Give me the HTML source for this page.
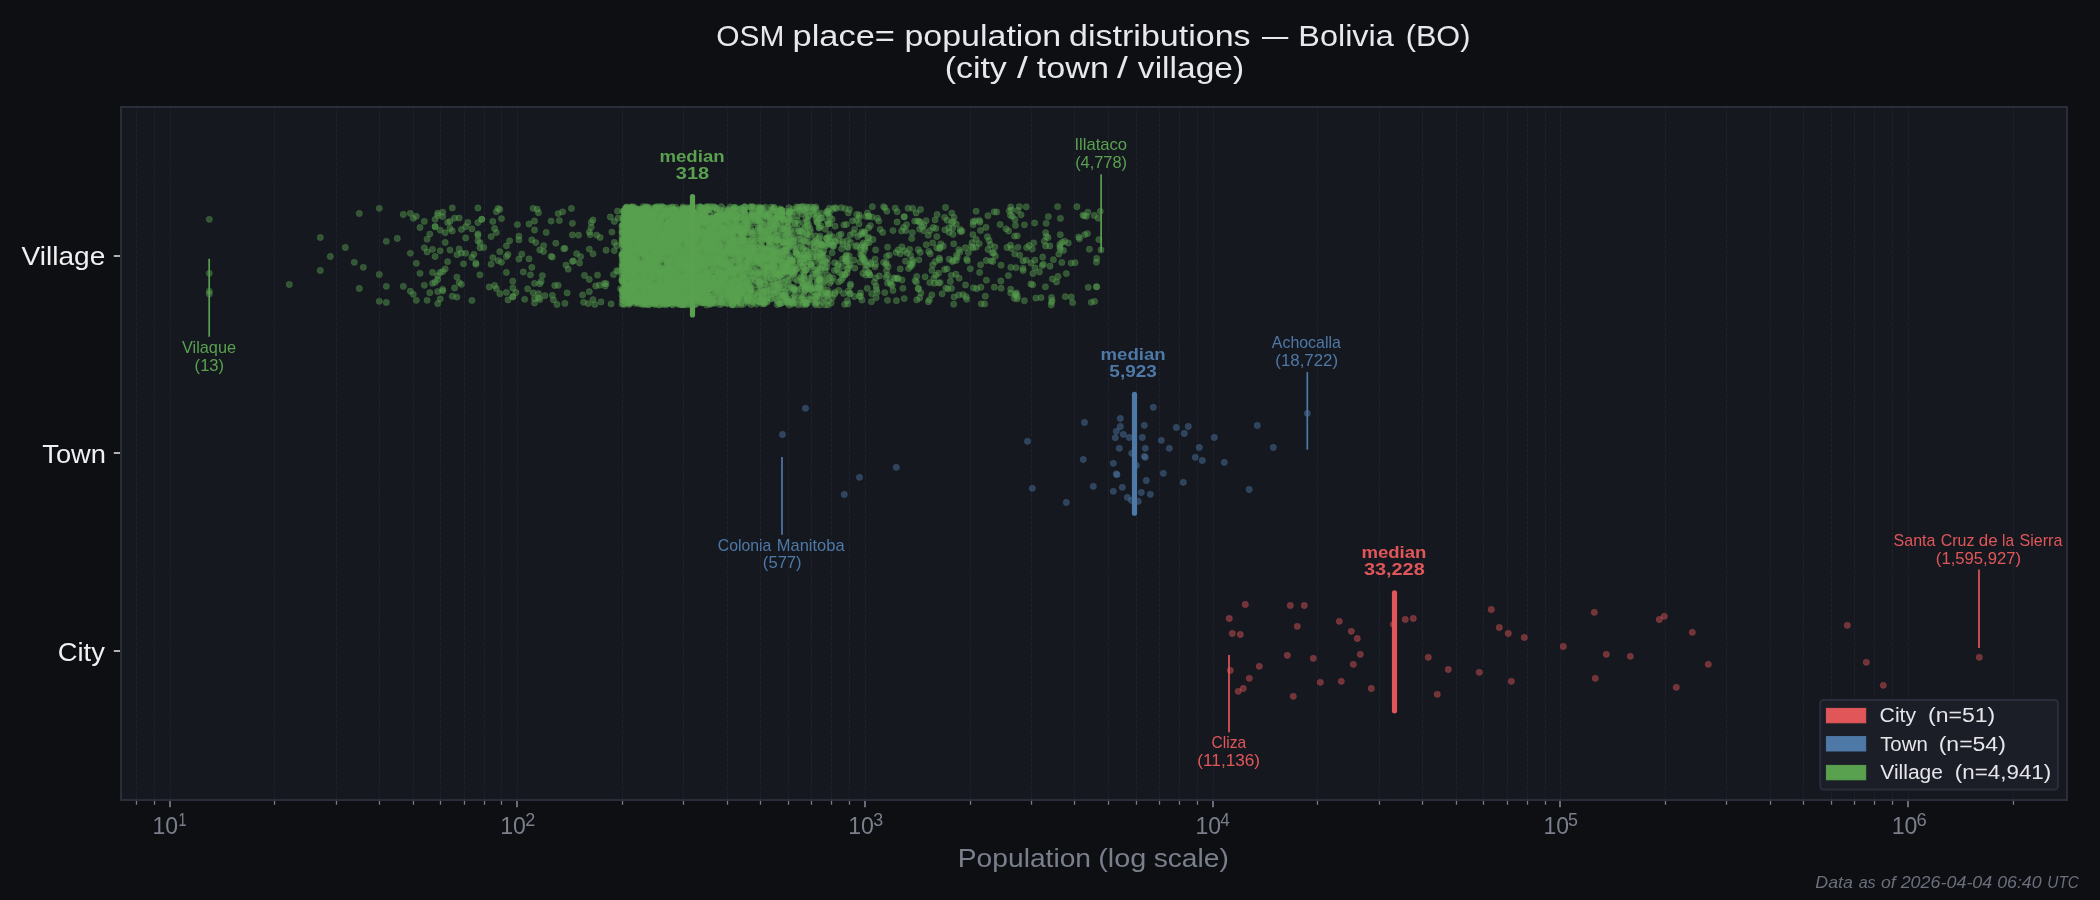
<!DOCTYPE html>
<html><head><meta charset="utf-8"><title>OSM place= population distributions</title>
<style>html,body{margin:0;padding:0;background:#0e0f13;overflow:hidden}svg{display:block;will-change:transform}text{font-family:"Liberation Sans", sans-serif;white-space:pre}</style></head><body>
<svg width="2100" height="900" viewBox="0 0 2100 900">
<rect width="2100" height="900" fill="#0e0f13"/>
<rect x="121.0" y="107.0" width="1946.0" height="693.0" fill="#161820"/>
<path d="M170.5 800.0V107.0M517.5 800.0V107.0M865.5 800.0V107.0M1213.5 800.0V107.0M1560.5 800.0V107.0M1908.5 800.0V107.0M136.5 800.0V107.0M154.5 800.0V107.0M274.5 800.0V107.0M336.5 800.0V107.0M379.5 800.0V107.0M413.5 800.0V107.0M440.5 800.0V107.0M464.5 800.0V107.0M484.5 800.0V107.0M501.5 800.0V107.0M622.5 800.0V107.0M683.5 800.0V107.0M727.5 800.0V107.0M760.5 800.0V107.0M788.5 800.0V107.0M811.5 800.0V107.0M831.5 800.0V107.0M849.5 800.0V107.0M970.5 800.0V107.0M1031.5 800.0V107.0M1074.5 800.0V107.0M1108.5 800.0V107.0M1136.5 800.0V107.0M1159.5 800.0V107.0M1179.5 800.0V107.0M1197.5 800.0V107.0M1317.5 800.0V107.0M1379.5 800.0V107.0M1422.5 800.0V107.0M1456.5 800.0V107.0M1483.5 800.0V107.0M1507.5 800.0V107.0M1527.5 800.0V107.0M1545.5 800.0V107.0M1665.5 800.0V107.0M1726.5 800.0V107.0M1770.5 800.0V107.0M1803.5 800.0V107.0M1831.5 800.0V107.0M1854.5 800.0V107.0M1874.5 800.0V107.0M1892.5 800.0V107.0M2013.5 800.0V107.0" stroke="#1f222c" stroke-width="1.05" stroke-dasharray="3.85 1.67" stroke-dashoffset="0.55" fill="none"/>
<g fill="#59a14f" fill-opacity="0.45" stroke="#59a14f" stroke-opacity="0.45" stroke-width="0.5">
<circle cx="209.3" cy="219.3" r="3.15"/><circle cx="209.3" cy="273.3" r="3.15"/><circle cx="209.3" cy="291.3" r="3.15"/><circle cx="209.3" cy="294.0" r="3.15"/><circle cx="289.3" cy="284.5" r="3.15"/><circle cx="320.3" cy="237.5" r="3.15"/><circle cx="320.3" cy="270.5" r="3.15"/><circle cx="330.3" cy="256.5" r="3.15"/><circle cx="345.3" cy="247.5" r="3.15"/><circle cx="354.3" cy="262.3" r="3.15"/><circle cx="363.3" cy="267.3" r="3.15"/><circle cx="359.3" cy="213.5" r="3.15"/><circle cx="359.3" cy="288.5" r="3.15"/><circle cx="379.3" cy="208.3" r="3.15"/><circle cx="379.3" cy="274.5" r="3.15"/><circle cx="379.3" cy="301.3" r="3.15"/><circle cx="386.3" cy="241.3" r="3.15"/><circle cx="386.3" cy="286.3" r="3.15"/><circle cx="386.3" cy="302.5" r="3.15"/><circle cx="397.3" cy="238.5" r="3.15"/><circle cx="403.3" cy="214.5" r="3.15"/><circle cx="403.3" cy="286.3" r="3.15"/><circle cx="410.3" cy="213.3" r="3.15"/><circle cx="413.3" cy="218.3" r="3.15"/><circle cx="416.3" cy="216.3" r="3.15"/><circle cx="410.3" cy="253.3" r="3.15"/><circle cx="416.3" cy="263.3" r="3.15"/><circle cx="410.3" cy="291.2" r="3.15"/><circle cx="413.3" cy="294.3" r="3.15"/><circle cx="416.3" cy="300.3" r="3.15"/><circle cx="420.0" cy="227.5" r="3.15"/><circle cx="420.0" cy="273.3" r="3.15"/><circle cx="756.1" cy="237.8" r="3.15"/><circle cx="721.3" cy="278.3" r="3.15"/><circle cx="842.8" cy="277.8" r="3.15"/><circle cx="685.3" cy="222.1" r="3.15"/><circle cx="848.1" cy="268.2" r="3.15"/><circle cx="768.1" cy="291.9" r="3.15"/><circle cx="771.5" cy="235.2" r="3.15"/><circle cx="626.5" cy="244.7" r="3.15"/><circle cx="708.3" cy="298.3" r="3.15"/><circle cx="685.8" cy="253.5" r="3.15"/><circle cx="630.1" cy="208.6" r="3.15"/><circle cx="829.7" cy="241.2" r="3.15"/><circle cx="664.0" cy="238.8" r="3.15"/><circle cx="637.8" cy="245.2" r="3.15"/><circle cx="759.2" cy="207.1" r="3.15"/><circle cx="641.2" cy="271.7" r="3.15"/><circle cx="668.5" cy="228.4" r="3.15"/><circle cx="665.7" cy="245.4" r="3.15"/><circle cx="707.0" cy="206.5" r="3.15"/><circle cx="651.4" cy="269.3" r="3.15"/><circle cx="803.2" cy="263.2" r="3.15"/><circle cx="709.5" cy="252.0" r="3.15"/><circle cx="769.5" cy="225.4" r="3.15"/><circle cx="636.4" cy="242.9" r="3.15"/><circle cx="806.2" cy="303.5" r="3.15"/><circle cx="739.0" cy="282.9" r="3.15"/><circle cx="675.0" cy="210.8" r="3.15"/><circle cx="719.0" cy="215.5" r="3.15"/><circle cx="699.0" cy="288.6" r="3.15"/><circle cx="728.2" cy="284.0" r="3.15"/><circle cx="652.7" cy="293.1" r="3.15"/><circle cx="758.0" cy="257.5" r="3.15"/><circle cx="618.2" cy="218.1" r="3.15"/><circle cx="771.5" cy="255.1" r="3.15"/><circle cx="709.5" cy="284.5" r="3.15"/><circle cx="839.1" cy="272.3" r="3.15"/><circle cx="705.7" cy="283.7" r="3.15"/><circle cx="675.0" cy="235.2" r="3.15"/><circle cx="944.6" cy="269.5" r="3.15"/><circle cx="508.0" cy="299.9" r="3.15"/><circle cx="630.1" cy="296.7" r="3.15"/><circle cx="686.3" cy="222.8" r="3.15"/><circle cx="772.0" cy="270.8" r="3.15"/><circle cx="771.2" cy="242.2" r="3.15"/><circle cx="769.2" cy="255.4" r="3.15"/><circle cx="742.5" cy="242.5" r="3.15"/><circle cx="752.0" cy="301.5" r="3.15"/><circle cx="641.2" cy="210.7" r="3.15"/><circle cx="717.0" cy="216.3" r="3.15"/><circle cx="823.0" cy="255.2" r="3.15"/><circle cx="674.5" cy="216.7" r="3.15"/><circle cx="859.2" cy="214.9" r="3.15"/><circle cx="670.7" cy="250.1" r="3.15"/><circle cx="841.1" cy="234.2" r="3.15"/><circle cx="867.3" cy="288.3" r="3.15"/><circle cx="774.2" cy="211.1" r="3.15"/><circle cx="635.1" cy="303.3" r="3.15"/><circle cx="663.4" cy="291.7" r="3.15"/><circle cx="766.6" cy="291.1" r="3.15"/><circle cx="695.8" cy="252.0" r="3.15"/><circle cx="679.2" cy="249.1" r="3.15"/><circle cx="677.6" cy="242.0" r="3.15"/><circle cx="709.1" cy="221.9" r="3.15"/><circle cx="628.0" cy="245.3" r="3.15"/><circle cx="440.2" cy="250.8" r="3.15"/><circle cx="730.8" cy="295.8" r="3.15"/><circle cx="744.5" cy="287.3" r="3.15"/><circle cx="919.8" cy="222.3" r="3.15"/><circle cx="683.3" cy="253.9" r="3.15"/><circle cx="796.7" cy="206.9" r="3.15"/><circle cx="832.9" cy="277.8" r="3.15"/><circle cx="680.7" cy="235.5" r="3.15"/><circle cx="741.4" cy="293.7" r="3.15"/><circle cx="717.4" cy="225.1" r="3.15"/><circle cx="437.7" cy="215.4" r="3.15"/><circle cx="627.2" cy="268.0" r="3.15"/><circle cx="804.6" cy="287.6" r="3.15"/><circle cx="658.1" cy="273.3" r="3.15"/><circle cx="815.9" cy="218.0" r="3.15"/><circle cx="683.3" cy="218.0" r="3.15"/><circle cx="691.1" cy="255.7" r="3.15"/><circle cx="633.7" cy="280.0" r="3.15"/><circle cx="765.2" cy="261.0" r="3.15"/><circle cx="653.3" cy="298.7" r="3.15"/><circle cx="653.3" cy="276.7" r="3.15"/><circle cx="849.2" cy="255.9" r="3.15"/><circle cx="880.1" cy="229.3" r="3.15"/><circle cx="625.0" cy="277.8" r="3.15"/><circle cx="740.1" cy="221.0" r="3.15"/><circle cx="650.8" cy="265.9" r="3.15"/><circle cx="652.7" cy="280.6" r="3.15"/><circle cx="703.9" cy="265.9" r="3.15"/><circle cx="781.8" cy="216.9" r="3.15"/><circle cx="821.0" cy="292.7" r="3.15"/><circle cx="775.1" cy="259.6" r="3.15"/><circle cx="673.9" cy="280.8" r="3.15"/><circle cx="764.0" cy="251.9" r="3.15"/><circle cx="450.0" cy="221.4" r="3.15"/><circle cx="529.0" cy="258.9" r="3.15"/><circle cx="675.5" cy="282.4" r="3.15"/><circle cx="722.9" cy="275.1" r="3.15"/><circle cx="688.2" cy="217.9" r="3.15"/><circle cx="720.5" cy="283.4" r="3.15"/><circle cx="686.7" cy="276.8" r="3.15"/><circle cx="769.5" cy="242.4" r="3.15"/><circle cx="876.1" cy="297.7" r="3.15"/><circle cx="753.3" cy="262.1" r="3.15"/><circle cx="783.6" cy="260.2" r="3.15"/><circle cx="661.1" cy="243.3" r="3.15"/><circle cx="689.7" cy="272.8" r="3.15"/><circle cx="745.8" cy="269.0" r="3.15"/><circle cx="646.4" cy="289.8" r="3.15"/><circle cx="1011.5" cy="209.8" r="3.15"/><circle cx="754.2" cy="257.8" r="3.15"/><circle cx="706.5" cy="256.8" r="3.15"/><circle cx="789.2" cy="212.4" r="3.15"/><circle cx="670.7" cy="231.0" r="3.15"/><circle cx="629.4" cy="298.1" r="3.15"/><circle cx="625.8" cy="288.1" r="3.15"/><circle cx="671.8" cy="258.7" r="3.15"/><circle cx="679.7" cy="298.9" r="3.15"/><circle cx="789.4" cy="271.6" r="3.15"/><circle cx="671.8" cy="241.4" r="3.15"/><circle cx="538.5" cy="293.6" r="3.15"/><circle cx="630.8" cy="233.8" r="3.15"/><circle cx="791.9" cy="212.0" r="3.15"/><circle cx="740.8" cy="239.1" r="3.15"/><circle cx="703.5" cy="246.1" r="3.15"/><circle cx="741.1" cy="302.7" r="3.15"/><circle cx="667.4" cy="211.4" r="3.15"/><circle cx="752.0" cy="213.8" r="3.15"/><circle cx="721.3" cy="294.8" r="3.15"/><circle cx="680.2" cy="226.4" r="3.15"/><circle cx="821.4" cy="217.9" r="3.15"/><circle cx="747.5" cy="292.0" r="3.15"/><circle cx="758.9" cy="209.7" r="3.15"/><circle cx="427.1" cy="300.3" r="3.15"/><circle cx="714.9" cy="278.3" r="3.15"/><circle cx="640.5" cy="245.9" r="3.15"/><circle cx="735.9" cy="256.5" r="3.15"/><circle cx="729.7" cy="209.9" r="3.15"/><circle cx="658.1" cy="264.0" r="3.15"/><circle cx="661.7" cy="247.7" r="3.15"/><circle cx="634.4" cy="266.6" r="3.15"/><circle cx="654.5" cy="239.3" r="3.15"/><circle cx="695.8" cy="272.3" r="3.15"/><circle cx="758.9" cy="292.2" r="3.15"/><circle cx="727.8" cy="221.2" r="3.15"/><circle cx="667.9" cy="297.7" r="3.15"/><circle cx="801.9" cy="297.3" r="3.15"/><circle cx="632.3" cy="208.0" r="3.15"/><circle cx="629.4" cy="224.3" r="3.15"/><circle cx="718.6" cy="246.2" r="3.15"/><circle cx="680.7" cy="291.7" r="3.15"/><circle cx="673.9" cy="222.7" r="3.15"/><circle cx="733.4" cy="287.6" r="3.15"/><circle cx="657.5" cy="254.2" r="3.15"/><circle cx="1030.9" cy="284.0" r="3.15"/><circle cx="657.5" cy="235.3" r="3.15"/><circle cx="724.4" cy="219.2" r="3.15"/><circle cx="456.9" cy="277.1" r="3.15"/><circle cx="622.8" cy="289.4" r="3.15"/><circle cx="1043.4" cy="264.2" r="3.15"/><circle cx="741.8" cy="273.8" r="3.15"/><circle cx="721.3" cy="217.9" r="3.15"/><circle cx="700.4" cy="251.1" r="3.15"/><circle cx="572.4" cy="223.3" r="3.15"/><circle cx="811.6" cy="299.6" r="3.15"/><circle cx="633.0" cy="209.4" r="3.15"/><circle cx="722.1" cy="270.5" r="3.15"/><circle cx="649.6" cy="226.3" r="3.15"/><circle cx="731.2" cy="233.2" r="3.15"/><circle cx="692.5" cy="291.4" r="3.15"/><circle cx="658.1" cy="253.5" r="3.15"/><circle cx="1061.8" cy="262.5" r="3.15"/><circle cx="919.5" cy="229.1" r="3.15"/><circle cx="675.5" cy="302.9" r="3.15"/><circle cx="683.8" cy="209.9" r="3.15"/><circle cx="724.8" cy="257.3" r="3.15"/><circle cx="653.3" cy="260.9" r="3.15"/><circle cx="785.9" cy="250.6" r="3.15"/><circle cx="643.8" cy="247.7" r="3.15"/><circle cx="632.3" cy="291.6" r="3.15"/><circle cx="647.7" cy="220.7" r="3.15"/><circle cx="774.8" cy="265.7" r="3.15"/><circle cx="719.4" cy="228.4" r="3.15"/><circle cx="682.8" cy="285.6" r="3.15"/><circle cx="708.3" cy="300.6" r="3.15"/><circle cx="759.8" cy="300.9" r="3.15"/><circle cx="639.2" cy="265.6" r="3.15"/><circle cx="743.8" cy="253.6" r="3.15"/><circle cx="720.1" cy="304.5" r="3.15"/><circle cx="652.1" cy="289.0" r="3.15"/><circle cx="699.9" cy="290.8" r="3.15"/><circle cx="645.7" cy="238.7" r="3.15"/><circle cx="703.1" cy="297.2" r="3.15"/><circle cx="724.4" cy="221.6" r="3.15"/><circle cx="779.1" cy="265.8" r="3.15"/><circle cx="756.1" cy="247.7" r="3.15"/><circle cx="626.5" cy="244.7" r="3.15"/><circle cx="773.7" cy="293.8" r="3.15"/><circle cx="639.8" cy="242.6" r="3.15"/><circle cx="636.4" cy="293.6" r="3.15"/><circle cx="655.1" cy="294.3" r="3.15"/><circle cx="673.9" cy="290.0" r="3.15"/><circle cx="749.4" cy="253.5" r="3.15"/><circle cx="696.7" cy="271.2" r="3.15"/><circle cx="694.9" cy="232.1" r="3.15"/><circle cx="703.1" cy="214.8" r="3.15"/><circle cx="659.3" cy="207.3" r="3.15"/><circle cx="782.5" cy="302.6" r="3.15"/><circle cx="647.0" cy="304.2" r="3.15"/><circle cx="928.2" cy="235.2" r="3.15"/><circle cx="966.7" cy="259.1" r="3.15"/><circle cx="823.0" cy="286.6" r="3.15"/><circle cx="733.0" cy="278.2" r="3.15"/><circle cx="719.8" cy="286.9" r="3.15"/><circle cx="804.1" cy="295.2" r="3.15"/><circle cx="689.7" cy="225.5" r="3.15"/><circle cx="729.7" cy="235.8" r="3.15"/><circle cx="695.4" cy="303.6" r="3.15"/><circle cx="705.2" cy="260.0" r="3.15"/><circle cx="475.9" cy="264.3" r="3.15"/><circle cx="721.3" cy="253.0" r="3.15"/><circle cx="770.3" cy="298.1" r="3.15"/><circle cx="758.9" cy="260.3" r="3.15"/><circle cx="710.8" cy="247.0" r="3.15"/><circle cx="643.1" cy="236.1" r="3.15"/><circle cx="773.1" cy="263.0" r="3.15"/><circle cx="671.8" cy="228.3" r="3.15"/><circle cx="669.6" cy="261.5" r="3.15"/><circle cx="738.3" cy="247.4" r="3.15"/><circle cx="683.3" cy="208.0" r="3.15"/><circle cx="712.0" cy="282.3" r="3.15"/><circle cx="668.5" cy="294.6" r="3.15"/><circle cx="633.0" cy="222.4" r="3.15"/><circle cx="889.9" cy="281.7" r="3.15"/><circle cx="785.9" cy="245.1" r="3.15"/><circle cx="770.3" cy="267.8" r="3.15"/><circle cx="795.1" cy="296.4" r="3.15"/><circle cx="639.8" cy="279.5" r="3.15"/><circle cx="694.9" cy="286.3" r="3.15"/><circle cx="647.7" cy="301.0" r="3.15"/><circle cx="725.9" cy="258.7" r="3.15"/><circle cx="758.0" cy="259.0" r="3.15"/><circle cx="782.0" cy="257.3" r="3.15"/><circle cx="666.2" cy="269.2" r="3.15"/><circle cx="760.1" cy="227.8" r="3.15"/><circle cx="886.6" cy="256.3" r="3.15"/><circle cx="655.1" cy="211.8" r="3.15"/><circle cx="667.4" cy="264.4" r="3.15"/><circle cx="672.8" cy="285.0" r="3.15"/><circle cx="661.7" cy="258.1" r="3.15"/><circle cx="701.3" cy="291.0" r="3.15"/><circle cx="672.3" cy="277.4" r="3.15"/><circle cx="640.5" cy="255.8" r="3.15"/><circle cx="632.3" cy="215.8" r="3.15"/><circle cx="757.0" cy="297.0" r="3.15"/><circle cx="622.8" cy="260.8" r="3.15"/><circle cx="668.5" cy="302.1" r="3.15"/><circle cx="675.5" cy="288.0" r="3.15"/><circle cx="656.9" cy="229.3" r="3.15"/><circle cx="673.9" cy="252.4" r="3.15"/><circle cx="499.8" cy="251.7" r="3.15"/><circle cx="665.7" cy="241.1" r="3.15"/><circle cx="850.2" cy="264.4" r="3.15"/><circle cx="625.0" cy="208.7" r="3.15"/><circle cx="732.3" cy="291.2" r="3.15"/><circle cx="628.7" cy="295.6" r="3.15"/><circle cx="625.8" cy="283.3" r="3.15"/><circle cx="678.7" cy="289.5" r="3.15"/><circle cx="680.7" cy="247.4" r="3.15"/><circle cx="790.7" cy="261.2" r="3.15"/><circle cx="746.8" cy="256.8" r="3.15"/><circle cx="737.3" cy="232.5" r="3.15"/><circle cx="718.2" cy="256.3" r="3.15"/><circle cx="628.0" cy="277.2" r="3.15"/><circle cx="625.8" cy="262.1" r="3.15"/><circle cx="632.3" cy="263.0" r="3.15"/><circle cx="665.1" cy="251.1" r="3.15"/><circle cx="706.1" cy="209.7" r="3.15"/><circle cx="768.1" cy="236.1" r="3.15"/><circle cx="682.8" cy="232.9" r="3.15"/><circle cx="678.7" cy="264.0" r="3.15"/><circle cx="675.5" cy="210.6" r="3.15"/><circle cx="794.6" cy="295.2" r="3.15"/><circle cx="820.4" cy="260.3" r="3.15"/><circle cx="717.0" cy="237.7" r="3.15"/><circle cx="534.5" cy="230.0" r="3.15"/><circle cx="711.6" cy="298.8" r="3.15"/><circle cx="788.9" cy="207.7" r="3.15"/><circle cx="810.3" cy="231.5" r="3.15"/><circle cx="710.8" cy="244.7" r="3.15"/><circle cx="782.5" cy="250.9" r="3.15"/><circle cx="665.7" cy="266.0" r="3.15"/><circle cx="694.0" cy="218.6" r="3.15"/><circle cx="634.4" cy="260.4" r="3.15"/><circle cx="686.3" cy="261.3" r="3.15"/><circle cx="666.8" cy="250.3" r="3.15"/><circle cx="736.6" cy="300.7" r="3.15"/><circle cx="739.7" cy="251.5" r="3.15"/><circle cx="771.7" cy="260.5" r="3.15"/><circle cx="754.9" cy="279.9" r="3.15"/><circle cx="704.8" cy="290.2" r="3.15"/><circle cx="703.9" cy="278.7" r="3.15"/><circle cx="672.3" cy="226.6" r="3.15"/><circle cx="542.4" cy="275.6" r="3.15"/><circle cx="594.8" cy="304.4" r="3.15"/><circle cx="630.1" cy="265.1" r="3.15"/><circle cx="801.9" cy="214.1" r="3.15"/><circle cx="715.3" cy="256.2" r="3.15"/><circle cx="666.8" cy="301.9" r="3.15"/><circle cx="656.3" cy="272.4" r="3.15"/><circle cx="702.6" cy="293.7" r="3.15"/><circle cx="692.1" cy="284.6" r="3.15"/><circle cx="804.4" cy="241.1" r="3.15"/><circle cx="1012.3" cy="216.3" r="3.15"/><circle cx="784.9" cy="291.8" r="3.15"/><circle cx="862.6" cy="258.5" r="3.15"/><circle cx="900.2" cy="253.7" r="3.15"/><circle cx="499.8" cy="293.7" r="3.15"/><circle cx="954.1" cy="296.9" r="3.15"/><circle cx="639.2" cy="262.2" r="3.15"/><circle cx="994.8" cy="247.0" r="3.15"/><circle cx="531.8" cy="239.9" r="3.15"/><circle cx="758.3" cy="227.4" r="3.15"/><circle cx="644.5" cy="289.6" r="3.15"/><circle cx="737.3" cy="289.8" r="3.15"/><circle cx="696.3" cy="267.6" r="3.15"/><circle cx="1065.3" cy="296.6" r="3.15"/><circle cx="750.4" cy="291.2" r="3.15"/><circle cx="745.2" cy="225.8" r="3.15"/><circle cx="696.3" cy="298.4" r="3.15"/><circle cx="709.1" cy="262.9" r="3.15"/><circle cx="689.7" cy="254.5" r="3.15"/><circle cx="841.2" cy="207.7" r="3.15"/><circle cx="692.5" cy="250.3" r="3.15"/><circle cx="643.8" cy="251.9" r="3.15"/><circle cx="685.3" cy="283.8" r="3.15"/><circle cx="708.7" cy="303.4" r="3.15"/><circle cx="681.2" cy="241.2" r="3.15"/><circle cx="635.7" cy="266.5" r="3.15"/><circle cx="650.2" cy="300.0" r="3.15"/><circle cx="699.0" cy="261.6" r="3.15"/><circle cx="686.3" cy="231.8" r="3.15"/><circle cx="719.8" cy="248.4" r="3.15"/><circle cx="827.7" cy="213.9" r="3.15"/><circle cx="645.7" cy="219.9" r="3.15"/><circle cx="713.3" cy="300.9" r="3.15"/><circle cx="681.7" cy="304.7" r="3.15"/><circle cx="662.8" cy="226.6" r="3.15"/><circle cx="646.4" cy="247.6" r="3.15"/><circle cx="773.4" cy="251.0" r="3.15"/><circle cx="695.8" cy="271.6" r="3.15"/><circle cx="647.0" cy="270.1" r="3.15"/><circle cx="633.0" cy="257.0" r="3.15"/><circle cx="719.0" cy="292.6" r="3.15"/><circle cx="1035.8" cy="298.1" r="3.15"/><circle cx="636.4" cy="302.5" r="3.15"/><circle cx="647.0" cy="260.8" r="3.15"/><circle cx="661.1" cy="224.4" r="3.15"/><circle cx="916.4" cy="282.1" r="3.15"/><circle cx="674.5" cy="243.9" r="3.15"/><circle cx="680.2" cy="263.8" r="3.15"/><circle cx="637.1" cy="281.5" r="3.15"/><circle cx="1079.5" cy="238.8" r="3.15"/><circle cx="760.1" cy="284.9" r="3.15"/><circle cx="678.7" cy="263.2" r="3.15"/><circle cx="818.4" cy="287.2" r="3.15"/><circle cx="741.1" cy="304.7" r="3.15"/><circle cx="768.1" cy="255.8" r="3.15"/><circle cx="711.6" cy="254.9" r="3.15"/><circle cx="703.9" cy="277.8" r="3.15"/><circle cx="645.1" cy="255.2" r="3.15"/><circle cx="679.7" cy="257.9" r="3.15"/><circle cx="722.1" cy="272.5" r="3.15"/><circle cx="698.1" cy="235.3" r="3.15"/><circle cx="635.1" cy="279.1" r="3.15"/><circle cx="691.1" cy="271.0" r="3.15"/><circle cx="738.3" cy="244.8" r="3.15"/><circle cx="678.1" cy="251.4" r="3.15"/><circle cx="752.7" cy="207.2" r="3.15"/><circle cx="639.8" cy="260.4" r="3.15"/><circle cx="675.5" cy="267.3" r="3.15"/><circle cx="724.8" cy="251.5" r="3.15"/><circle cx="847.3" cy="300.7" r="3.15"/><circle cx="747.5" cy="232.4" r="3.15"/><circle cx="727.5" cy="272.5" r="3.15"/><circle cx="817.7" cy="268.3" r="3.15"/><circle cx="783.1" cy="242.1" r="3.15"/><circle cx="771.2" cy="294.0" r="3.15"/><circle cx="779.1" cy="260.0" r="3.15"/><circle cx="743.1" cy="262.5" r="3.15"/><circle cx="622.0" cy="280.5" r="3.15"/><circle cx="865.5" cy="269.6" r="3.15"/><circle cx="538.5" cy="297.9" r="3.15"/><circle cx="640.5" cy="252.5" r="3.15"/><circle cx="634.4" cy="249.4" r="3.15"/><circle cx="705.7" cy="285.7" r="3.15"/><circle cx="647.0" cy="238.1" r="3.15"/><circle cx="772.3" cy="256.7" r="3.15"/><circle cx="717.8" cy="223.6" r="3.15"/><circle cx="769.2" cy="243.0" r="3.15"/><circle cx="650.2" cy="301.3" r="3.15"/><circle cx="709.1" cy="230.4" r="3.15"/><circle cx="792.9" cy="288.2" r="3.15"/><circle cx="684.8" cy="285.4" r="3.15"/><circle cx="869.7" cy="274.8" r="3.15"/><circle cx="664.5" cy="277.9" r="3.15"/><circle cx="675.0" cy="264.3" r="3.15"/><circle cx="562.7" cy="211.8" r="3.15"/><circle cx="670.1" cy="244.5" r="3.15"/><circle cx="427.1" cy="239.2" r="3.15"/><circle cx="637.1" cy="301.3" r="3.15"/><circle cx="747.1" cy="289.8" r="3.15"/><circle cx="644.5" cy="220.0" r="3.15"/><circle cx="628.7" cy="223.3" r="3.15"/><circle cx="626.5" cy="241.1" r="3.15"/><circle cx="625.0" cy="294.2" r="3.15"/><circle cx="696.7" cy="280.6" r="3.15"/><circle cx="680.2" cy="219.1" r="3.15"/><circle cx="764.6" cy="214.2" r="3.15"/><circle cx="724.0" cy="252.5" r="3.15"/><circle cx="628.7" cy="216.1" r="3.15"/><circle cx="797.0" cy="289.8" r="3.15"/><circle cx="633.0" cy="258.9" r="3.15"/><circle cx="643.1" cy="241.7" r="3.15"/><circle cx="810.1" cy="283.7" r="3.15"/><circle cx="652.1" cy="293.5" r="3.15"/><circle cx="643.8" cy="276.6" r="3.15"/><circle cx="652.7" cy="233.0" r="3.15"/><circle cx="692.5" cy="215.6" r="3.15"/><circle cx="958.8" cy="249.6" r="3.15"/><circle cx="664.5" cy="236.4" r="3.15"/><circle cx="710.0" cy="291.6" r="3.15"/><circle cx="623.5" cy="256.3" r="3.15"/><circle cx="706.5" cy="224.2" r="3.15"/><circle cx="908.6" cy="268.5" r="3.15"/><circle cx="650.2" cy="271.5" r="3.15"/><circle cx="643.8" cy="293.1" r="3.15"/><circle cx="714.1" cy="265.8" r="3.15"/><circle cx="739.7" cy="231.2" r="3.15"/><circle cx="635.1" cy="242.4" r="3.15"/><circle cx="738.0" cy="261.4" r="3.15"/><circle cx="707.8" cy="255.9" r="3.15"/><circle cx="720.5" cy="245.6" r="3.15"/><circle cx="815.2" cy="241.4" r="3.15"/><circle cx="717.8" cy="274.9" r="3.15"/><circle cx="715.3" cy="302.8" r="3.15"/><circle cx="714.1" cy="286.6" r="3.15"/><circle cx="655.7" cy="300.1" r="3.15"/><circle cx="751.1" cy="240.9" r="3.15"/><circle cx="665.7" cy="242.4" r="3.15"/><circle cx="643.1" cy="226.6" r="3.15"/><circle cx="847.0" cy="272.8" r="3.15"/><circle cx="712.0" cy="224.9" r="3.15"/><circle cx="635.7" cy="218.0" r="3.15"/><circle cx="650.2" cy="226.4" r="3.15"/><circle cx="703.1" cy="217.3" r="3.15"/><circle cx="750.7" cy="221.2" r="3.15"/><circle cx="650.2" cy="220.6" r="3.15"/><circle cx="779.1" cy="253.4" r="3.15"/><circle cx="690.6" cy="208.1" r="3.15"/><circle cx="697.2" cy="219.9" r="3.15"/><circle cx="656.3" cy="294.3" r="3.15"/><circle cx="718.6" cy="241.6" r="3.15"/><circle cx="756.7" cy="219.7" r="3.15"/><circle cx="724.8" cy="287.5" r="3.15"/><circle cx="714.5" cy="223.4" r="3.15"/><circle cx="766.9" cy="298.5" r="3.15"/><circle cx="700.8" cy="240.3" r="3.15"/><circle cx="712.0" cy="272.1" r="3.15"/><circle cx="641.8" cy="276.6" r="3.15"/><circle cx="694.4" cy="256.5" r="3.15"/><circle cx="622.8" cy="289.8" r="3.15"/><circle cx="707.8" cy="250.8" r="3.15"/><circle cx="623.5" cy="267.5" r="3.15"/><circle cx="655.1" cy="255.4" r="3.15"/><circle cx="529.0" cy="224.0" r="3.15"/><circle cx="668.5" cy="295.4" r="3.15"/><circle cx="912.5" cy="259.8" r="3.15"/><circle cx="740.8" cy="241.8" r="3.15"/><circle cx="803.5" cy="283.8" r="3.15"/><circle cx="805.9" cy="218.1" r="3.15"/><circle cx="847.5" cy="269.5" r="3.15"/><circle cx="643.8" cy="256.2" r="3.15"/><circle cx="719.8" cy="209.8" r="3.15"/><circle cx="688.7" cy="207.9" r="3.15"/><circle cx="680.7" cy="296.7" r="3.15"/><circle cx="699.5" cy="276.6" r="3.15"/><circle cx="752.7" cy="233.7" r="3.15"/><circle cx="682.8" cy="283.6" r="3.15"/><circle cx="633.7" cy="242.1" r="3.15"/><circle cx="807.7" cy="207.7" r="3.15"/><circle cx="830.2" cy="293.6" r="3.15"/><circle cx="789.9" cy="255.4" r="3.15"/><circle cx="701.7" cy="215.0" r="3.15"/><circle cx="698.1" cy="291.1" r="3.15"/><circle cx="496.4" cy="232.6" r="3.15"/><circle cx="664.0" cy="227.5" r="3.15"/><circle cx="897.5" cy="278.0" r="3.15"/><circle cx="764.3" cy="283.9" r="3.15"/><circle cx="699.0" cy="230.3" r="3.15"/><circle cx="701.7" cy="264.4" r="3.15"/><circle cx="647.7" cy="245.2" r="3.15"/><circle cx="642.5" cy="248.1" r="3.15"/><circle cx="703.1" cy="256.1" r="3.15"/><circle cx="732.6" cy="242.8" r="3.15"/><circle cx="767.5" cy="296.2" r="3.15"/><circle cx="762.2" cy="241.1" r="3.15"/><circle cx="677.6" cy="264.9" r="3.15"/><circle cx="718.2" cy="273.7" r="3.15"/><circle cx="672.8" cy="226.7" r="3.15"/><circle cx="719.0" cy="271.4" r="3.15"/><circle cx="652.7" cy="236.3" r="3.15"/><circle cx="727.8" cy="294.3" r="3.15"/><circle cx="645.1" cy="293.8" r="3.15"/><circle cx="727.1" cy="211.1" r="3.15"/><circle cx="589.3" cy="291.7" r="3.15"/><circle cx="1066.3" cy="273.6" r="3.15"/><circle cx="734.8" cy="270.4" r="3.15"/><circle cx="779.9" cy="256.6" r="3.15"/><circle cx="679.7" cy="262.4" r="3.15"/><circle cx="650.8" cy="231.9" r="3.15"/><circle cx="725.2" cy="293.4" r="3.15"/><circle cx="932.7" cy="265.0" r="3.15"/><circle cx="685.8" cy="266.8" r="3.15"/><circle cx="678.1" cy="288.0" r="3.15"/><circle cx="659.3" cy="297.6" r="3.15"/><circle cx="669.6" cy="296.6" r="3.15"/><circle cx="761.3" cy="263.9" r="3.15"/><circle cx="680.7" cy="268.5" r="3.15"/><circle cx="793.1" cy="245.4" r="3.15"/><circle cx="657.5" cy="249.7" r="3.15"/><circle cx="693.0" cy="238.1" r="3.15"/><circle cx="717.4" cy="253.6" r="3.15"/><circle cx="698.6" cy="299.1" r="3.15"/><circle cx="622.8" cy="290.6" r="3.15"/><circle cx="655.1" cy="284.7" r="3.15"/><circle cx="868.6" cy="216.5" r="3.15"/><circle cx="658.7" cy="299.0" r="3.15"/><circle cx="712.9" cy="236.1" r="3.15"/><circle cx="624.3" cy="264.8" r="3.15"/><circle cx="635.1" cy="215.4" r="3.15"/><circle cx="639.2" cy="266.7" r="3.15"/><circle cx="676.6" cy="232.2" r="3.15"/><circle cx="691.6" cy="209.9" r="3.15"/><circle cx="633.0" cy="250.5" r="3.15"/><circle cx="614.3" cy="242.5" r="3.15"/><circle cx="777.5" cy="253.8" r="3.15"/><circle cx="738.3" cy="216.1" r="3.15"/><circle cx="669.6" cy="303.4" r="3.15"/><circle cx="774.0" cy="228.8" r="3.15"/><circle cx="697.2" cy="222.7" r="3.15"/><circle cx="637.8" cy="230.9" r="3.15"/><circle cx="709.1" cy="222.9" r="3.15"/><circle cx="633.0" cy="236.0" r="3.15"/><circle cx="633.0" cy="226.0" r="3.15"/><circle cx="631.6" cy="240.4" r="3.15"/><circle cx="796.0" cy="252.2" r="3.15"/><circle cx="650.2" cy="294.1" r="3.15"/><circle cx="663.4" cy="231.8" r="3.15"/><circle cx="633.0" cy="298.8" r="3.15"/><circle cx="684.8" cy="233.6" r="3.15"/><circle cx="728.2" cy="231.8" r="3.15"/><circle cx="723.7" cy="228.4" r="3.15"/><circle cx="760.7" cy="224.5" r="3.15"/><circle cx="662.2" cy="217.1" r="3.15"/><circle cx="826.4" cy="238.2" r="3.15"/><circle cx="697.7" cy="214.2" r="3.15"/><circle cx="724.0" cy="280.4" r="3.15"/><circle cx="687.2" cy="215.7" r="3.15"/><circle cx="672.3" cy="212.0" r="3.15"/><circle cx="639.2" cy="218.7" r="3.15"/><circle cx="867.6" cy="265.5" r="3.15"/><circle cx="622.0" cy="266.4" r="3.15"/><circle cx="693.0" cy="233.2" r="3.15"/><circle cx="643.8" cy="271.8" r="3.15"/><circle cx="742.8" cy="238.1" r="3.15"/><circle cx="738.0" cy="231.1" r="3.15"/><circle cx="640.5" cy="232.4" r="3.15"/><circle cx="744.8" cy="270.4" r="3.15"/><circle cx="704.4" cy="220.8" r="3.15"/><circle cx="735.9" cy="219.5" r="3.15"/><circle cx="673.4" cy="297.4" r="3.15"/><circle cx="680.2" cy="283.1" r="3.15"/><circle cx="648.3" cy="215.0" r="3.15"/><circle cx="811.0" cy="264.0" r="3.15"/><circle cx="776.7" cy="224.7" r="3.15"/><circle cx="750.4" cy="271.8" r="3.15"/><circle cx="735.1" cy="247.8" r="3.15"/><circle cx="771.7" cy="238.9" r="3.15"/><circle cx="709.5" cy="296.8" r="3.15"/><circle cx="749.1" cy="292.0" r="3.15"/><circle cx="720.1" cy="250.9" r="3.15"/><circle cx="986.2" cy="260.5" r="3.15"/><circle cx="669.0" cy="235.2" r="3.15"/><circle cx="662.2" cy="215.2" r="3.15"/><circle cx="714.5" cy="250.3" r="3.15"/><circle cx="678.7" cy="292.0" r="3.15"/><circle cx="442.7" cy="212.2" r="3.15"/><circle cx="863.2" cy="253.8" r="3.15"/><circle cx="534.5" cy="221.0" r="3.15"/><circle cx="653.3" cy="219.4" r="3.15"/><circle cx="775.9" cy="270.4" r="3.15"/><circle cx="635.7" cy="211.6" r="3.15"/><circle cx="725.2" cy="234.2" r="3.15"/><circle cx="787.9" cy="226.8" r="3.15"/><circle cx="647.0" cy="288.5" r="3.15"/><circle cx="653.3" cy="273.8" r="3.15"/><circle cx="761.3" cy="272.3" r="3.15"/><circle cx="766.0" cy="289.4" r="3.15"/><circle cx="741.1" cy="270.9" r="3.15"/><circle cx="628.7" cy="220.6" r="3.15"/><circle cx="727.5" cy="252.8" r="3.15"/><circle cx="642.5" cy="279.4" r="3.15"/><circle cx="740.4" cy="292.3" r="3.15"/><circle cx="771.5" cy="291.3" r="3.15"/><circle cx="657.5" cy="257.5" r="3.15"/><circle cx="718.2" cy="219.9" r="3.15"/><circle cx="758.3" cy="243.2" r="3.15"/><circle cx="787.2" cy="263.7" r="3.15"/><circle cx="738.3" cy="241.0" r="3.15"/><circle cx="632.3" cy="232.5" r="3.15"/><circle cx="703.9" cy="277.1" r="3.15"/><circle cx="698.1" cy="273.9" r="3.15"/><circle cx="656.3" cy="273.0" r="3.15"/><circle cx="759.8" cy="208.0" r="3.15"/><circle cx="743.1" cy="241.2" r="3.15"/><circle cx="787.4" cy="266.6" r="3.15"/><circle cx="684.8" cy="212.2" r="3.15"/><circle cx="690.2" cy="280.2" r="3.15"/><circle cx="689.2" cy="256.5" r="3.15"/><circle cx="848.3" cy="212.9" r="3.15"/><circle cx="717.4" cy="218.9" r="3.15"/><circle cx="662.2" cy="214.4" r="3.15"/><circle cx="807.0" cy="259.4" r="3.15"/><circle cx="694.9" cy="261.1" r="3.15"/><circle cx="690.6" cy="288.5" r="3.15"/><circle cx="832.1" cy="219.2" r="3.15"/><circle cx="683.8" cy="212.1" r="3.15"/><circle cx="885.8" cy="264.7" r="3.15"/><circle cx="796.0" cy="269.7" r="3.15"/><circle cx="687.2" cy="243.2" r="3.15"/><circle cx="744.5" cy="231.6" r="3.15"/><circle cx="647.7" cy="247.8" r="3.15"/><circle cx="717.0" cy="226.6" r="3.15"/><circle cx="767.5" cy="269.3" r="3.15"/><circle cx="735.5" cy="298.5" r="3.15"/><circle cx="678.7" cy="231.5" r="3.15"/><circle cx="627.2" cy="224.1" r="3.15"/><circle cx="769.2" cy="229.5" r="3.15"/><circle cx="530.4" cy="274.8" r="3.15"/><circle cx="746.2" cy="221.0" r="3.15"/><circle cx="705.7" cy="281.5" r="3.15"/><circle cx="630.8" cy="228.4" r="3.15"/><circle cx="951.5" cy="288.4" r="3.15"/><circle cx="725.6" cy="231.0" r="3.15"/><circle cx="803.7" cy="278.2" r="3.15"/><circle cx="702.6" cy="293.8" r="3.15"/><circle cx="738.0" cy="297.8" r="3.15"/><circle cx="699.5" cy="268.3" r="3.15"/><circle cx="656.3" cy="259.3" r="3.15"/><circle cx="752.0" cy="216.1" r="3.15"/><circle cx="781.8" cy="274.1" r="3.15"/><circle cx="658.1" cy="266.9" r="3.15"/><circle cx="633.7" cy="213.7" r="3.15"/><circle cx="646.4" cy="255.8" r="3.15"/><circle cx="780.4" cy="213.3" r="3.15"/><circle cx="692.5" cy="247.8" r="3.15"/><circle cx="534.5" cy="298.6" r="3.15"/><circle cx="768.3" cy="259.7" r="3.15"/><circle cx="622.0" cy="244.1" r="3.15"/><circle cx="706.5" cy="293.4" r="3.15"/><circle cx="722.1" cy="232.9" r="3.15"/><circle cx="689.7" cy="228.6" r="3.15"/><circle cx="827.9" cy="275.3" r="3.15"/><circle cx="638.5" cy="239.5" r="3.15"/><circle cx="672.8" cy="277.5" r="3.15"/><circle cx="639.8" cy="283.2" r="3.15"/><circle cx="723.3" cy="211.0" r="3.15"/><circle cx="701.7" cy="230.3" r="3.15"/><circle cx="684.8" cy="233.7" r="3.15"/><circle cx="779.9" cy="275.3" r="3.15"/><circle cx="680.2" cy="241.5" r="3.15"/><circle cx="622.8" cy="259.2" r="3.15"/><circle cx="820.0" cy="236.2" r="3.15"/><circle cx="653.3" cy="269.7" r="3.15"/><circle cx="744.8" cy="213.9" r="3.15"/><circle cx="642.5" cy="244.3" r="3.15"/><circle cx="699.9" cy="210.3" r="3.15"/><circle cx="736.9" cy="218.8" r="3.15"/><circle cx="736.6" cy="252.5" r="3.15"/><circle cx="764.0" cy="251.9" r="3.15"/><circle cx="693.0" cy="288.9" r="3.15"/><circle cx="758.6" cy="213.5" r="3.15"/><circle cx="759.2" cy="251.2" r="3.15"/><circle cx="697.7" cy="265.9" r="3.15"/><circle cx="639.2" cy="289.2" r="3.15"/><circle cx="673.4" cy="287.4" r="3.15"/><circle cx="662.2" cy="303.9" r="3.15"/><circle cx="734.8" cy="279.4" r="3.15"/><circle cx="641.2" cy="222.5" r="3.15"/><circle cx="640.5" cy="282.4" r="3.15"/><circle cx="558.2" cy="213.6" r="3.15"/><circle cx="871.7" cy="293.7" r="3.15"/><circle cx="868.8" cy="215.9" r="3.15"/><circle cx="752.0" cy="231.5" r="3.15"/><circle cx="641.8" cy="295.9" r="3.15"/><circle cx="643.1" cy="302.3" r="3.15"/><circle cx="763.7" cy="303.8" r="3.15"/><circle cx="679.2" cy="214.4" r="3.15"/><circle cx="980.6" cy="264.8" r="3.15"/><circle cx="628.0" cy="260.4" r="3.15"/><circle cx="1042.2" cy="265.6" r="3.15"/><circle cx="720.9" cy="263.7" r="3.15"/><circle cx="685.3" cy="255.6" r="3.15"/><circle cx="633.0" cy="232.9" r="3.15"/><circle cx="728.2" cy="281.4" r="3.15"/><circle cx="627.2" cy="287.1" r="3.15"/><circle cx="704.4" cy="247.6" r="3.15"/><circle cx="631.6" cy="292.4" r="3.15"/><circle cx="725.6" cy="219.5" r="3.15"/><circle cx="625.0" cy="236.1" r="3.15"/><circle cx="657.5" cy="223.8" r="3.15"/><circle cx="666.8" cy="236.0" r="3.15"/><circle cx="588.3" cy="303.6" r="3.15"/><circle cx="671.8" cy="301.0" r="3.15"/><circle cx="720.1" cy="284.8" r="3.15"/><circle cx="639.8" cy="247.1" r="3.15"/><circle cx="705.2" cy="247.7" r="3.15"/><circle cx="793.1" cy="241.2" r="3.15"/><circle cx="666.8" cy="225.9" r="3.15"/><circle cx="895.2" cy="208.1" r="3.15"/><circle cx="683.3" cy="277.3" r="3.15"/><circle cx="625.0" cy="230.6" r="3.15"/><circle cx="709.5" cy="296.0" r="3.15"/><circle cx="666.2" cy="269.1" r="3.15"/><circle cx="764.9" cy="302.6" r="3.15"/><circle cx="699.9" cy="277.7" r="3.15"/><circle cx="635.1" cy="236.2" r="3.15"/><circle cx="628.7" cy="241.7" r="3.15"/><circle cx="649.6" cy="266.7" r="3.15"/><circle cx="784.4" cy="294.7" r="3.15"/><circle cx="699.5" cy="276.3" r="3.15"/><circle cx="720.1" cy="217.2" r="3.15"/><circle cx="733.4" cy="297.8" r="3.15"/><circle cx="622.0" cy="290.4" r="3.15"/><circle cx="667.9" cy="300.0" r="3.15"/><circle cx="695.4" cy="230.8" r="3.15"/><circle cx="701.7" cy="260.0" r="3.15"/><circle cx="629.4" cy="284.5" r="3.15"/><circle cx="682.8" cy="249.9" r="3.15"/><circle cx="669.0" cy="266.6" r="3.15"/><circle cx="658.1" cy="287.4" r="3.15"/><circle cx="808.4" cy="257.1" r="3.15"/><circle cx="648.9" cy="244.5" r="3.15"/><circle cx="859.4" cy="217.6" r="3.15"/><circle cx="703.1" cy="252.4" r="3.15"/><circle cx="707.8" cy="219.0" r="3.15"/><circle cx="787.2" cy="302.2" r="3.15"/><circle cx="669.6" cy="286.2" r="3.15"/><circle cx="702.6" cy="269.8" r="3.15"/><circle cx="680.2" cy="220.9" r="3.15"/><circle cx="760.7" cy="207.8" r="3.15"/><circle cx="676.0" cy="220.0" r="3.15"/><circle cx="625.8" cy="292.6" r="3.15"/><circle cx="698.1" cy="259.7" r="3.15"/><circle cx="763.7" cy="272.2" r="3.15"/><circle cx="624.3" cy="212.0" r="3.15"/><circle cx="644.5" cy="303.2" r="3.15"/><circle cx="702.2" cy="286.1" r="3.15"/><circle cx="645.1" cy="245.2" r="3.15"/><circle cx="634.4" cy="299.5" r="3.15"/><circle cx="665.7" cy="274.8" r="3.15"/><circle cx="747.5" cy="283.4" r="3.15"/><circle cx="489.2" cy="287.0" r="3.15"/><circle cx="807.5" cy="300.3" r="3.15"/><circle cx="669.6" cy="221.8" r="3.15"/><circle cx="704.8" cy="270.0" r="3.15"/><circle cx="645.1" cy="220.0" r="3.15"/><circle cx="736.6" cy="251.0" r="3.15"/><circle cx="680.2" cy="304.5" r="3.15"/><circle cx="693.5" cy="281.1" r="3.15"/><circle cx="672.3" cy="280.9" r="3.15"/><circle cx="544.9" cy="295.7" r="3.15"/><circle cx="657.5" cy="251.4" r="3.15"/><circle cx="680.7" cy="290.8" r="3.15"/><circle cx="662.2" cy="294.5" r="3.15"/><circle cx="734.4" cy="209.0" r="3.15"/><circle cx="666.2" cy="232.7" r="3.15"/><circle cx="666.2" cy="224.2" r="3.15"/><circle cx="646.4" cy="248.7" r="3.15"/><circle cx="538.5" cy="212.7" r="3.15"/><circle cx="731.9" cy="286.8" r="3.15"/><circle cx="633.0" cy="274.5" r="3.15"/><circle cx="646.4" cy="282.9" r="3.15"/><circle cx="820.8" cy="225.9" r="3.15"/><circle cx="1089.4" cy="249.2" r="3.15"/><circle cx="553.5" cy="299.9" r="3.15"/><circle cx="679.7" cy="284.0" r="3.15"/><circle cx="659.3" cy="291.6" r="3.15"/><circle cx="724.8" cy="263.0" r="3.15"/><circle cx="666.8" cy="236.5" r="3.15"/><circle cx="664.5" cy="274.7" r="3.15"/><circle cx="705.2" cy="296.1" r="3.15"/><circle cx="726.7" cy="303.2" r="3.15"/><circle cx="760.7" cy="287.2" r="3.15"/><circle cx="677.1" cy="241.7" r="3.15"/><circle cx="662.2" cy="258.7" r="3.15"/><circle cx="769.2" cy="240.1" r="3.15"/><circle cx="850.2" cy="293.4" r="3.15"/><circle cx="670.7" cy="255.6" r="3.15"/><circle cx="641.2" cy="227.7" r="3.15"/><circle cx="677.6" cy="279.4" r="3.15"/><circle cx="838.7" cy="240.3" r="3.15"/><circle cx="662.8" cy="273.3" r="3.15"/><circle cx="729.0" cy="217.4" r="3.15"/><circle cx="807.3" cy="255.6" r="3.15"/><circle cx="672.8" cy="219.3" r="3.15"/><circle cx="994.1" cy="211.8" r="3.15"/><circle cx="765.4" cy="274.3" r="3.15"/><circle cx="571.4" cy="208.4" r="3.15"/><circle cx="656.9" cy="229.3" r="3.15"/><circle cx="731.5" cy="211.6" r="3.15"/><circle cx="733.4" cy="244.5" r="3.15"/><circle cx="987.4" cy="236.7" r="3.15"/><circle cx="817.5" cy="257.6" r="3.15"/><circle cx="714.5" cy="231.6" r="3.15"/><circle cx="665.7" cy="279.6" r="3.15"/><circle cx="696.7" cy="283.3" r="3.15"/><circle cx="768.1" cy="240.6" r="3.15"/><circle cx="688.2" cy="277.7" r="3.15"/><circle cx="705.7" cy="279.2" r="3.15"/><circle cx="496.4" cy="211.7" r="3.15"/><circle cx="629.4" cy="232.2" r="3.15"/><circle cx="640.5" cy="285.0" r="3.15"/><circle cx="732.6" cy="230.9" r="3.15"/><circle cx="626.5" cy="270.1" r="3.15"/><circle cx="625.8" cy="275.3" r="3.15"/><circle cx="690.2" cy="264.0" r="3.15"/><circle cx="753.0" cy="269.9" r="3.15"/><circle cx="808.8" cy="215.5" r="3.15"/><circle cx="843.5" cy="293.4" r="3.15"/><circle cx="719.4" cy="253.2" r="3.15"/><circle cx="637.1" cy="292.1" r="3.15"/><circle cx="706.5" cy="249.2" r="3.15"/><circle cx="693.0" cy="277.6" r="3.15"/><circle cx="987.9" cy="215.7" r="3.15"/><circle cx="695.8" cy="297.2" r="3.15"/><circle cx="753.9" cy="233.0" r="3.15"/><circle cx="674.5" cy="222.2" r="3.15"/><circle cx="794.1" cy="287.6" r="3.15"/><circle cx="703.1" cy="240.6" r="3.15"/><circle cx="593.0" cy="253.8" r="3.15"/><circle cx="793.8" cy="289.5" r="3.15"/><circle cx="628.7" cy="263.2" r="3.15"/><circle cx="716.2" cy="291.6" r="3.15"/><circle cx="822.4" cy="301.8" r="3.15"/><circle cx="699.0" cy="278.6" r="3.15"/><circle cx="730.4" cy="229.5" r="3.15"/><circle cx="670.7" cy="225.7" r="3.15"/><circle cx="818.4" cy="288.1" r="3.15"/><circle cx="635.7" cy="264.2" r="3.15"/><circle cx="779.4" cy="208.9" r="3.15"/><circle cx="976.1" cy="211.2" r="3.15"/><circle cx="643.1" cy="228.8" r="3.15"/><circle cx="709.5" cy="284.7" r="3.15"/><circle cx="694.4" cy="222.2" r="3.15"/><circle cx="681.2" cy="278.3" r="3.15"/><circle cx="869.8" cy="274.9" r="3.15"/><circle cx="1062.0" cy="242.5" r="3.15"/><circle cx="660.5" cy="220.7" r="3.15"/><circle cx="693.0" cy="243.5" r="3.15"/><circle cx="956.5" cy="255.2" r="3.15"/><circle cx="742.5" cy="237.4" r="3.15"/><circle cx="979.9" cy="222.2" r="3.15"/><circle cx="629.4" cy="302.6" r="3.15"/><circle cx="656.3" cy="243.8" r="3.15"/><circle cx="734.1" cy="247.3" r="3.15"/><circle cx="674.5" cy="287.6" r="3.15"/><circle cx="692.1" cy="261.8" r="3.15"/><circle cx="481.8" cy="219.2" r="3.15"/><circle cx="675.5" cy="207.2" r="3.15"/><circle cx="707.4" cy="260.9" r="3.15"/><circle cx="912.6" cy="262.0" r="3.15"/><circle cx="750.4" cy="206.7" r="3.15"/><circle cx="686.7" cy="264.0" r="3.15"/><circle cx="893.0" cy="290.5" r="3.15"/><circle cx="686.7" cy="209.7" r="3.15"/><circle cx="715.7" cy="219.4" r="3.15"/><circle cx="656.9" cy="211.9" r="3.15"/><circle cx="661.1" cy="238.4" r="3.15"/><circle cx="685.3" cy="235.1" r="3.15"/><circle cx="661.1" cy="236.8" r="3.15"/><circle cx="748.1" cy="298.3" r="3.15"/><circle cx="782.5" cy="234.3" r="3.15"/><circle cx="723.7" cy="262.7" r="3.15"/><circle cx="791.7" cy="263.7" r="3.15"/><circle cx="706.1" cy="227.2" r="3.15"/><circle cx="720.1" cy="259.0" r="3.15"/><circle cx="717.8" cy="288.6" r="3.15"/><circle cx="694.0" cy="298.5" r="3.15"/><circle cx="632.3" cy="220.6" r="3.15"/><circle cx="734.1" cy="223.2" r="3.15"/><circle cx="676.6" cy="289.2" r="3.15"/><circle cx="1096.7" cy="258.4" r="3.15"/><circle cx="636.4" cy="231.3" r="3.15"/><circle cx="720.5" cy="301.8" r="3.15"/><circle cx="795.5" cy="246.0" r="3.15"/><circle cx="732.6" cy="225.1" r="3.15"/><circle cx="702.2" cy="280.7" r="3.15"/><circle cx="721.3" cy="219.5" r="3.15"/><circle cx="664.5" cy="290.3" r="3.15"/><circle cx="732.6" cy="283.3" r="3.15"/><circle cx="572.4" cy="261.4" r="3.15"/><circle cx="766.9" cy="226.4" r="3.15"/><circle cx="635.1" cy="214.9" r="3.15"/><circle cx="714.9" cy="280.8" r="3.15"/><circle cx="954.1" cy="217.5" r="3.15"/><circle cx="622.8" cy="292.4" r="3.15"/><circle cx="643.8" cy="242.2" r="3.15"/><circle cx="671.8" cy="211.4" r="3.15"/><circle cx="625.8" cy="236.5" r="3.15"/><circle cx="705.2" cy="211.0" r="3.15"/><circle cx="754.9" cy="230.9" r="3.15"/><circle cx="1024.4" cy="224.8" r="3.15"/><circle cx="819.8" cy="244.1" r="3.15"/><circle cx="726.3" cy="287.4" r="3.15"/><circle cx="725.2" cy="279.2" r="3.15"/><circle cx="677.6" cy="255.6" r="3.15"/><circle cx="442.7" cy="289.4" r="3.15"/><circle cx="644.5" cy="208.5" r="3.15"/><circle cx="739.0" cy="218.6" r="3.15"/><circle cx="660.5" cy="287.5" r="3.15"/><circle cx="686.3" cy="269.0" r="3.15"/><circle cx="703.9" cy="260.2" r="3.15"/><circle cx="622.0" cy="229.2" r="3.15"/><circle cx="688.2" cy="246.7" r="3.15"/><circle cx="762.2" cy="237.0" r="3.15"/><circle cx="786.7" cy="270.2" r="3.15"/><circle cx="671.2" cy="250.6" r="3.15"/><circle cx="778.3" cy="214.5" r="3.15"/><circle cx="773.1" cy="208.6" r="3.15"/><circle cx="734.8" cy="268.0" r="3.15"/><circle cx="702.6" cy="245.9" r="3.15"/><circle cx="711.2" cy="267.3" r="3.15"/><circle cx="658.1" cy="255.5" r="3.15"/><circle cx="737.3" cy="215.0" r="3.15"/><circle cx="654.5" cy="226.0" r="3.15"/><circle cx="638.5" cy="226.1" r="3.15"/><circle cx="637.8" cy="253.5" r="3.15"/><circle cx="625.0" cy="223.8" r="3.15"/><circle cx="1017.6" cy="210.5" r="3.15"/><circle cx="689.7" cy="232.8" r="3.15"/><circle cx="628.0" cy="211.3" r="3.15"/><circle cx="672.8" cy="300.1" r="3.15"/><circle cx="727.1" cy="272.5" r="3.15"/><circle cx="734.8" cy="227.1" r="3.15"/><circle cx="697.2" cy="248.2" r="3.15"/><circle cx="557.0" cy="304.4" r="3.15"/><circle cx="671.2" cy="212.6" r="3.15"/><circle cx="715.7" cy="248.8" r="3.15"/><circle cx="637.8" cy="284.6" r="3.15"/><circle cx="781.8" cy="215.5" r="3.15"/><circle cx="776.7" cy="292.1" r="3.15"/><circle cx="622.0" cy="241.5" r="3.15"/><circle cx="936.8" cy="247.9" r="3.15"/><circle cx="793.4" cy="265.5" r="3.15"/><circle cx="658.7" cy="244.5" r="3.15"/><circle cx="653.9" cy="263.4" r="3.15"/><circle cx="679.7" cy="286.5" r="3.15"/><circle cx="803.0" cy="267.2" r="3.15"/><circle cx="733.4" cy="220.2" r="3.15"/><circle cx="1051.2" cy="305.0" r="3.15"/><circle cx="669.6" cy="276.5" r="3.15"/><circle cx="622.8" cy="270.1" r="3.15"/><circle cx="713.3" cy="238.8" r="3.15"/><circle cx="630.1" cy="287.9" r="3.15"/><circle cx="949.2" cy="259.2" r="3.15"/><circle cx="805.9" cy="285.6" r="3.15"/><circle cx="724.0" cy="277.9" r="3.15"/><circle cx="661.1" cy="274.4" r="3.15"/><circle cx="726.7" cy="294.8" r="3.15"/><circle cx="834.9" cy="240.9" r="3.15"/><circle cx="760.7" cy="255.3" r="3.15"/><circle cx="838.7" cy="290.3" r="3.15"/><circle cx="631.6" cy="296.1" r="3.15"/><circle cx="701.7" cy="257.3" r="3.15"/><circle cx="633.7" cy="299.7" r="3.15"/><circle cx="631.6" cy="258.2" r="3.15"/><circle cx="973.5" cy="287.8" r="3.15"/><circle cx="632.3" cy="279.3" r="3.15"/><circle cx="735.1" cy="247.7" r="3.15"/><circle cx="707.0" cy="232.3" r="3.15"/><circle cx="682.3" cy="213.6" r="3.15"/><circle cx="751.1" cy="304.5" r="3.15"/><circle cx="709.5" cy="252.7" r="3.15"/><circle cx="791.4" cy="217.0" r="3.15"/><circle cx="626.5" cy="226.8" r="3.15"/><circle cx="492.8" cy="221.4" r="3.15"/><circle cx="643.1" cy="268.3" r="3.15"/><circle cx="647.0" cy="230.8" r="3.15"/><circle cx="697.7" cy="263.9" r="3.15"/><circle cx="606.1" cy="283.6" r="3.15"/><circle cx="679.2" cy="257.6" r="3.15"/><circle cx="789.2" cy="245.9" r="3.15"/><circle cx="685.8" cy="212.8" r="3.15"/><circle cx="826.6" cy="296.2" r="3.15"/><circle cx="1008.4" cy="275.6" r="3.15"/><circle cx="708.3" cy="221.8" r="3.15"/><circle cx="645.1" cy="225.0" r="3.15"/><circle cx="856.8" cy="214.5" r="3.15"/><circle cx="781.5" cy="209.6" r="3.15"/><circle cx="702.2" cy="272.1" r="3.15"/><circle cx="653.3" cy="299.9" r="3.15"/><circle cx="817.3" cy="283.0" r="3.15"/><circle cx="671.2" cy="254.1" r="3.15"/><circle cx="686.3" cy="270.0" r="3.15"/><circle cx="635.1" cy="275.9" r="3.15"/><circle cx="707.0" cy="297.1" r="3.15"/><circle cx="807.9" cy="284.6" r="3.15"/><circle cx="637.8" cy="253.4" r="3.15"/><circle cx="686.3" cy="226.9" r="3.15"/><circle cx="625.0" cy="258.9" r="3.15"/><circle cx="670.7" cy="228.0" r="3.15"/><circle cx="724.8" cy="261.9" r="3.15"/><circle cx="1058.8" cy="254.1" r="3.15"/><circle cx="647.7" cy="297.2" r="3.15"/><circle cx="1048.0" cy="237.5" r="3.15"/><circle cx="644.5" cy="250.8" r="3.15"/><circle cx="760.7" cy="292.3" r="3.15"/><circle cx="660.5" cy="240.8" r="3.15"/><circle cx="763.7" cy="292.9" r="3.15"/><circle cx="661.7" cy="238.7" r="3.15"/><circle cx="629.4" cy="303.0" r="3.15"/><circle cx="534.5" cy="283.3" r="3.15"/><circle cx="704.8" cy="234.3" r="3.15"/><circle cx="861.9" cy="256.3" r="3.15"/><circle cx="639.2" cy="280.6" r="3.15"/><circle cx="688.2" cy="248.3" r="3.15"/><circle cx="678.7" cy="241.2" r="3.15"/><circle cx="677.1" cy="240.7" r="3.15"/><circle cx="652.1" cy="302.4" r="3.15"/><circle cx="844.7" cy="304.3" r="3.15"/><circle cx="645.1" cy="283.7" r="3.15"/><circle cx="643.8" cy="289.3" r="3.15"/><circle cx="751.1" cy="247.9" r="3.15"/><circle cx="725.9" cy="251.2" r="3.15"/><circle cx="720.5" cy="221.6" r="3.15"/><circle cx="771.5" cy="251.9" r="3.15"/><circle cx="632.3" cy="239.7" r="3.15"/><circle cx="734.4" cy="243.8" r="3.15"/><circle cx="629.4" cy="268.9" r="3.15"/><circle cx="655.1" cy="212.4" r="3.15"/><circle cx="624.3" cy="211.3" r="3.15"/><circle cx="761.0" cy="290.7" r="3.15"/><circle cx="800.0" cy="262.2" r="3.15"/><circle cx="640.5" cy="231.0" r="3.15"/><circle cx="632.3" cy="231.5" r="3.15"/><circle cx="717.4" cy="265.6" r="3.15"/><circle cx="717.0" cy="283.4" r="3.15"/><circle cx="648.3" cy="288.5" r="3.15"/><circle cx="715.7" cy="242.7" r="3.15"/><circle cx="672.8" cy="246.7" r="3.15"/><circle cx="746.8" cy="247.0" r="3.15"/><circle cx="743.5" cy="234.1" r="3.15"/><circle cx="750.1" cy="293.5" r="3.15"/><circle cx="817.5" cy="249.3" r="3.15"/><circle cx="628.7" cy="247.9" r="3.15"/><circle cx="781.2" cy="214.1" r="3.15"/><circle cx="637.1" cy="209.9" r="3.15"/><circle cx="539.8" cy="283.8" r="3.15"/><circle cx="572.4" cy="234.9" r="3.15"/><circle cx="758.6" cy="272.0" r="3.15"/><circle cx="724.0" cy="243.4" r="3.15"/><circle cx="1094.6" cy="301.4" r="3.15"/><circle cx="686.3" cy="241.0" r="3.15"/><circle cx="686.7" cy="251.9" r="3.15"/><circle cx="645.7" cy="300.0" r="3.15"/><circle cx="651.4" cy="217.4" r="3.15"/><circle cx="677.6" cy="226.2" r="3.15"/><circle cx="790.7" cy="219.2" r="3.15"/><circle cx="631.6" cy="226.6" r="3.15"/><circle cx="774.0" cy="248.3" r="3.15"/><circle cx="787.9" cy="287.9" r="3.15"/><circle cx="686.7" cy="219.1" r="3.15"/><circle cx="637.1" cy="231.3" r="3.15"/><circle cx="442.7" cy="290.9" r="3.15"/><circle cx="710.4" cy="263.2" r="3.15"/><circle cx="671.2" cy="272.6" r="3.15"/><circle cx="669.0" cy="270.8" r="3.15"/><circle cx="722.9" cy="292.9" r="3.15"/><circle cx="644.5" cy="287.5" r="3.15"/><circle cx="773.4" cy="232.9" r="3.15"/><circle cx="630.8" cy="301.5" r="3.15"/><circle cx="654.5" cy="294.3" r="3.15"/><circle cx="695.8" cy="233.7" r="3.15"/><circle cx="769.2" cy="229.3" r="3.15"/><circle cx="953.1" cy="221.4" r="3.15"/><circle cx="641.8" cy="246.6" r="3.15"/><circle cx="662.2" cy="237.9" r="3.15"/><circle cx="755.5" cy="220.9" r="3.15"/><circle cx="705.7" cy="275.1" r="3.15"/><circle cx="647.0" cy="256.2" r="3.15"/><circle cx="755.2" cy="272.4" r="3.15"/><circle cx="755.5" cy="281.0" r="3.15"/><circle cx="733.4" cy="237.4" r="3.15"/><circle cx="802.1" cy="232.4" r="3.15"/><circle cx="789.9" cy="211.2" r="3.15"/><circle cx="626.5" cy="213.2" r="3.15"/><circle cx="638.5" cy="223.3" r="3.15"/><circle cx="768.1" cy="266.9" r="3.15"/><circle cx="740.4" cy="227.8" r="3.15"/><circle cx="661.1" cy="245.6" r="3.15"/><circle cx="703.1" cy="221.6" r="3.15"/><circle cx="445.2" cy="232.7" r="3.15"/><circle cx="735.5" cy="250.2" r="3.15"/><circle cx="673.4" cy="231.9" r="3.15"/><circle cx="712.5" cy="238.4" r="3.15"/><circle cx="827.0" cy="293.8" r="3.15"/><circle cx="929.4" cy="299.7" r="3.15"/><circle cx="668.5" cy="274.7" r="3.15"/><circle cx="623.5" cy="274.6" r="3.15"/><circle cx="659.9" cy="246.2" r="3.15"/><circle cx="1096.4" cy="262.2" r="3.15"/><circle cx="732.3" cy="274.1" r="3.15"/><circle cx="763.7" cy="224.4" r="3.15"/><circle cx="624.3" cy="245.3" r="3.15"/><circle cx="690.2" cy="276.7" r="3.15"/><circle cx="744.5" cy="242.9" r="3.15"/><circle cx="631.6" cy="300.8" r="3.15"/><circle cx="643.1" cy="211.8" r="3.15"/><circle cx="734.4" cy="277.0" r="3.15"/><circle cx="675.0" cy="269.9" r="3.15"/><circle cx="818.8" cy="275.1" r="3.15"/><circle cx="825.4" cy="293.0" r="3.15"/><circle cx="665.7" cy="240.0" r="3.15"/><circle cx="634.4" cy="274.1" r="3.15"/><circle cx="920.5" cy="209.5" r="3.15"/><circle cx="642.5" cy="293.7" r="3.15"/><circle cx="688.7" cy="253.9" r="3.15"/><circle cx="919.6" cy="221.5" r="3.15"/><circle cx="579.6" cy="263.0" r="3.15"/><circle cx="772.0" cy="273.9" r="3.15"/><circle cx="824.6" cy="267.5" r="3.15"/><circle cx="745.5" cy="262.2" r="3.15"/><circle cx="630.8" cy="217.2" r="3.15"/><circle cx="718.6" cy="228.6" r="3.15"/><circle cx="901.6" cy="230.9" r="3.15"/><circle cx="712.5" cy="223.1" r="3.15"/><circle cx="667.4" cy="257.1" r="3.15"/><circle cx="678.7" cy="239.6" r="3.15"/><circle cx="533.1" cy="292.8" r="3.15"/><circle cx="628.7" cy="217.0" r="3.15"/><circle cx="709.5" cy="286.7" r="3.15"/><circle cx="652.1" cy="254.9" r="3.15"/><circle cx="558.2" cy="285.3" r="3.15"/><circle cx="682.8" cy="282.8" r="3.15"/><circle cx="709.1" cy="243.1" r="3.15"/><circle cx="656.9" cy="217.4" r="3.15"/><circle cx="643.1" cy="262.4" r="3.15"/><circle cx="700.4" cy="283.8" r="3.15"/><circle cx="744.2" cy="209.9" r="3.15"/><circle cx="652.7" cy="257.3" r="3.15"/><circle cx="777.5" cy="284.3" r="3.15"/><circle cx="986.4" cy="280.2" r="3.15"/><circle cx="677.6" cy="232.6" r="3.15"/><circle cx="714.9" cy="238.5" r="3.15"/><circle cx="767.5" cy="265.1" r="3.15"/><circle cx="744.5" cy="224.8" r="3.15"/><circle cx="751.4" cy="279.3" r="3.15"/><circle cx="435.1" cy="226.4" r="3.15"/><circle cx="637.8" cy="215.7" r="3.15"/><circle cx="747.1" cy="281.9" r="3.15"/><circle cx="806.6" cy="251.0" r="3.15"/><circle cx="804.4" cy="255.7" r="3.15"/><circle cx="622.8" cy="225.2" r="3.15"/><circle cx="706.1" cy="236.7" r="3.15"/><circle cx="822.4" cy="245.3" r="3.15"/><circle cx="827.9" cy="211.0" r="3.15"/><circle cx="725.6" cy="235.3" r="3.15"/><circle cx="765.4" cy="258.5" r="3.15"/><circle cx="962.0" cy="231.2" r="3.15"/><circle cx="656.9" cy="242.7" r="3.15"/><circle cx="805.0" cy="227.2" r="3.15"/><circle cx="958.8" cy="294.9" r="3.15"/><circle cx="667.9" cy="303.0" r="3.15"/><circle cx="639.8" cy="214.8" r="3.15"/><circle cx="827.5" cy="258.3" r="3.15"/><circle cx="635.7" cy="232.5" r="3.15"/><circle cx="676.6" cy="276.4" r="3.15"/><circle cx="951.7" cy="222.9" r="3.15"/><circle cx="768.6" cy="255.1" r="3.15"/><circle cx="685.8" cy="289.0" r="3.15"/><circle cx="711.6" cy="210.1" r="3.15"/><circle cx="1094.3" cy="215.5" r="3.15"/><circle cx="663.4" cy="236.9" r="3.15"/><circle cx="803.5" cy="247.9" r="3.15"/><circle cx="808.6" cy="281.3" r="3.15"/><circle cx="690.6" cy="260.3" r="3.15"/><circle cx="772.6" cy="250.8" r="3.15"/><circle cx="648.9" cy="280.2" r="3.15"/><circle cx="846.4" cy="224.5" r="3.15"/><circle cx="647.0" cy="240.0" r="3.15"/><circle cx="988.0" cy="249.5" r="3.15"/><circle cx="755.8" cy="266.4" r="3.15"/><circle cx="670.1" cy="250.8" r="3.15"/><circle cx="627.2" cy="279.6" r="3.15"/><circle cx="817.1" cy="242.9" r="3.15"/><circle cx="776.4" cy="218.1" r="3.15"/><circle cx="689.2" cy="233.0" r="3.15"/><circle cx="694.4" cy="260.0" r="3.15"/><circle cx="623.5" cy="252.9" r="3.15"/><circle cx="662.8" cy="214.4" r="3.15"/><circle cx="1033.7" cy="242.8" r="3.15"/><circle cx="659.9" cy="285.7" r="3.15"/><circle cx="706.5" cy="263.9" r="3.15"/><circle cx="739.0" cy="252.2" r="3.15"/><circle cx="591.2" cy="222.4" r="3.15"/><circle cx="682.8" cy="272.6" r="3.15"/><circle cx="700.4" cy="218.0" r="3.15"/><circle cx="687.7" cy="273.7" r="3.15"/><circle cx="762.2" cy="247.3" r="3.15"/><circle cx="725.9" cy="218.3" r="3.15"/><circle cx="754.5" cy="294.3" r="3.15"/><circle cx="759.5" cy="211.4" r="3.15"/><circle cx="828.1" cy="304.9" r="3.15"/><circle cx="968.3" cy="252.7" r="3.15"/><circle cx="698.1" cy="268.1" r="3.15"/><circle cx="659.9" cy="277.0" r="3.15"/><circle cx="1057.6" cy="206.6" r="3.15"/><circle cx="692.1" cy="243.4" r="3.15"/><circle cx="656.9" cy="294.8" r="3.15"/><circle cx="633.7" cy="283.9" r="3.15"/><circle cx="655.1" cy="273.9" r="3.15"/><circle cx="808.2" cy="216.3" r="3.15"/><circle cx="759.2" cy="301.7" r="3.15"/><circle cx="778.6" cy="215.1" r="3.15"/><circle cx="640.5" cy="227.5" r="3.15"/><circle cx="645.1" cy="280.4" r="3.15"/><circle cx="797.9" cy="207.3" r="3.15"/><circle cx="637.1" cy="215.8" r="3.15"/><circle cx="736.9" cy="269.3" r="3.15"/><circle cx="628.0" cy="250.1" r="3.15"/><circle cx="647.7" cy="274.0" r="3.15"/><circle cx="676.0" cy="275.5" r="3.15"/><circle cx="663.4" cy="260.7" r="3.15"/><circle cx="624.3" cy="218.2" r="3.15"/><circle cx="659.9" cy="281.5" r="3.15"/><circle cx="680.2" cy="211.1" r="3.15"/><circle cx="743.1" cy="236.7" r="3.15"/><circle cx="645.7" cy="222.5" r="3.15"/><circle cx="909.6" cy="249.3" r="3.15"/><circle cx="741.4" cy="210.0" r="3.15"/><circle cx="1068.3" cy="243.0" r="3.15"/><circle cx="631.6" cy="242.6" r="3.15"/><circle cx="822.8" cy="253.2" r="3.15"/><circle cx="666.2" cy="298.6" r="3.15"/><circle cx="719.0" cy="246.5" r="3.15"/><circle cx="662.8" cy="304.6" r="3.15"/><circle cx="637.8" cy="209.9" r="3.15"/><circle cx="842.1" cy="266.4" r="3.15"/><circle cx="648.3" cy="228.5" r="3.15"/><circle cx="727.5" cy="270.4" r="3.15"/><circle cx="714.5" cy="226.9" r="3.15"/><circle cx="681.2" cy="297.9" r="3.15"/><circle cx="701.7" cy="235.2" r="3.15"/><circle cx="1001.1" cy="265.2" r="3.15"/><circle cx="628.0" cy="267.8" r="3.15"/><circle cx="952.7" cy="228.2" r="3.15"/><circle cx="807.5" cy="226.3" r="3.15"/><circle cx="744.5" cy="240.6" r="3.15"/><circle cx="669.0" cy="290.3" r="3.15"/><circle cx="721.3" cy="283.8" r="3.15"/><circle cx="736.2" cy="258.4" r="3.15"/><circle cx="785.9" cy="231.0" r="3.15"/><circle cx="614.3" cy="250.6" r="3.15"/><circle cx="774.2" cy="259.1" r="3.15"/><circle cx="746.2" cy="264.6" r="3.15"/><circle cx="684.8" cy="209.5" r="3.15"/><circle cx="752.0" cy="209.1" r="3.15"/><circle cx="693.5" cy="279.1" r="3.15"/><circle cx="738.0" cy="297.5" r="3.15"/><circle cx="792.9" cy="271.2" r="3.15"/><circle cx="761.0" cy="214.0" r="3.15"/><circle cx="727.8" cy="250.2" r="3.15"/><circle cx="875.1" cy="259.1" r="3.15"/><circle cx="630.8" cy="208.3" r="3.15"/><circle cx="599.3" cy="285.2" r="3.15"/><circle cx="698.1" cy="249.1" r="3.15"/><circle cx="976.8" cy="288.7" r="3.15"/><circle cx="711.2" cy="219.0" r="3.15"/><circle cx="625.8" cy="274.6" r="3.15"/><circle cx="678.1" cy="222.2" r="3.15"/><circle cx="693.0" cy="277.9" r="3.15"/><circle cx="748.1" cy="257.4" r="3.15"/><circle cx="694.9" cy="280.7" r="3.15"/><circle cx="690.2" cy="237.2" r="3.15"/><circle cx="584.5" cy="275.4" r="3.15"/><circle cx="533.1" cy="208.3" r="3.15"/><circle cx="747.8" cy="302.3" r="3.15"/><circle cx="712.5" cy="284.1" r="3.15"/><circle cx="481.8" cy="219.3" r="3.15"/><circle cx="734.1" cy="294.5" r="3.15"/><circle cx="829.5" cy="234.4" r="3.15"/><circle cx="648.9" cy="207.3" r="3.15"/><circle cx="671.8" cy="230.4" r="3.15"/><circle cx="715.3" cy="207.7" r="3.15"/><circle cx="768.3" cy="213.8" r="3.15"/><circle cx="680.7" cy="245.3" r="3.15"/><circle cx="653.9" cy="226.0" r="3.15"/><circle cx="701.3" cy="284.3" r="3.15"/><circle cx="699.5" cy="247.1" r="3.15"/><circle cx="635.1" cy="282.0" r="3.15"/><circle cx="720.5" cy="252.3" r="3.15"/><circle cx="735.5" cy="215.7" r="3.15"/><circle cx="820.6" cy="254.1" r="3.15"/><circle cx="705.7" cy="298.5" r="3.15"/><circle cx="703.9" cy="278.4" r="3.15"/><circle cx="634.4" cy="207.6" r="3.15"/><circle cx="779.7" cy="223.4" r="3.15"/><circle cx="655.7" cy="212.3" r="3.15"/><circle cx="641.2" cy="239.2" r="3.15"/><circle cx="739.7" cy="280.1" r="3.15"/><circle cx="820.0" cy="280.4" r="3.15"/><circle cx="671.8" cy="280.3" r="3.15"/><circle cx="684.8" cy="209.8" r="3.15"/><circle cx="859.5" cy="295.9" r="3.15"/><circle cx="758.3" cy="276.8" r="3.15"/><circle cx="724.4" cy="273.6" r="3.15"/><circle cx="773.1" cy="275.5" r="3.15"/><circle cx="713.3" cy="233.7" r="3.15"/><circle cx="648.9" cy="283.8" r="3.15"/><circle cx="694.0" cy="213.0" r="3.15"/><circle cx="788.7" cy="217.9" r="3.15"/><circle cx="669.0" cy="242.7" r="3.15"/><circle cx="786.7" cy="235.6" r="3.15"/><circle cx="633.0" cy="259.3" r="3.15"/><circle cx="708.7" cy="295.5" r="3.15"/><circle cx="678.1" cy="259.5" r="3.15"/><circle cx="673.9" cy="238.7" r="3.15"/><circle cx="650.2" cy="286.5" r="3.15"/><circle cx="788.7" cy="220.8" r="3.15"/><circle cx="681.2" cy="267.5" r="3.15"/><circle cx="735.5" cy="289.2" r="3.15"/><circle cx="760.1" cy="253.4" r="3.15"/><circle cx="750.4" cy="247.4" r="3.15"/><circle cx="656.9" cy="256.3" r="3.15"/><circle cx="785.6" cy="295.4" r="3.15"/><circle cx="675.5" cy="238.3" r="3.15"/><circle cx="649.6" cy="215.2" r="3.15"/><circle cx="670.1" cy="279.1" r="3.15"/><circle cx="783.3" cy="251.6" r="3.15"/><circle cx="734.4" cy="259.8" r="3.15"/><circle cx="733.0" cy="303.3" r="3.15"/><circle cx="771.5" cy="237.9" r="3.15"/><circle cx="679.2" cy="301.5" r="3.15"/><circle cx="1053.4" cy="259.7" r="3.15"/><circle cx="589.3" cy="232.0" r="3.15"/><circle cx="783.8" cy="229.6" r="3.15"/><circle cx="799.8" cy="258.7" r="3.15"/><circle cx="671.2" cy="225.9" r="3.15"/><circle cx="800.5" cy="263.5" r="3.15"/><circle cx="665.7" cy="296.6" r="3.15"/><circle cx="653.9" cy="235.5" r="3.15"/><circle cx="650.8" cy="275.3" r="3.15"/><circle cx="707.0" cy="278.8" r="3.15"/><circle cx="635.1" cy="280.7" r="3.15"/><circle cx="747.1" cy="296.0" r="3.15"/><circle cx="641.8" cy="274.3" r="3.15"/><circle cx="632.3" cy="208.3" r="3.15"/><circle cx="761.6" cy="241.8" r="3.15"/><circle cx="713.3" cy="223.7" r="3.15"/><circle cx="743.8" cy="219.6" r="3.15"/><circle cx="714.5" cy="285.9" r="3.15"/><circle cx="647.0" cy="225.9" r="3.15"/><circle cx="720.5" cy="213.1" r="3.15"/><circle cx="673.9" cy="219.8" r="3.15"/><circle cx="714.9" cy="283.3" r="3.15"/><circle cx="631.6" cy="211.6" r="3.15"/><circle cx="678.1" cy="301.8" r="3.15"/><circle cx="743.5" cy="252.2" r="3.15"/><circle cx="678.7" cy="252.0" r="3.15"/><circle cx="628.7" cy="301.5" r="3.15"/><circle cx="787.2" cy="226.9" r="3.15"/><circle cx="479.9" cy="274.8" r="3.15"/><circle cx="826.6" cy="238.4" r="3.15"/><circle cx="744.2" cy="267.3" r="3.15"/><circle cx="673.9" cy="255.5" r="3.15"/><circle cx="684.8" cy="253.2" r="3.15"/><circle cx="696.7" cy="290.2" r="3.15"/><circle cx="688.7" cy="238.7" r="3.15"/><circle cx="641.2" cy="230.7" r="3.15"/><circle cx="636.4" cy="299.7" r="3.15"/><circle cx="657.5" cy="297.8" r="3.15"/><circle cx="772.0" cy="227.1" r="3.15"/><circle cx="656.3" cy="297.2" r="3.15"/><circle cx="776.2" cy="273.6" r="3.15"/><circle cx="639.2" cy="295.8" r="3.15"/><circle cx="706.1" cy="295.2" r="3.15"/><circle cx="689.7" cy="304.3" r="3.15"/><circle cx="715.7" cy="285.5" r="3.15"/><circle cx="650.8" cy="264.1" r="3.15"/><circle cx="704.8" cy="232.2" r="3.15"/><circle cx="672.8" cy="244.4" r="3.15"/><circle cx="499.8" cy="209.4" r="3.15"/><circle cx="854.6" cy="229.3" r="3.15"/><circle cx="692.5" cy="285.6" r="3.15"/><circle cx="673.4" cy="279.8" r="3.15"/><circle cx="697.7" cy="223.8" r="3.15"/><circle cx="678.1" cy="304.2" r="3.15"/><circle cx="719.4" cy="288.8" r="3.15"/><circle cx="674.5" cy="270.2" r="3.15"/><circle cx="730.1" cy="233.4" r="3.15"/><circle cx="914.7" cy="221.1" r="3.15"/><circle cx="743.5" cy="280.4" r="3.15"/><circle cx="694.9" cy="257.7" r="3.15"/><circle cx="656.9" cy="225.2" r="3.15"/><circle cx="1045.6" cy="232.6" r="3.15"/><circle cx="878.8" cy="221.1" r="3.15"/><circle cx="910.7" cy="266.4" r="3.15"/><circle cx="739.7" cy="287.7" r="3.15"/><circle cx="766.3" cy="249.5" r="3.15"/><circle cx="740.4" cy="294.5" r="3.15"/><circle cx="741.8" cy="253.9" r="3.15"/><circle cx="730.1" cy="239.9" r="3.15"/><circle cx="926.2" cy="244.7" r="3.15"/><circle cx="677.6" cy="210.0" r="3.15"/><circle cx="687.2" cy="239.0" r="3.15"/><circle cx="698.1" cy="232.3" r="3.15"/><circle cx="788.9" cy="238.5" r="3.15"/><circle cx="669.0" cy="298.3" r="3.15"/><circle cx="647.0" cy="250.6" r="3.15"/><circle cx="717.8" cy="271.3" r="3.15"/><circle cx="625.0" cy="210.4" r="3.15"/><circle cx="492.8" cy="257.6" r="3.15"/><circle cx="781.8" cy="210.7" r="3.15"/><circle cx="475.9" cy="263.1" r="3.15"/><circle cx="757.7" cy="247.1" r="3.15"/><circle cx="659.3" cy="235.2" r="3.15"/><circle cx="747.1" cy="228.5" r="3.15"/><circle cx="647.7" cy="239.8" r="3.15"/><circle cx="679.2" cy="229.3" r="3.15"/><circle cx="746.8" cy="287.8" r="3.15"/><circle cx="757.7" cy="278.3" r="3.15"/><circle cx="685.3" cy="295.7" r="3.15"/><circle cx="860.5" cy="296.5" r="3.15"/><circle cx="724.4" cy="216.6" r="3.15"/><circle cx="787.2" cy="263.0" r="3.15"/><circle cx="762.5" cy="300.0" r="3.15"/><circle cx="827.3" cy="238.5" r="3.15"/><circle cx="738.3" cy="263.8" r="3.15"/><circle cx="730.8" cy="253.0" r="3.15"/><circle cx="646.4" cy="220.5" r="3.15"/><circle cx="775.3" cy="291.7" r="3.15"/><circle cx="744.2" cy="210.7" r="3.15"/><circle cx="673.9" cy="291.2" r="3.15"/><circle cx="635.7" cy="268.1" r="3.15"/><circle cx="639.2" cy="210.2" r="3.15"/><circle cx="813.8" cy="214.3" r="3.15"/><circle cx="801.4" cy="278.0" r="3.15"/><circle cx="442.7" cy="216.6" r="3.15"/><circle cx="646.4" cy="303.0" r="3.15"/><circle cx="738.0" cy="226.8" r="3.15"/><circle cx="867.0" cy="242.7" r="3.15"/><circle cx="671.2" cy="232.7" r="3.15"/><circle cx="707.8" cy="222.5" r="3.15"/><circle cx="666.2" cy="215.5" r="3.15"/><circle cx="730.1" cy="272.1" r="3.15"/><circle cx="703.1" cy="297.2" r="3.15"/><circle cx="637.1" cy="294.2" r="3.15"/><circle cx="712.5" cy="243.5" r="3.15"/><circle cx="653.3" cy="218.5" r="3.15"/><circle cx="743.1" cy="239.9" r="3.15"/><circle cx="651.4" cy="256.3" r="3.15"/><circle cx="642.5" cy="244.0" r="3.15"/><circle cx="939.3" cy="258.2" r="3.15"/><circle cx="630.1" cy="225.2" r="3.15"/><circle cx="794.1" cy="271.5" r="3.15"/><circle cx="803.2" cy="302.6" r="3.15"/><circle cx="715.7" cy="303.2" r="3.15"/><circle cx="725.2" cy="265.5" r="3.15"/><circle cx="771.5" cy="255.5" r="3.15"/><circle cx="762.8" cy="300.5" r="3.15"/><circle cx="641.2" cy="277.1" r="3.15"/><circle cx="775.1" cy="257.5" r="3.15"/><circle cx="663.4" cy="235.0" r="3.15"/><circle cx="630.1" cy="301.8" r="3.15"/><circle cx="712.5" cy="257.0" r="3.15"/><circle cx="707.4" cy="239.6" r="3.15"/><circle cx="780.2" cy="275.8" r="3.15"/><circle cx="762.8" cy="247.9" r="3.15"/><circle cx="676.0" cy="217.0" r="3.15"/><circle cx="874.4" cy="282.3" r="3.15"/><circle cx="708.3" cy="272.5" r="3.15"/><circle cx="729.0" cy="299.1" r="3.15"/><circle cx="794.8" cy="249.1" r="3.15"/><circle cx="657.5" cy="248.0" r="3.15"/><circle cx="673.4" cy="226.1" r="3.15"/><circle cx="730.8" cy="261.8" r="3.15"/><circle cx="693.0" cy="298.2" r="3.15"/><circle cx="437.7" cy="291.6" r="3.15"/><circle cx="643.1" cy="206.7" r="3.15"/><circle cx="832.7" cy="246.6" r="3.15"/><circle cx="791.2" cy="301.4" r="3.15"/><circle cx="733.4" cy="210.4" r="3.15"/><circle cx="897.2" cy="211.7" r="3.15"/><circle cx="727.5" cy="292.1" r="3.15"/><circle cx="645.7" cy="277.7" r="3.15"/><circle cx="666.2" cy="276.2" r="3.15"/><circle cx="667.9" cy="288.0" r="3.15"/><circle cx="665.1" cy="241.6" r="3.15"/><circle cx="630.1" cy="301.2" r="3.15"/><circle cx="647.0" cy="265.2" r="3.15"/><circle cx="681.7" cy="231.8" r="3.15"/><circle cx="655.7" cy="296.0" r="3.15"/><circle cx="696.3" cy="278.6" r="3.15"/><circle cx="635.1" cy="276.3" r="3.15"/><circle cx="684.3" cy="215.0" r="3.15"/><circle cx="630.1" cy="303.6" r="3.15"/><circle cx="773.4" cy="283.5" r="3.15"/><circle cx="719.4" cy="226.8" r="3.15"/><circle cx="965.5" cy="285.0" r="3.15"/><circle cx="705.2" cy="216.6" r="3.15"/><circle cx="717.0" cy="223.4" r="3.15"/><circle cx="893.0" cy="230.6" r="3.15"/><circle cx="753.3" cy="260.9" r="3.15"/><circle cx="695.8" cy="234.3" r="3.15"/><circle cx="1019.7" cy="255.2" r="3.15"/><circle cx="671.8" cy="268.2" r="3.15"/><circle cx="707.8" cy="207.7" r="3.15"/><circle cx="950.3" cy="281.5" r="3.15"/><circle cx="960.5" cy="231.6" r="3.15"/><circle cx="695.4" cy="290.4" r="3.15"/><circle cx="645.1" cy="233.4" r="3.15"/><circle cx="1035.0" cy="268.0" r="3.15"/><circle cx="651.4" cy="244.0" r="3.15"/><circle cx="660.5" cy="245.4" r="3.15"/><circle cx="679.7" cy="283.8" r="3.15"/><circle cx="613.5" cy="274.6" r="3.15"/><circle cx="648.9" cy="209.7" r="3.15"/><circle cx="812.3" cy="288.4" r="3.15"/><circle cx="637.8" cy="220.2" r="3.15"/><circle cx="692.5" cy="210.7" r="3.15"/><circle cx="679.2" cy="256.7" r="3.15"/><circle cx="705.7" cy="224.9" r="3.15"/><circle cx="669.0" cy="215.4" r="3.15"/><circle cx="708.7" cy="229.8" r="3.15"/><circle cx="628.7" cy="215.9" r="3.15"/><circle cx="637.8" cy="230.3" r="3.15"/><circle cx="696.7" cy="290.1" r="3.15"/><circle cx="641.2" cy="230.4" r="3.15"/><circle cx="554.7" cy="285.5" r="3.15"/><circle cx="777.5" cy="240.2" r="3.15"/><circle cx="727.1" cy="230.2" r="3.15"/><circle cx="692.5" cy="285.2" r="3.15"/><circle cx="710.8" cy="245.6" r="3.15"/><circle cx="552.3" cy="257.0" r="3.15"/><circle cx="741.8" cy="272.2" r="3.15"/><circle cx="637.8" cy="210.3" r="3.15"/><circle cx="626.5" cy="247.2" r="3.15"/><circle cx="778.0" cy="301.2" r="3.15"/><circle cx="729.7" cy="233.5" r="3.15"/><circle cx="655.7" cy="244.2" r="3.15"/><circle cx="630.1" cy="256.5" r="3.15"/><circle cx="798.8" cy="239.4" r="3.15"/><circle cx="680.2" cy="209.5" r="3.15"/><circle cx="666.2" cy="283.3" r="3.15"/><circle cx="717.8" cy="254.1" r="3.15"/><circle cx="741.8" cy="256.5" r="3.15"/><circle cx="688.7" cy="290.2" r="3.15"/><circle cx="1023.0" cy="260.8" r="3.15"/><circle cx="710.4" cy="234.7" r="3.15"/><circle cx="829.8" cy="283.2" r="3.15"/><circle cx="632.3" cy="224.0" r="3.15"/><circle cx="753.3" cy="298.8" r="3.15"/><circle cx="739.0" cy="259.7" r="3.15"/><circle cx="710.8" cy="220.4" r="3.15"/><circle cx="722.5" cy="297.5" r="3.15"/><circle cx="635.7" cy="296.1" r="3.15"/><circle cx="706.5" cy="217.1" r="3.15"/><circle cx="719.8" cy="260.4" r="3.15"/><circle cx="656.9" cy="269.5" r="3.15"/><circle cx="718.6" cy="245.2" r="3.15"/><circle cx="628.7" cy="269.4" r="3.15"/><circle cx="671.8" cy="293.5" r="3.15"/><circle cx="746.5" cy="274.6" r="3.15"/><circle cx="625.8" cy="249.3" r="3.15"/><circle cx="734.8" cy="285.3" r="3.15"/><circle cx="658.7" cy="231.3" r="3.15"/><circle cx="651.4" cy="235.9" r="3.15"/><circle cx="669.0" cy="227.5" r="3.15"/><circle cx="679.7" cy="235.4" r="3.15"/><circle cx="696.7" cy="227.5" r="3.15"/><circle cx="682.8" cy="210.8" r="3.15"/><circle cx="887.5" cy="283.0" r="3.15"/><circle cx="663.4" cy="302.8" r="3.15"/><circle cx="730.8" cy="228.3" r="3.15"/><circle cx="786.7" cy="300.1" r="3.15"/><circle cx="651.4" cy="296.3" r="3.15"/><circle cx="713.3" cy="233.6" r="3.15"/><circle cx="642.5" cy="281.8" r="3.15"/><circle cx="673.4" cy="288.3" r="3.15"/><circle cx="740.1" cy="253.1" r="3.15"/><circle cx="675.5" cy="210.5" r="3.15"/><circle cx="732.6" cy="304.5" r="3.15"/><circle cx="719.4" cy="234.8" r="3.15"/><circle cx="657.5" cy="221.4" r="3.15"/><circle cx="741.4" cy="257.0" r="3.15"/><circle cx="715.7" cy="236.0" r="3.15"/><circle cx="729.7" cy="243.6" r="3.15"/><circle cx="649.6" cy="250.5" r="3.15"/><circle cx="723.7" cy="282.7" r="3.15"/><circle cx="689.7" cy="256.2" r="3.15"/><circle cx="781.0" cy="295.7" r="3.15"/><circle cx="734.1" cy="217.5" r="3.15"/><circle cx="996.7" cy="212.0" r="3.15"/><circle cx="670.7" cy="216.6" r="3.15"/><circle cx="753.3" cy="216.4" r="3.15"/><circle cx="646.4" cy="283.4" r="3.15"/><circle cx="707.8" cy="260.5" r="3.15"/><circle cx="864.3" cy="247.5" r="3.15"/><circle cx="715.7" cy="248.0" r="3.15"/><circle cx="661.7" cy="293.3" r="3.15"/><circle cx="817.5" cy="270.3" r="3.15"/><circle cx="657.5" cy="250.4" r="3.15"/><circle cx="625.8" cy="221.7" r="3.15"/><circle cx="784.9" cy="270.6" r="3.15"/><circle cx="668.5" cy="227.3" r="3.15"/><circle cx="629.4" cy="255.2" r="3.15"/><circle cx="751.1" cy="257.2" r="3.15"/><circle cx="622.8" cy="253.4" r="3.15"/><circle cx="796.7" cy="253.5" r="3.15"/><circle cx="658.7" cy="227.9" r="3.15"/><circle cx="733.0" cy="258.2" r="3.15"/><circle cx="821.4" cy="218.1" r="3.15"/><circle cx="682.8" cy="280.8" r="3.15"/><circle cx="688.2" cy="226.0" r="3.15"/><circle cx="642.5" cy="246.8" r="3.15"/><circle cx="654.5" cy="217.1" r="3.15"/><circle cx="658.7" cy="304.8" r="3.15"/><circle cx="754.5" cy="215.6" r="3.15"/><circle cx="437.7" cy="303.6" r="3.15"/><circle cx="774.0" cy="213.7" r="3.15"/><circle cx="768.1" cy="266.1" r="3.15"/><circle cx="639.2" cy="216.4" r="3.15"/><circle cx="710.4" cy="252.7" r="3.15"/><circle cx="666.2" cy="234.2" r="3.15"/><circle cx="644.5" cy="282.5" r="3.15"/><circle cx="664.0" cy="270.7" r="3.15"/><circle cx="653.3" cy="224.2" r="3.15"/><circle cx="690.6" cy="262.1" r="3.15"/><circle cx="717.8" cy="260.1" r="3.15"/><circle cx="664.0" cy="283.5" r="3.15"/><circle cx="654.5" cy="219.7" r="3.15"/><circle cx="807.3" cy="235.3" r="3.15"/><circle cx="725.6" cy="229.1" r="3.15"/><circle cx="690.6" cy="304.6" r="3.15"/><circle cx="648.9" cy="223.4" r="3.15"/><circle cx="813.3" cy="211.4" r="3.15"/><circle cx="827.3" cy="244.6" r="3.15"/><circle cx="667.4" cy="257.2" r="3.15"/><circle cx="813.3" cy="262.0" r="3.15"/><circle cx="694.9" cy="298.8" r="3.15"/><circle cx="687.2" cy="240.3" r="3.15"/><circle cx="659.9" cy="271.3" r="3.15"/><circle cx="715.3" cy="298.6" r="3.15"/><circle cx="633.0" cy="215.5" r="3.15"/><circle cx="779.4" cy="243.8" r="3.15"/><circle cx="761.6" cy="255.5" r="3.15"/><circle cx="755.2" cy="252.6" r="3.15"/><circle cx="693.0" cy="273.0" r="3.15"/><circle cx="739.7" cy="268.3" r="3.15"/><circle cx="791.2" cy="260.3" r="3.15"/><circle cx="659.9" cy="285.1" r="3.15"/><circle cx="622.0" cy="281.0" r="3.15"/><circle cx="677.1" cy="289.2" r="3.15"/><circle cx="731.2" cy="213.6" r="3.15"/><circle cx="630.1" cy="222.0" r="3.15"/><circle cx="731.9" cy="283.2" r="3.15"/><circle cx="600.1" cy="237.4" r="3.15"/><circle cx="672.3" cy="293.3" r="3.15"/><circle cx="644.5" cy="225.2" r="3.15"/><circle cx="710.4" cy="287.6" r="3.15"/><circle cx="664.5" cy="295.4" r="3.15"/><circle cx="700.8" cy="290.1" r="3.15"/><circle cx="757.7" cy="211.1" r="3.15"/><circle cx="649.6" cy="273.5" r="3.15"/><circle cx="643.1" cy="277.6" r="3.15"/><circle cx="722.1" cy="302.0" r="3.15"/><circle cx="645.1" cy="215.5" r="3.15"/><circle cx="715.3" cy="296.0" r="3.15"/><circle cx="658.7" cy="221.1" r="3.15"/><circle cx="744.8" cy="220.8" r="3.15"/><circle cx="726.3" cy="243.3" r="3.15"/><circle cx="841.9" cy="274.5" r="3.15"/><circle cx="628.7" cy="208.2" r="3.15"/><circle cx="733.4" cy="244.3" r="3.15"/><circle cx="739.0" cy="293.5" r="3.15"/><circle cx="801.2" cy="246.5" r="3.15"/><circle cx="685.8" cy="238.5" r="3.15"/><circle cx="782.5" cy="271.2" r="3.15"/><circle cx="785.6" cy="254.6" r="3.15"/><circle cx="640.5" cy="226.8" r="3.15"/><circle cx="817.1" cy="301.5" r="3.15"/><circle cx="699.9" cy="257.6" r="3.15"/><circle cx="808.6" cy="289.2" r="3.15"/><circle cx="703.9" cy="232.9" r="3.15"/><circle cx="1049.8" cy="245.9" r="3.15"/><circle cx="898.3" cy="249.9" r="3.15"/><circle cx="1026.1" cy="260.1" r="3.15"/><circle cx="656.9" cy="228.9" r="3.15"/><circle cx="702.6" cy="221.1" r="3.15"/><circle cx="679.2" cy="304.1" r="3.15"/><circle cx="688.2" cy="208.9" r="3.15"/><circle cx="637.1" cy="266.9" r="3.15"/><circle cx="710.8" cy="255.1" r="3.15"/><circle cx="1032.9" cy="273.6" r="3.15"/><circle cx="662.2" cy="299.1" r="3.15"/><circle cx="698.6" cy="221.8" r="3.15"/><circle cx="617.4" cy="211.1" r="3.15"/><circle cx="761.3" cy="234.2" r="3.15"/><circle cx="744.8" cy="219.2" r="3.15"/><circle cx="779.7" cy="218.1" r="3.15"/><circle cx="666.8" cy="296.9" r="3.15"/><circle cx="687.2" cy="290.7" r="3.15"/><circle cx="692.1" cy="285.8" r="3.15"/><circle cx="680.2" cy="215.5" r="3.15"/><circle cx="774.2" cy="289.3" r="3.15"/><circle cx="741.4" cy="236.1" r="3.15"/><circle cx="733.0" cy="214.6" r="3.15"/><circle cx="699.9" cy="285.4" r="3.15"/><circle cx="738.3" cy="282.4" r="3.15"/><circle cx="427.1" cy="252.0" r="3.15"/><circle cx="766.9" cy="279.3" r="3.15"/><circle cx="471.9" cy="228.9" r="3.15"/><circle cx="736.9" cy="260.9" r="3.15"/><circle cx="628.0" cy="225.5" r="3.15"/><circle cx="644.5" cy="215.7" r="3.15"/><circle cx="744.8" cy="285.0" r="3.15"/><circle cx="714.1" cy="237.4" r="3.15"/><circle cx="679.7" cy="290.8" r="3.15"/><circle cx="682.3" cy="230.0" r="3.15"/><circle cx="725.6" cy="273.7" r="3.15"/><circle cx="684.8" cy="274.5" r="3.15"/><circle cx="729.7" cy="289.0" r="3.15"/><circle cx="678.7" cy="240.2" r="3.15"/><circle cx="635.7" cy="271.9" r="3.15"/><circle cx="789.7" cy="220.2" r="3.15"/><circle cx="631.6" cy="245.3" r="3.15"/><circle cx="677.6" cy="251.9" r="3.15"/><circle cx="649.6" cy="261.8" r="3.15"/><circle cx="748.8" cy="232.5" r="3.15"/><circle cx="661.1" cy="235.3" r="3.15"/><circle cx="743.1" cy="274.5" r="3.15"/><circle cx="708.7" cy="231.2" r="3.15"/><circle cx="626.5" cy="207.9" r="3.15"/><circle cx="704.4" cy="302.6" r="3.15"/><circle cx="637.8" cy="209.6" r="3.15"/><circle cx="624.3" cy="212.7" r="3.15"/><circle cx="678.1" cy="269.0" r="3.15"/><circle cx="724.0" cy="298.7" r="3.15"/><circle cx="723.3" cy="230.4" r="3.15"/><circle cx="862.9" cy="273.4" r="3.15"/><circle cx="682.8" cy="266.7" r="3.15"/><circle cx="625.8" cy="273.6" r="3.15"/><circle cx="906.5" cy="224.7" r="3.15"/><circle cx="730.4" cy="266.9" r="3.15"/><circle cx="693.0" cy="226.5" r="3.15"/><circle cx="676.6" cy="248.4" r="3.15"/><circle cx="774.8" cy="239.7" r="3.15"/><circle cx="477.9" cy="208.0" r="3.15"/><circle cx="708.7" cy="209.8" r="3.15"/><circle cx="864.8" cy="246.4" r="3.15"/><circle cx="772.3" cy="256.4" r="3.15"/><circle cx="733.0" cy="216.6" r="3.15"/><circle cx="656.9" cy="269.8" r="3.15"/><circle cx="650.8" cy="264.3" r="3.15"/><circle cx="712.5" cy="298.9" r="3.15"/><circle cx="637.1" cy="247.6" r="3.15"/><circle cx="696.3" cy="280.1" r="3.15"/><circle cx="635.1" cy="246.3" r="3.15"/><circle cx="721.3" cy="206.7" r="3.15"/><circle cx="639.2" cy="287.1" r="3.15"/><circle cx="687.7" cy="268.9" r="3.15"/><circle cx="628.7" cy="264.3" r="3.15"/><circle cx="647.7" cy="269.7" r="3.15"/><circle cx="661.1" cy="268.4" r="3.15"/><circle cx="814.2" cy="246.7" r="3.15"/><circle cx="732.3" cy="231.6" r="3.15"/><circle cx="628.0" cy="218.1" r="3.15"/><circle cx="1014.7" cy="253.9" r="3.15"/><circle cx="646.4" cy="297.6" r="3.15"/><circle cx="748.1" cy="227.4" r="3.15"/><circle cx="682.3" cy="263.2" r="3.15"/><circle cx="774.5" cy="242.4" r="3.15"/><circle cx="648.9" cy="284.5" r="3.15"/><circle cx="957.3" cy="257.1" r="3.15"/><circle cx="445.2" cy="242.4" r="3.15"/><circle cx="726.3" cy="236.3" r="3.15"/><circle cx="674.5" cy="217.8" r="3.15"/><circle cx="759.8" cy="301.9" r="3.15"/><circle cx="831.2" cy="302.9" r="3.15"/><circle cx="654.5" cy="285.2" r="3.15"/><circle cx="769.2" cy="247.1" r="3.15"/><circle cx="749.8" cy="288.2" r="3.15"/><circle cx="754.2" cy="251.4" r="3.15"/><circle cx="675.0" cy="228.6" r="3.15"/><circle cx="797.9" cy="209.3" r="3.15"/><circle cx="656.3" cy="250.3" r="3.15"/><circle cx="749.8" cy="248.1" r="3.15"/><circle cx="1059.9" cy="247.1" r="3.15"/><circle cx="781.8" cy="262.0" r="3.15"/><circle cx="649.6" cy="257.5" r="3.15"/><circle cx="784.6" cy="268.0" r="3.15"/><circle cx="709.1" cy="244.0" r="3.15"/><circle cx="741.1" cy="266.7" r="3.15"/><circle cx="650.8" cy="271.5" r="3.15"/><circle cx="669.0" cy="294.8" r="3.15"/><circle cx="659.9" cy="286.1" r="3.15"/><circle cx="743.5" cy="224.8" r="3.15"/><circle cx="845.8" cy="261.0" r="3.15"/><circle cx="676.0" cy="237.0" r="3.15"/><circle cx="629.4" cy="288.9" r="3.15"/><circle cx="646.4" cy="226.9" r="3.15"/><circle cx="747.5" cy="261.1" r="3.15"/><circle cx="1009.3" cy="211.0" r="3.15"/><circle cx="630.1" cy="301.1" r="3.15"/><circle cx="778.6" cy="267.6" r="3.15"/><circle cx="713.3" cy="275.5" r="3.15"/><circle cx="645.7" cy="276.0" r="3.15"/><circle cx="628.7" cy="244.4" r="3.15"/><circle cx="729.3" cy="242.8" r="3.15"/><circle cx="782.0" cy="213.4" r="3.15"/><circle cx="645.1" cy="221.4" r="3.15"/><circle cx="658.1" cy="258.5" r="3.15"/><circle cx="654.5" cy="246.0" r="3.15"/><circle cx="663.4" cy="207.5" r="3.15"/><circle cx="447.6" cy="261.7" r="3.15"/><circle cx="812.7" cy="274.1" r="3.15"/><circle cx="627.2" cy="263.9" r="3.15"/><circle cx="671.8" cy="229.1" r="3.15"/><circle cx="810.3" cy="289.4" r="3.15"/><circle cx="676.0" cy="230.4" r="3.15"/><circle cx="696.3" cy="247.1" r="3.15"/><circle cx="673.4" cy="231.4" r="3.15"/><circle cx="876.1" cy="286.1" r="3.15"/><circle cx="638.5" cy="297.2" r="3.15"/><circle cx="631.6" cy="285.1" r="3.15"/><circle cx="695.8" cy="255.2" r="3.15"/><circle cx="817.1" cy="296.7" r="3.15"/><circle cx="811.6" cy="265.3" r="3.15"/><circle cx="479.9" cy="247.8" r="3.15"/><circle cx="733.0" cy="245.1" r="3.15"/><circle cx="682.3" cy="224.5" r="3.15"/><circle cx="624.3" cy="237.2" r="3.15"/><circle cx="646.4" cy="268.6" r="3.15"/><circle cx="712.0" cy="247.8" r="3.15"/><circle cx="687.7" cy="258.4" r="3.15"/><circle cx="647.7" cy="239.2" r="3.15"/><circle cx="875.6" cy="249.9" r="3.15"/><circle cx="642.5" cy="208.9" r="3.15"/><circle cx="734.4" cy="274.3" r="3.15"/><circle cx="670.7" cy="289.7" r="3.15"/><circle cx="723.7" cy="274.8" r="3.15"/><circle cx="647.0" cy="287.1" r="3.15"/><circle cx="750.4" cy="240.2" r="3.15"/><circle cx="689.7" cy="301.4" r="3.15"/><circle cx="715.3" cy="250.5" r="3.15"/><circle cx="698.6" cy="220.0" r="3.15"/><circle cx="846.4" cy="254.8" r="3.15"/><circle cx="702.6" cy="279.2" r="3.15"/><circle cx="724.0" cy="237.6" r="3.15"/><circle cx="814.4" cy="242.6" r="3.15"/><circle cx="781.8" cy="228.9" r="3.15"/><circle cx="686.7" cy="211.7" r="3.15"/><circle cx="718.6" cy="217.7" r="3.15"/><circle cx="630.8" cy="239.9" r="3.15"/><circle cx="690.2" cy="283.1" r="3.15"/><circle cx="680.7" cy="219.7" r="3.15"/><circle cx="729.7" cy="230.4" r="3.15"/><circle cx="652.1" cy="267.6" r="3.15"/><circle cx="661.7" cy="293.5" r="3.15"/><circle cx="701.3" cy="208.0" r="3.15"/><circle cx="663.4" cy="252.0" r="3.15"/><circle cx="641.8" cy="235.0" r="3.15"/><circle cx="653.3" cy="303.8" r="3.15"/><circle cx="741.8" cy="291.8" r="3.15"/><circle cx="437.7" cy="275.7" r="3.15"/><circle cx="737.3" cy="300.6" r="3.15"/><circle cx="700.4" cy="217.0" r="3.15"/><circle cx="776.4" cy="299.9" r="3.15"/><circle cx="675.0" cy="216.5" r="3.15"/><circle cx="735.1" cy="213.5" r="3.15"/><circle cx="747.8" cy="256.9" r="3.15"/><circle cx="828.1" cy="224.0" r="3.15"/><circle cx="715.3" cy="261.8" r="3.15"/><circle cx="793.4" cy="212.1" r="3.15"/><circle cx="860.6" cy="250.2" r="3.15"/><circle cx="719.4" cy="269.7" r="3.15"/><circle cx="745.2" cy="276.5" r="3.15"/><circle cx="655.7" cy="206.8" r="3.15"/><circle cx="655.1" cy="223.6" r="3.15"/><circle cx="683.8" cy="286.6" r="3.15"/><circle cx="634.4" cy="286.1" r="3.15"/><circle cx="686.3" cy="246.1" r="3.15"/><circle cx="616.7" cy="270.6" r="3.15"/><circle cx="624.3" cy="216.0" r="3.15"/><circle cx="743.1" cy="297.2" r="3.15"/><circle cx="622.8" cy="217.4" r="3.15"/><circle cx="722.1" cy="226.0" r="3.15"/><circle cx="953.7" cy="243.8" r="3.15"/><circle cx="714.5" cy="242.1" r="3.15"/><circle cx="676.0" cy="248.5" r="3.15"/><circle cx="693.0" cy="245.0" r="3.15"/><circle cx="725.6" cy="281.3" r="3.15"/><circle cx="777.8" cy="280.4" r="3.15"/><circle cx="700.8" cy="289.6" r="3.15"/><circle cx="949.1" cy="232.3" r="3.15"/><circle cx="721.3" cy="254.8" r="3.15"/><circle cx="1052.1" cy="300.4" r="3.15"/><circle cx="680.7" cy="218.3" r="3.15"/><circle cx="646.4" cy="271.7" r="3.15"/><circle cx="628.0" cy="271.6" r="3.15"/><circle cx="463.5" cy="263.8" r="3.15"/><circle cx="733.0" cy="242.1" r="3.15"/><circle cx="979.6" cy="272.4" r="3.15"/><circle cx="634.4" cy="237.0" r="3.15"/><circle cx="706.5" cy="208.3" r="3.15"/><circle cx="731.2" cy="249.7" r="3.15"/><circle cx="668.5" cy="279.5" r="3.15"/><circle cx="672.8" cy="249.4" r="3.15"/><circle cx="661.7" cy="216.9" r="3.15"/><circle cx="781.5" cy="268.7" r="3.15"/><circle cx="706.5" cy="250.7" r="3.15"/><circle cx="818.0" cy="214.7" r="3.15"/><circle cx="633.7" cy="299.3" r="3.15"/><circle cx="702.2" cy="220.5" r="3.15"/><circle cx="751.7" cy="255.8" r="3.15"/><circle cx="662.2" cy="293.5" r="3.15"/><circle cx="777.5" cy="217.3" r="3.15"/><circle cx="925.1" cy="276.8" r="3.15"/><circle cx="758.6" cy="228.0" r="3.15"/><circle cx="718.2" cy="240.3" r="3.15"/><circle cx="719.0" cy="272.0" r="3.15"/><circle cx="661.7" cy="280.4" r="3.15"/><circle cx="628.0" cy="277.2" r="3.15"/><circle cx="782.8" cy="296.9" r="3.15"/><circle cx="653.3" cy="250.4" r="3.15"/><circle cx="777.8" cy="279.1" r="3.15"/><circle cx="783.1" cy="261.9" r="3.15"/><circle cx="642.5" cy="251.9" r="3.15"/><circle cx="679.7" cy="279.7" r="3.15"/><circle cx="638.5" cy="292.4" r="3.15"/><circle cx="809.2" cy="299.2" r="3.15"/><circle cx="652.7" cy="217.6" r="3.15"/><circle cx="740.1" cy="278.1" r="3.15"/><circle cx="606.1" cy="250.2" r="3.15"/><circle cx="632.3" cy="276.1" r="3.15"/><circle cx="754.5" cy="262.4" r="3.15"/><circle cx="730.1" cy="257.3" r="3.15"/><circle cx="674.5" cy="221.3" r="3.15"/><circle cx="459.1" cy="249.0" r="3.15"/><circle cx="824.8" cy="280.2" r="3.15"/><circle cx="667.9" cy="289.4" r="3.15"/><circle cx="719.8" cy="211.8" r="3.15"/><circle cx="704.8" cy="217.2" r="3.15"/><circle cx="652.1" cy="268.1" r="3.15"/><circle cx="801.2" cy="254.6" r="3.15"/><circle cx="491.1" cy="236.6" r="3.15"/><circle cx="651.4" cy="216.8" r="3.15"/><circle cx="648.3" cy="266.6" r="3.15"/><circle cx="848.0" cy="247.6" r="3.15"/><circle cx="910.4" cy="264.2" r="3.15"/><circle cx="752.7" cy="250.9" r="3.15"/><circle cx="552.3" cy="295.3" r="3.15"/><circle cx="635.7" cy="213.0" r="3.15"/><circle cx="684.3" cy="281.0" r="3.15"/><circle cx="678.1" cy="273.2" r="3.15"/><circle cx="790.7" cy="286.6" r="3.15"/><circle cx="799.3" cy="256.3" r="3.15"/><circle cx="677.6" cy="279.3" r="3.15"/><circle cx="629.4" cy="236.8" r="3.15"/><circle cx="681.7" cy="273.5" r="3.15"/><circle cx="689.2" cy="298.6" r="3.15"/><circle cx="635.7" cy="237.2" r="3.15"/><circle cx="704.8" cy="246.7" r="3.15"/><circle cx="808.2" cy="254.3" r="3.15"/><circle cx="751.7" cy="234.5" r="3.15"/><circle cx="637.1" cy="298.6" r="3.15"/><circle cx="679.7" cy="238.1" r="3.15"/><circle cx="700.4" cy="280.7" r="3.15"/><circle cx="845.1" cy="274.9" r="3.15"/><circle cx="622.8" cy="299.5" r="3.15"/><circle cx="875.6" cy="277.8" r="3.15"/><circle cx="676.0" cy="244.8" r="3.15"/><circle cx="671.2" cy="281.8" r="3.15"/><circle cx="660.5" cy="292.3" r="3.15"/><circle cx="626.5" cy="228.4" r="3.15"/><circle cx="786.9" cy="298.3" r="3.15"/><circle cx="748.8" cy="263.4" r="3.15"/><circle cx="741.1" cy="233.9" r="3.15"/><circle cx="714.1" cy="244.7" r="3.15"/><circle cx="1052.4" cy="279.0" r="3.15"/><circle cx="679.2" cy="287.0" r="3.15"/><circle cx="642.5" cy="231.7" r="3.15"/><circle cx="692.1" cy="207.0" r="3.15"/><circle cx="631.6" cy="250.6" r="3.15"/><circle cx="435.1" cy="226.8" r="3.15"/><circle cx="641.8" cy="227.3" r="3.15"/><circle cx="647.7" cy="207.4" r="3.15"/><circle cx="662.8" cy="220.8" r="3.15"/><circle cx="625.0" cy="288.9" r="3.15"/><circle cx="766.9" cy="235.0" r="3.15"/><circle cx="636.4" cy="296.7" r="3.15"/><circle cx="797.9" cy="231.2" r="3.15"/><circle cx="854.4" cy="296.5" r="3.15"/><circle cx="785.4" cy="272.5" r="3.15"/><circle cx="643.1" cy="208.6" r="3.15"/><circle cx="635.1" cy="228.1" r="3.15"/><circle cx="655.7" cy="304.3" r="3.15"/><circle cx="874.9" cy="266.8" r="3.15"/><circle cx="639.8" cy="251.3" r="3.15"/><circle cx="667.4" cy="284.6" r="3.15"/><circle cx="674.5" cy="215.4" r="3.15"/><circle cx="645.7" cy="220.5" r="3.15"/><circle cx="723.7" cy="237.8" r="3.15"/><circle cx="856.5" cy="220.3" r="3.15"/><circle cx="809.2" cy="257.2" r="3.15"/><circle cx="701.3" cy="284.4" r="3.15"/><circle cx="757.3" cy="261.4" r="3.15"/><circle cx="591.2" cy="227.3" r="3.15"/><circle cx="764.0" cy="238.2" r="3.15"/><circle cx="456.9" cy="254.7" r="3.15"/><circle cx="774.8" cy="255.8" r="3.15"/><circle cx="741.4" cy="291.9" r="3.15"/><circle cx="676.0" cy="212.2" r="3.15"/><circle cx="681.2" cy="286.1" r="3.15"/><circle cx="671.2" cy="235.6" r="3.15"/><circle cx="788.4" cy="276.2" r="3.15"/><circle cx="864.9" cy="249.3" r="3.15"/><circle cx="645.7" cy="215.8" r="3.15"/><circle cx="660.5" cy="275.6" r="3.15"/><circle cx="622.8" cy="281.8" r="3.15"/><circle cx="650.2" cy="297.1" r="3.15"/><circle cx="710.0" cy="246.5" r="3.15"/><circle cx="772.9" cy="222.5" r="3.15"/><circle cx="625.8" cy="294.8" r="3.15"/><circle cx="760.4" cy="282.3" r="3.15"/><circle cx="720.9" cy="299.9" r="3.15"/><circle cx="636.4" cy="284.7" r="3.15"/><circle cx="711.2" cy="244.0" r="3.15"/><circle cx="742.8" cy="289.2" r="3.15"/><circle cx="707.4" cy="281.0" r="3.15"/><circle cx="792.9" cy="270.6" r="3.15"/><circle cx="648.3" cy="263.6" r="3.15"/><circle cx="747.1" cy="221.4" r="3.15"/><circle cx="1076.9" cy="206.7" r="3.15"/><circle cx="715.7" cy="260.0" r="3.15"/><circle cx="705.2" cy="245.5" r="3.15"/><circle cx="767.2" cy="212.6" r="3.15"/><circle cx="735.5" cy="210.9" r="3.15"/><circle cx="734.8" cy="252.4" r="3.15"/><circle cx="765.4" cy="207.1" r="3.15"/><circle cx="647.7" cy="263.8" r="3.15"/><circle cx="789.4" cy="241.7" r="3.15"/><circle cx="783.8" cy="267.9" r="3.15"/><circle cx="645.1" cy="282.1" r="3.15"/><circle cx="625.8" cy="296.7" r="3.15"/><circle cx="948.8" cy="228.0" r="3.15"/><circle cx="707.8" cy="300.2" r="3.15"/><circle cx="801.4" cy="298.9" r="3.15"/><circle cx="815.7" cy="207.0" r="3.15"/><circle cx="865.2" cy="262.4" r="3.15"/><circle cx="605.3" cy="286.0" r="3.15"/><circle cx="815.5" cy="304.8" r="3.15"/><circle cx="737.3" cy="292.5" r="3.15"/><circle cx="689.2" cy="300.6" r="3.15"/><circle cx="625.8" cy="262.5" r="3.15"/><circle cx="677.1" cy="224.6" r="3.15"/><circle cx="689.2" cy="213.9" r="3.15"/><circle cx="729.0" cy="272.1" r="3.15"/><circle cx="679.7" cy="224.5" r="3.15"/><circle cx="685.8" cy="228.0" r="3.15"/><circle cx="768.3" cy="270.2" r="3.15"/><circle cx="714.1" cy="246.3" r="3.15"/><circle cx="512.8" cy="288.0" r="3.15"/><circle cx="524.7" cy="299.3" r="3.15"/><circle cx="667.9" cy="279.7" r="3.15"/><circle cx="802.5" cy="270.5" r="3.15"/><circle cx="827.0" cy="213.3" r="3.15"/><circle cx="710.4" cy="220.8" r="3.15"/><circle cx="695.8" cy="292.8" r="3.15"/><circle cx="718.6" cy="285.4" r="3.15"/><circle cx="650.8" cy="241.2" r="3.15"/><circle cx="665.7" cy="276.4" r="3.15"/><circle cx="673.4" cy="299.6" r="3.15"/><circle cx="705.2" cy="273.7" r="3.15"/><circle cx="710.4" cy="286.6" r="3.15"/><circle cx="714.9" cy="238.7" r="3.15"/><circle cx="666.8" cy="226.9" r="3.15"/><circle cx="498.1" cy="208.3" r="3.15"/><circle cx="781.5" cy="267.2" r="3.15"/><circle cx="702.6" cy="212.5" r="3.15"/><circle cx="637.8" cy="251.9" r="3.15"/><circle cx="654.5" cy="256.1" r="3.15"/><circle cx="664.5" cy="236.1" r="3.15"/><circle cx="814.4" cy="208.8" r="3.15"/><circle cx="916.7" cy="276.5" r="3.15"/><circle cx="694.4" cy="258.8" r="3.15"/><circle cx="665.7" cy="283.8" r="3.15"/><circle cx="712.5" cy="250.0" r="3.15"/><circle cx="699.0" cy="270.1" r="3.15"/><circle cx="775.6" cy="272.9" r="3.15"/><circle cx="859.1" cy="223.9" r="3.15"/><circle cx="682.8" cy="206.9" r="3.15"/><circle cx="886.9" cy="211.2" r="3.15"/><circle cx="699.9" cy="300.8" r="3.15"/><circle cx="1014.3" cy="298.3" r="3.15"/><circle cx="650.8" cy="258.7" r="3.15"/><circle cx="777.8" cy="253.0" r="3.15"/><circle cx="806.4" cy="266.1" r="3.15"/><circle cx="670.7" cy="301.8" r="3.15"/><circle cx="701.3" cy="231.6" r="3.15"/><circle cx="736.9" cy="216.3" r="3.15"/><circle cx="731.5" cy="243.1" r="3.15"/><circle cx="735.5" cy="277.0" r="3.15"/><circle cx="676.6" cy="292.3" r="3.15"/><circle cx="774.0" cy="227.2" r="3.15"/><circle cx="767.2" cy="215.2" r="3.15"/><circle cx="825.4" cy="269.8" r="3.15"/><circle cx="650.8" cy="257.1" r="3.15"/><circle cx="734.4" cy="253.9" r="3.15"/><circle cx="625.8" cy="294.3" r="3.15"/><circle cx="646.4" cy="287.5" r="3.15"/><circle cx="742.8" cy="240.6" r="3.15"/><circle cx="631.6" cy="262.0" r="3.15"/><circle cx="679.2" cy="218.6" r="3.15"/><circle cx="1026.2" cy="206.8" r="3.15"/><circle cx="630.8" cy="298.8" r="3.15"/><circle cx="797.0" cy="215.9" r="3.15"/><circle cx="725.2" cy="286.4" r="3.15"/><circle cx="670.7" cy="301.8" r="3.15"/><circle cx="701.3" cy="283.8" r="3.15"/><circle cx="650.2" cy="293.3" r="3.15"/><circle cx="508.0" cy="254.5" r="3.15"/><circle cx="841.6" cy="248.8" r="3.15"/><circle cx="787.9" cy="300.2" r="3.15"/><circle cx="727.1" cy="241.1" r="3.15"/><circle cx="709.1" cy="225.5" r="3.15"/><circle cx="764.6" cy="232.1" r="3.15"/><circle cx="654.5" cy="234.7" r="3.15"/><circle cx="667.9" cy="251.6" r="3.15"/><circle cx="658.1" cy="287.7" r="3.15"/><circle cx="743.8" cy="268.4" r="3.15"/><circle cx="670.1" cy="253.0" r="3.15"/><circle cx="791.9" cy="274.6" r="3.15"/><circle cx="437.7" cy="279.6" r="3.15"/><circle cx="1023.1" cy="270.6" r="3.15"/><circle cx="730.4" cy="276.1" r="3.15"/><circle cx="705.2" cy="245.5" r="3.15"/><circle cx="741.1" cy="234.7" r="3.15"/><circle cx="650.8" cy="302.4" r="3.15"/><circle cx="733.7" cy="223.7" r="3.15"/><circle cx="647.7" cy="298.1" r="3.15"/><circle cx="676.6" cy="277.0" r="3.15"/><circle cx="692.1" cy="264.6" r="3.15"/><circle cx="669.6" cy="222.6" r="3.15"/><circle cx="644.5" cy="266.2" r="3.15"/><circle cx="787.9" cy="291.7" r="3.15"/><circle cx="710.8" cy="239.0" r="3.15"/><circle cx="828.1" cy="294.8" r="3.15"/><circle cx="647.0" cy="259.5" r="3.15"/><circle cx="630.8" cy="275.9" r="3.15"/><circle cx="637.1" cy="235.2" r="3.15"/><circle cx="758.0" cy="217.1" r="3.15"/><circle cx="731.2" cy="254.3" r="3.15"/><circle cx="692.5" cy="241.3" r="3.15"/><circle cx="629.4" cy="241.7" r="3.15"/><circle cx="699.0" cy="213.4" r="3.15"/><circle cx="774.2" cy="253.1" r="3.15"/><circle cx="910.5" cy="255.4" r="3.15"/><circle cx="795.8" cy="279.0" r="3.15"/><circle cx="652.1" cy="223.8" r="3.15"/><circle cx="712.9" cy="261.9" r="3.15"/><circle cx="636.4" cy="262.7" r="3.15"/><circle cx="704.8" cy="210.1" r="3.15"/><circle cx="665.1" cy="246.9" r="3.15"/><circle cx="744.8" cy="207.0" r="3.15"/><circle cx="734.4" cy="249.9" r="3.15"/><circle cx="714.5" cy="290.2" r="3.15"/><circle cx="681.2" cy="284.1" r="3.15"/><circle cx="695.8" cy="270.5" r="3.15"/><circle cx="696.3" cy="239.4" r="3.15"/><circle cx="622.8" cy="241.3" r="3.15"/><circle cx="782.8" cy="253.6" r="3.15"/><circle cx="644.5" cy="280.4" r="3.15"/><circle cx="688.7" cy="294.4" r="3.15"/><circle cx="706.5" cy="305.0" r="3.15"/><circle cx="673.4" cy="256.7" r="3.15"/><circle cx="760.4" cy="210.6" r="3.15"/><circle cx="786.4" cy="266.4" r="3.15"/><circle cx="649.6" cy="279.6" r="3.15"/><circle cx="750.1" cy="270.8" r="3.15"/><circle cx="637.8" cy="226.0" r="3.15"/><circle cx="718.6" cy="273.2" r="3.15"/><circle cx="738.3" cy="300.2" r="3.15"/><circle cx="639.2" cy="241.2" r="3.15"/><circle cx="658.7" cy="279.7" r="3.15"/><circle cx="638.5" cy="220.2" r="3.15"/><circle cx="665.1" cy="273.6" r="3.15"/><circle cx="769.8" cy="289.3" r="3.15"/><circle cx="725.6" cy="274.8" r="3.15"/><circle cx="753.6" cy="248.4" r="3.15"/><circle cx="713.7" cy="259.0" r="3.15"/><circle cx="518.9" cy="239.9" r="3.15"/><circle cx="679.7" cy="222.5" r="3.15"/><circle cx="732.3" cy="262.3" r="3.15"/><circle cx="718.6" cy="222.4" r="3.15"/><circle cx="734.8" cy="209.4" r="3.15"/><circle cx="691.6" cy="277.6" r="3.15"/><circle cx="673.4" cy="243.9" r="3.15"/><circle cx="672.8" cy="251.0" r="3.15"/><circle cx="638.5" cy="210.6" r="3.15"/><circle cx="700.4" cy="287.6" r="3.15"/><circle cx="773.1" cy="255.1" r="3.15"/><circle cx="832.7" cy="209.0" r="3.15"/><circle cx="707.0" cy="233.3" r="3.15"/><circle cx="696.3" cy="300.5" r="3.15"/><circle cx="683.8" cy="260.3" r="3.15"/><circle cx="647.0" cy="277.8" r="3.15"/><circle cx="639.2" cy="301.6" r="3.15"/><circle cx="857.8" cy="236.5" r="3.15"/><circle cx="708.7" cy="236.9" r="3.15"/><circle cx="815.5" cy="236.0" r="3.15"/><circle cx="666.2" cy="300.8" r="3.15"/><circle cx="666.2" cy="214.1" r="3.15"/><circle cx="637.1" cy="220.5" r="3.15"/><circle cx="722.9" cy="220.8" r="3.15"/><circle cx="800.5" cy="288.7" r="3.15"/><circle cx="721.3" cy="287.2" r="3.15"/><circle cx="634.4" cy="284.2" r="3.15"/><circle cx="461.4" cy="284.3" r="3.15"/><circle cx="699.9" cy="261.2" r="3.15"/><circle cx="642.5" cy="264.3" r="3.15"/><circle cx="636.4" cy="264.2" r="3.15"/><circle cx="624.3" cy="257.1" r="3.15"/><circle cx="694.0" cy="277.0" r="3.15"/><circle cx="506.4" cy="272.4" r="3.15"/><circle cx="689.2" cy="242.2" r="3.15"/><circle cx="782.3" cy="263.6" r="3.15"/><circle cx="644.5" cy="278.7" r="3.15"/><circle cx="769.8" cy="245.7" r="3.15"/><circle cx="693.0" cy="253.9" r="3.15"/><circle cx="750.7" cy="228.5" r="3.15"/><circle cx="696.7" cy="278.6" r="3.15"/><circle cx="662.8" cy="283.8" r="3.15"/><circle cx="656.3" cy="233.3" r="3.15"/><circle cx="695.8" cy="212.0" r="3.15"/><circle cx="736.9" cy="304.7" r="3.15"/><circle cx="687.2" cy="229.6" r="3.15"/><circle cx="673.4" cy="236.5" r="3.15"/><circle cx="688.2" cy="216.9" r="3.15"/><circle cx="624.3" cy="273.5" r="3.15"/><circle cx="642.5" cy="213.0" r="3.15"/><circle cx="724.8" cy="209.5" r="3.15"/><circle cx="729.0" cy="247.9" r="3.15"/><circle cx="659.9" cy="249.5" r="3.15"/><circle cx="627.2" cy="232.7" r="3.15"/><circle cx="940.0" cy="247.6" r="3.15"/><circle cx="790.9" cy="272.0" r="3.15"/><circle cx="677.1" cy="258.1" r="3.15"/><circle cx="868.8" cy="272.7" r="3.15"/><circle cx="662.2" cy="246.0" r="3.15"/><circle cx="1039.4" cy="271.9" r="3.15"/><circle cx="684.3" cy="226.1" r="3.15"/><circle cx="633.0" cy="283.6" r="3.15"/><circle cx="686.7" cy="225.4" r="3.15"/><circle cx="681.7" cy="285.7" r="3.15"/><circle cx="693.0" cy="259.5" r="3.15"/><circle cx="699.5" cy="220.0" r="3.15"/><circle cx="806.6" cy="257.0" r="3.15"/><circle cx="792.4" cy="297.8" r="3.15"/><circle cx="773.4" cy="281.9" r="3.15"/><circle cx="630.1" cy="230.4" r="3.15"/><circle cx="735.5" cy="301.4" r="3.15"/><circle cx="755.5" cy="259.8" r="3.15"/><circle cx="694.9" cy="213.6" r="3.15"/><circle cx="674.5" cy="262.2" r="3.15"/><circle cx="725.6" cy="303.0" r="3.15"/><circle cx="777.0" cy="239.7" r="3.15"/><circle cx="681.2" cy="284.5" r="3.15"/><circle cx="479.9" cy="242.7" r="3.15"/><circle cx="777.5" cy="284.8" r="3.15"/><circle cx="631.6" cy="233.6" r="3.15"/><circle cx="740.1" cy="262.7" r="3.15"/><circle cx="692.5" cy="292.0" r="3.15"/><circle cx="884.8" cy="292.6" r="3.15"/><circle cx="679.2" cy="231.5" r="3.15"/><circle cx="820.8" cy="289.7" r="3.15"/><circle cx="788.2" cy="241.5" r="3.15"/><circle cx="782.0" cy="210.7" r="3.15"/><circle cx="432.5" cy="283.3" r="3.15"/><circle cx="625.0" cy="235.5" r="3.15"/><circle cx="681.2" cy="232.9" r="3.15"/><circle cx="734.4" cy="297.2" r="3.15"/><circle cx="753.6" cy="250.9" r="3.15"/><circle cx="635.7" cy="256.3" r="3.15"/><circle cx="945.8" cy="288.1" r="3.15"/><circle cx="792.4" cy="260.2" r="3.15"/><circle cx="711.6" cy="285.2" r="3.15"/><circle cx="711.6" cy="233.6" r="3.15"/><circle cx="897.9" cy="278.7" r="3.15"/><circle cx="854.8" cy="268.1" r="3.15"/><circle cx="543.6" cy="245.6" r="3.15"/><circle cx="459.1" cy="282.6" r="3.15"/><circle cx="825.2" cy="243.9" r="3.15"/><circle cx="667.4" cy="213.0" r="3.15"/><circle cx="653.9" cy="289.3" r="3.15"/><circle cx="860.5" cy="247.5" r="3.15"/><circle cx="640.5" cy="211.3" r="3.15"/><circle cx="693.0" cy="239.0" r="3.15"/><circle cx="639.8" cy="269.8" r="3.15"/><circle cx="642.5" cy="229.5" r="3.15"/><circle cx="720.1" cy="294.5" r="3.15"/><circle cx="623.5" cy="238.4" r="3.15"/><circle cx="732.3" cy="246.8" r="3.15"/><circle cx="772.3" cy="256.5" r="3.15"/><circle cx="634.4" cy="210.1" r="3.15"/><circle cx="931.9" cy="270.4" r="3.15"/><circle cx="884.8" cy="207.8" r="3.15"/><circle cx="541.1" cy="281.4" r="3.15"/><circle cx="680.7" cy="262.7" r="3.15"/><circle cx="629.4" cy="226.9" r="3.15"/><circle cx="685.8" cy="211.4" r="3.15"/><circle cx="812.9" cy="256.9" r="3.15"/><circle cx="676.0" cy="242.2" r="3.15"/><circle cx="700.4" cy="293.0" r="3.15"/><circle cx="774.5" cy="253.1" r="3.15"/><circle cx="677.6" cy="303.1" r="3.15"/><circle cx="821.0" cy="213.1" r="3.15"/><circle cx="820.0" cy="279.5" r="3.15"/><circle cx="629.4" cy="286.7" r="3.15"/><circle cx="624.3" cy="219.9" r="3.15"/><circle cx="979.2" cy="243.6" r="3.15"/><circle cx="655.1" cy="208.9" r="3.15"/><circle cx="719.0" cy="236.8" r="3.15"/><circle cx="860.3" cy="234.6" r="3.15"/><circle cx="637.8" cy="243.2" r="3.15"/><circle cx="705.7" cy="247.7" r="3.15"/><circle cx="703.1" cy="302.9" r="3.15"/><circle cx="725.9" cy="229.1" r="3.15"/><circle cx="826.8" cy="211.7" r="3.15"/><circle cx="651.4" cy="257.0" r="3.15"/><circle cx="456.9" cy="297.1" r="3.15"/><circle cx="716.2" cy="231.7" r="3.15"/><circle cx="761.3" cy="208.5" r="3.15"/><circle cx="827.5" cy="290.2" r="3.15"/><circle cx="724.8" cy="236.6" r="3.15"/><circle cx="719.0" cy="238.0" r="3.15"/><circle cx="650.8" cy="251.4" r="3.15"/><circle cx="634.4" cy="292.4" r="3.15"/><circle cx="670.1" cy="255.8" r="3.15"/><circle cx="639.8" cy="213.3" r="3.15"/><circle cx="737.6" cy="266.4" r="3.15"/><circle cx="725.9" cy="222.2" r="3.15"/><circle cx="701.3" cy="261.8" r="3.15"/><circle cx="745.2" cy="247.8" r="3.15"/><circle cx="860.0" cy="262.1" r="3.15"/><circle cx="521.8" cy="254.2" r="3.15"/><circle cx="440.2" cy="230.2" r="3.15"/><circle cx="776.7" cy="260.4" r="3.15"/><circle cx="694.9" cy="207.5" r="3.15"/><circle cx="755.8" cy="271.3" r="3.15"/><circle cx="638.5" cy="244.9" r="3.15"/><circle cx="776.2" cy="260.1" r="3.15"/><circle cx="662.8" cy="267.6" r="3.15"/><circle cx="696.3" cy="226.1" r="3.15"/><circle cx="649.6" cy="263.1" r="3.15"/><circle cx="759.5" cy="210.1" r="3.15"/><circle cx="690.2" cy="218.9" r="3.15"/><circle cx="1075.1" cy="262.7" r="3.15"/><circle cx="729.0" cy="232.9" r="3.15"/><circle cx="650.8" cy="239.8" r="3.15"/><circle cx="994.3" cy="287.2" r="3.15"/><circle cx="714.1" cy="259.7" r="3.15"/><circle cx="723.7" cy="236.7" r="3.15"/><circle cx="638.5" cy="298.3" r="3.15"/><circle cx="768.3" cy="213.1" r="3.15"/><circle cx="779.4" cy="303.9" r="3.15"/><circle cx="705.2" cy="219.1" r="3.15"/><circle cx="723.7" cy="252.9" r="3.15"/><circle cx="678.7" cy="220.7" r="3.15"/><circle cx="1031.1" cy="263.0" r="3.15"/><circle cx="648.3" cy="209.8" r="3.15"/><circle cx="634.4" cy="269.4" r="3.15"/><circle cx="688.2" cy="258.2" r="3.15"/><circle cx="1045.4" cy="286.8" r="3.15"/><circle cx="625.8" cy="288.8" r="3.15"/><circle cx="703.9" cy="267.5" r="3.15"/><circle cx="731.9" cy="295.0" r="3.15"/><circle cx="672.3" cy="206.8" r="3.15"/><circle cx="593.0" cy="220.0" r="3.15"/><circle cx="689.7" cy="227.9" r="3.15"/><circle cx="660.5" cy="217.8" r="3.15"/><circle cx="677.1" cy="267.4" r="3.15"/><circle cx="699.0" cy="232.0" r="3.15"/><circle cx="680.7" cy="221.5" r="3.15"/><circle cx="477.9" cy="233.8" r="3.15"/><circle cx="698.1" cy="258.5" r="3.15"/><circle cx="1014.6" cy="236.1" r="3.15"/><circle cx="698.1" cy="292.5" r="3.15"/><circle cx="1098.8" cy="239.6" r="3.15"/><circle cx="661.7" cy="247.0" r="3.15"/><circle cx="633.7" cy="249.7" r="3.15"/><circle cx="733.4" cy="243.2" r="3.15"/><circle cx="628.0" cy="220.3" r="3.15"/><circle cx="849.0" cy="265.6" r="3.15"/><circle cx="763.4" cy="280.7" r="3.15"/><circle cx="973.2" cy="221.7" r="3.15"/><circle cx="662.2" cy="240.9" r="3.15"/><circle cx="648.9" cy="261.3" r="3.15"/><circle cx="719.8" cy="261.8" r="3.15"/><circle cx="770.6" cy="219.2" r="3.15"/><circle cx="687.2" cy="274.7" r="3.15"/><circle cx="708.7" cy="243.4" r="3.15"/><circle cx="679.7" cy="246.3" r="3.15"/><circle cx="665.7" cy="275.4" r="3.15"/><circle cx="564.9" cy="303.4" r="3.15"/><circle cx="706.1" cy="275.4" r="3.15"/><circle cx="664.0" cy="251.6" r="3.15"/><circle cx="739.0" cy="228.1" r="3.15"/><circle cx="753.3" cy="276.7" r="3.15"/><circle cx="970.3" cy="268.8" r="3.15"/><circle cx="1084.2" cy="215.9" r="3.15"/><circle cx="622.0" cy="236.5" r="3.15"/><circle cx="631.6" cy="257.4" r="3.15"/><circle cx="745.8" cy="283.6" r="3.15"/><circle cx="1096.4" cy="286.7" r="3.15"/><circle cx="684.3" cy="260.5" r="3.15"/><circle cx="725.2" cy="216.8" r="3.15"/><circle cx="693.5" cy="280.8" r="3.15"/><circle cx="645.1" cy="258.0" r="3.15"/><circle cx="895.5" cy="278.7" r="3.15"/><circle cx="653.9" cy="215.6" r="3.15"/><circle cx="647.7" cy="241.3" r="3.15"/><circle cx="758.9" cy="281.6" r="3.15"/><circle cx="684.3" cy="268.4" r="3.15"/><circle cx="635.1" cy="259.4" r="3.15"/><circle cx="638.5" cy="232.0" r="3.15"/><circle cx="643.1" cy="300.5" r="3.15"/><circle cx="628.0" cy="211.5" r="3.15"/><circle cx="719.4" cy="249.2" r="3.15"/><circle cx="659.3" cy="248.0" r="3.15"/><circle cx="645.7" cy="273.1" r="3.15"/><circle cx="784.9" cy="222.2" r="3.15"/><circle cx="703.9" cy="207.8" r="3.15"/><circle cx="704.8" cy="226.1" r="3.15"/><circle cx="701.7" cy="302.9" r="3.15"/><circle cx="637.1" cy="260.3" r="3.15"/><circle cx="741.4" cy="244.1" r="3.15"/><circle cx="740.4" cy="217.0" r="3.15"/><circle cx="742.5" cy="230.2" r="3.15"/><circle cx="630.8" cy="226.2" r="3.15"/><circle cx="672.8" cy="214.8" r="3.15"/><circle cx="690.2" cy="218.0" r="3.15"/><circle cx="625.0" cy="287.6" r="3.15"/><circle cx="683.3" cy="220.2" r="3.15"/><circle cx="731.2" cy="270.4" r="3.15"/><circle cx="685.3" cy="267.7" r="3.15"/><circle cx="632.3" cy="283.2" r="3.15"/><circle cx="658.7" cy="277.9" r="3.15"/><circle cx="704.8" cy="221.9" r="3.15"/><circle cx="731.2" cy="249.8" r="3.15"/><circle cx="770.0" cy="256.7" r="3.15"/><circle cx="698.6" cy="289.4" r="3.15"/><circle cx="707.8" cy="253.7" r="3.15"/><circle cx="692.5" cy="285.2" r="3.15"/><circle cx="771.7" cy="229.0" r="3.15"/><circle cx="626.5" cy="292.1" r="3.15"/><circle cx="696.7" cy="234.5" r="3.15"/><circle cx="761.3" cy="244.8" r="3.15"/><circle cx="710.4" cy="284.8" r="3.15"/><circle cx="709.5" cy="282.3" r="3.15"/><circle cx="667.4" cy="231.3" r="3.15"/><circle cx="682.3" cy="215.5" r="3.15"/><circle cx="731.2" cy="294.0" r="3.15"/><circle cx="686.7" cy="258.6" r="3.15"/><circle cx="708.3" cy="260.1" r="3.15"/><circle cx="705.2" cy="273.5" r="3.15"/><circle cx="711.6" cy="239.5" r="3.15"/><circle cx="1021.1" cy="214.8" r="3.15"/><circle cx="663.4" cy="224.3" r="3.15"/><circle cx="678.7" cy="291.8" r="3.15"/><circle cx="696.3" cy="240.9" r="3.15"/><circle cx="785.4" cy="271.7" r="3.15"/><circle cx="645.7" cy="288.5" r="3.15"/><circle cx="746.8" cy="300.9" r="3.15"/><circle cx="817.7" cy="252.0" r="3.15"/><circle cx="639.2" cy="252.8" r="3.15"/><circle cx="635.7" cy="228.2" r="3.15"/><circle cx="637.1" cy="263.0" r="3.15"/><circle cx="757.7" cy="295.4" r="3.15"/><circle cx="634.4" cy="217.9" r="3.15"/><circle cx="634.4" cy="261.1" r="3.15"/><circle cx="728.6" cy="211.5" r="3.15"/><circle cx="800.7" cy="243.3" r="3.15"/><circle cx="679.2" cy="294.4" r="3.15"/><circle cx="714.1" cy="246.4" r="3.15"/><circle cx="646.4" cy="265.1" r="3.15"/><circle cx="726.3" cy="247.6" r="3.15"/><circle cx="789.2" cy="305.0" r="3.15"/><circle cx="680.2" cy="258.4" r="3.15"/><circle cx="623.5" cy="229.3" r="3.15"/><circle cx="622.0" cy="226.4" r="3.15"/><circle cx="1064.6" cy="241.2" r="3.15"/><circle cx="637.8" cy="268.6" r="3.15"/><circle cx="657.5" cy="229.9" r="3.15"/><circle cx="688.2" cy="268.3" r="3.15"/><circle cx="625.0" cy="268.3" r="3.15"/><circle cx="965.3" cy="247.7" r="3.15"/><circle cx="711.6" cy="245.5" r="3.15"/><circle cx="667.9" cy="218.4" r="3.15"/><circle cx="775.9" cy="235.2" r="3.15"/><circle cx="787.4" cy="302.9" r="3.15"/><circle cx="736.6" cy="300.9" r="3.15"/><circle cx="778.3" cy="252.6" r="3.15"/><circle cx="657.5" cy="208.5" r="3.15"/><circle cx="785.9" cy="297.4" r="3.15"/><circle cx="847.3" cy="261.7" r="3.15"/><circle cx="625.0" cy="261.9" r="3.15"/><circle cx="651.4" cy="224.8" r="3.15"/><circle cx="629.4" cy="257.1" r="3.15"/><circle cx="672.3" cy="260.9" r="3.15"/><circle cx="720.9" cy="298.3" r="3.15"/><circle cx="737.6" cy="293.9" r="3.15"/><circle cx="653.9" cy="207.8" r="3.15"/><circle cx="676.6" cy="276.5" r="3.15"/><circle cx="690.6" cy="285.6" r="3.15"/><circle cx="645.7" cy="299.6" r="3.15"/><circle cx="672.3" cy="269.9" r="3.15"/><circle cx="764.0" cy="230.0" r="3.15"/><circle cx="654.5" cy="287.5" r="3.15"/><circle cx="714.1" cy="278.8" r="3.15"/><circle cx="695.8" cy="239.5" r="3.15"/><circle cx="714.9" cy="233.7" r="3.15"/><circle cx="734.4" cy="227.7" r="3.15"/><circle cx="728.6" cy="283.7" r="3.15"/><circle cx="782.0" cy="291.9" r="3.15"/><circle cx="755.8" cy="215.0" r="3.15"/><circle cx="730.4" cy="284.0" r="3.15"/><circle cx="752.7" cy="275.5" r="3.15"/><circle cx="501.5" cy="262.3" r="3.15"/><circle cx="681.2" cy="286.6" r="3.15"/><circle cx="701.7" cy="222.7" r="3.15"/><circle cx="680.2" cy="284.7" r="3.15"/><circle cx="632.3" cy="289.6" r="3.15"/><circle cx="673.4" cy="211.3" r="3.15"/><circle cx="687.7" cy="257.7" r="3.15"/><circle cx="1058.0" cy="276.5" r="3.15"/><circle cx="738.7" cy="254.5" r="3.15"/><circle cx="855.6" cy="246.6" r="3.15"/><circle cx="959.9" cy="252.0" r="3.15"/><circle cx="752.0" cy="244.8" r="3.15"/><circle cx="772.9" cy="272.6" r="3.15"/><circle cx="803.7" cy="222.9" r="3.15"/><circle cx="667.4" cy="289.0" r="3.15"/><circle cx="662.8" cy="285.3" r="3.15"/><circle cx="822.4" cy="261.7" r="3.15"/><circle cx="741.1" cy="208.5" r="3.15"/><circle cx="758.3" cy="253.5" r="3.15"/><circle cx="693.5" cy="240.1" r="3.15"/><circle cx="763.1" cy="219.8" r="3.15"/><circle cx="712.5" cy="253.5" r="3.15"/><circle cx="673.4" cy="259.5" r="3.15"/><circle cx="783.8" cy="271.0" r="3.15"/><circle cx="786.7" cy="260.2" r="3.15"/><circle cx="624.3" cy="260.1" r="3.15"/><circle cx="665.7" cy="243.6" r="3.15"/><circle cx="732.6" cy="304.8" r="3.15"/><circle cx="655.7" cy="285.1" r="3.15"/><circle cx="816.1" cy="255.5" r="3.15"/><circle cx="653.3" cy="237.8" r="3.15"/><circle cx="697.7" cy="216.0" r="3.15"/><circle cx="679.2" cy="284.1" r="3.15"/><circle cx="684.3" cy="278.4" r="3.15"/><circle cx="688.7" cy="219.6" r="3.15"/><circle cx="638.5" cy="265.6" r="3.15"/><circle cx="822.0" cy="275.0" r="3.15"/><circle cx="717.0" cy="209.8" r="3.15"/><circle cx="660.5" cy="224.4" r="3.15"/><circle cx="672.8" cy="286.9" r="3.15"/><circle cx="622.8" cy="270.7" r="3.15"/><circle cx="847.5" cy="240.4" r="3.15"/><circle cx="691.6" cy="216.6" r="3.15"/><circle cx="631.6" cy="209.2" r="3.15"/><circle cx="801.6" cy="281.0" r="3.15"/><circle cx="637.8" cy="223.0" r="3.15"/><circle cx="782.5" cy="241.7" r="3.15"/><circle cx="686.7" cy="298.6" r="3.15"/><circle cx="787.2" cy="254.7" r="3.15"/><circle cx="636.4" cy="236.1" r="3.15"/><circle cx="810.8" cy="289.4" r="3.15"/><circle cx="623.5" cy="251.8" r="3.15"/><circle cx="810.3" cy="235.5" r="3.15"/><circle cx="625.0" cy="288.9" r="3.15"/><circle cx="752.7" cy="300.4" r="3.15"/><circle cx="685.3" cy="284.6" r="3.15"/><circle cx="700.8" cy="245.8" r="3.15"/><circle cx="678.7" cy="247.8" r="3.15"/><circle cx="628.0" cy="245.9" r="3.15"/><circle cx="967.3" cy="260.7" r="3.15"/><circle cx="787.7" cy="270.9" r="3.15"/><circle cx="766.9" cy="230.0" r="3.15"/><circle cx="649.6" cy="245.4" r="3.15"/><circle cx="704.8" cy="211.8" r="3.15"/><circle cx="713.3" cy="266.2" r="3.15"/><circle cx="971.3" cy="246.7" r="3.15"/><circle cx="610.3" cy="217.0" r="3.15"/><circle cx="780.2" cy="217.1" r="3.15"/><circle cx="636.4" cy="263.8" r="3.15"/><circle cx="661.7" cy="211.1" r="3.15"/><circle cx="695.8" cy="215.5" r="3.15"/><circle cx="687.2" cy="269.5" r="3.15"/><circle cx="691.1" cy="244.3" r="3.15"/><circle cx="696.7" cy="231.7" r="3.15"/><circle cx="625.8" cy="233.0" r="3.15"/><circle cx="682.8" cy="211.5" r="3.15"/><circle cx="648.3" cy="242.5" r="3.15"/><circle cx="684.3" cy="248.0" r="3.15"/><circle cx="723.7" cy="269.3" r="3.15"/><circle cx="1034.6" cy="223.0" r="3.15"/><circle cx="655.7" cy="229.7" r="3.15"/><circle cx="635.1" cy="269.4" r="3.15"/><circle cx="687.7" cy="240.1" r="3.15"/><circle cx="471.9" cy="300.4" r="3.15"/><circle cx="693.5" cy="239.7" r="3.15"/><circle cx="1000.8" cy="281.0" r="3.15"/><circle cx="637.1" cy="296.2" r="3.15"/><circle cx="705.7" cy="301.8" r="3.15"/><circle cx="708.3" cy="218.6" r="3.15"/><circle cx="639.8" cy="299.6" r="3.15"/><circle cx="454.6" cy="218.1" r="3.15"/><circle cx="819.4" cy="288.5" r="3.15"/><circle cx="860.5" cy="292.9" r="3.15"/><circle cx="665.7" cy="242.0" r="3.15"/><circle cx="663.4" cy="245.7" r="3.15"/><circle cx="766.9" cy="260.3" r="3.15"/><circle cx="798.1" cy="223.4" r="3.15"/><circle cx="729.7" cy="229.8" r="3.15"/><circle cx="509.6" cy="240.8" r="3.15"/><circle cx="771.5" cy="250.7" r="3.15"/><circle cx="640.5" cy="289.2" r="3.15"/><circle cx="662.8" cy="226.1" r="3.15"/><circle cx="669.0" cy="250.6" r="3.15"/><circle cx="639.8" cy="230.5" r="3.15"/><circle cx="689.2" cy="262.0" r="3.15"/><circle cx="665.1" cy="253.0" r="3.15"/><circle cx="695.8" cy="253.6" r="3.15"/><circle cx="651.4" cy="277.2" r="3.15"/><circle cx="832.3" cy="297.8" r="3.15"/><circle cx="664.0" cy="294.6" r="3.15"/><circle cx="995.4" cy="256.1" r="3.15"/><circle cx="710.4" cy="258.4" r="3.15"/><circle cx="796.5" cy="252.0" r="3.15"/><circle cx="735.1" cy="232.6" r="3.15"/><circle cx="867.5" cy="213.0" r="3.15"/><circle cx="692.1" cy="251.5" r="3.15"/><circle cx="704.4" cy="242.8" r="3.15"/><circle cx="912.3" cy="264.6" r="3.15"/><circle cx="947.1" cy="220.2" r="3.15"/><circle cx="641.8" cy="300.4" r="3.15"/><circle cx="722.5" cy="277.2" r="3.15"/><circle cx="726.7" cy="213.9" r="3.15"/><circle cx="819.0" cy="228.0" r="3.15"/><circle cx="715.7" cy="250.6" r="3.15"/><circle cx="652.7" cy="220.3" r="3.15"/><circle cx="723.3" cy="265.6" r="3.15"/><circle cx="918.3" cy="288.4" r="3.15"/><circle cx="656.3" cy="301.4" r="3.15"/><circle cx="678.1" cy="241.0" r="3.15"/><circle cx="883.6" cy="262.3" r="3.15"/><circle cx="760.4" cy="284.0" r="3.15"/><circle cx="685.3" cy="304.8" r="3.15"/><circle cx="668.5" cy="276.9" r="3.15"/><circle cx="731.9" cy="216.7" r="3.15"/><circle cx="747.1" cy="298.3" r="3.15"/><circle cx="709.5" cy="248.0" r="3.15"/><circle cx="666.2" cy="274.7" r="3.15"/><circle cx="645.1" cy="272.4" r="3.15"/><circle cx="651.4" cy="292.1" r="3.15"/><circle cx="646.4" cy="255.4" r="3.15"/><circle cx="747.8" cy="247.9" r="3.15"/><circle cx="691.6" cy="280.5" r="3.15"/><circle cx="665.7" cy="230.3" r="3.15"/><circle cx="622.0" cy="257.8" r="3.15"/><circle cx="624.3" cy="283.6" r="3.15"/><circle cx="751.1" cy="245.4" r="3.15"/><circle cx="798.1" cy="304.8" r="3.15"/><circle cx="720.9" cy="284.9" r="3.15"/><circle cx="738.3" cy="268.8" r="3.15"/><circle cx="710.0" cy="262.4" r="3.15"/><circle cx="782.0" cy="279.0" r="3.15"/><circle cx="625.0" cy="292.3" r="3.15"/><circle cx="620.5" cy="288.6" r="3.15"/><circle cx="720.9" cy="278.2" r="3.15"/><circle cx="808.4" cy="261.9" r="3.15"/><circle cx="624.3" cy="210.6" r="3.15"/><circle cx="629.4" cy="296.5" r="3.15"/><circle cx="625.8" cy="257.5" r="3.15"/><circle cx="639.8" cy="277.2" r="3.15"/><circle cx="729.0" cy="226.5" r="3.15"/><circle cx="699.9" cy="224.0" r="3.15"/><circle cx="748.5" cy="252.6" r="3.15"/><circle cx="732.3" cy="293.0" r="3.15"/><circle cx="647.0" cy="263.2" r="3.15"/><circle cx="622.0" cy="232.5" r="3.15"/><circle cx="691.1" cy="213.5" r="3.15"/><circle cx="758.0" cy="220.4" r="3.15"/><circle cx="724.8" cy="284.2" r="3.15"/><circle cx="800.2" cy="207.0" r="3.15"/><circle cx="807.5" cy="303.2" r="3.15"/><circle cx="754.9" cy="265.3" r="3.15"/><circle cx="784.6" cy="218.9" r="3.15"/><circle cx="768.9" cy="231.6" r="3.15"/><circle cx="720.1" cy="297.9" r="3.15"/><circle cx="625.8" cy="285.9" r="3.15"/><circle cx="580.6" cy="256.6" r="3.15"/><circle cx="676.6" cy="214.3" r="3.15"/><circle cx="680.7" cy="264.3" r="3.15"/><circle cx="682.8" cy="220.8" r="3.15"/><circle cx="709.1" cy="229.0" r="3.15"/><circle cx="834.4" cy="270.4" r="3.15"/><circle cx="740.1" cy="284.7" r="3.15"/><circle cx="745.2" cy="237.3" r="3.15"/><circle cx="985.3" cy="296.2" r="3.15"/><circle cx="689.7" cy="267.6" r="3.15"/><circle cx="777.0" cy="249.1" r="3.15"/><circle cx="829.3" cy="237.0" r="3.15"/><circle cx="663.4" cy="294.9" r="3.15"/><circle cx="742.1" cy="290.4" r="3.15"/><circle cx="654.5" cy="304.2" r="3.15"/><circle cx="901.9" cy="246.8" r="3.15"/><circle cx="677.1" cy="259.0" r="3.15"/><circle cx="672.3" cy="248.9" r="3.15"/><circle cx="711.6" cy="225.6" r="3.15"/><circle cx="640.5" cy="213.1" r="3.15"/><circle cx="714.9" cy="294.3" r="3.15"/><circle cx="788.7" cy="244.0" r="3.15"/><circle cx="735.9" cy="289.1" r="3.15"/><circle cx="688.7" cy="297.2" r="3.15"/><circle cx="636.4" cy="294.6" r="3.15"/><circle cx="672.3" cy="295.0" r="3.15"/><circle cx="655.7" cy="225.0" r="3.15"/><circle cx="638.5" cy="303.8" r="3.15"/><circle cx="656.3" cy="228.2" r="3.15"/><circle cx="680.2" cy="218.1" r="3.15"/><circle cx="633.7" cy="275.1" r="3.15"/><circle cx="668.5" cy="273.1" r="3.15"/><circle cx="648.9" cy="304.8" r="3.15"/><circle cx="653.9" cy="277.1" r="3.15"/><circle cx="629.4" cy="291.5" r="3.15"/><circle cx="763.1" cy="265.8" r="3.15"/><circle cx="933.2" cy="227.4" r="3.15"/><circle cx="797.2" cy="268.3" r="3.15"/><circle cx="652.1" cy="282.7" r="3.15"/><circle cx="650.8" cy="229.0" r="3.15"/><circle cx="673.9" cy="295.1" r="3.15"/><circle cx="730.8" cy="262.3" r="3.15"/><circle cx="623.5" cy="225.1" r="3.15"/><circle cx="665.7" cy="247.7" r="3.15"/><circle cx="648.9" cy="281.7" r="3.15"/><circle cx="669.0" cy="274.9" r="3.15"/><circle cx="1034.9" cy="260.2" r="3.15"/><circle cx="653.9" cy="226.9" r="3.15"/><circle cx="697.2" cy="236.9" r="3.15"/><circle cx="707.0" cy="235.7" r="3.15"/><circle cx="683.8" cy="230.0" r="3.15"/><circle cx="637.1" cy="265.5" r="3.15"/><circle cx="673.9" cy="262.0" r="3.15"/><circle cx="649.6" cy="220.0" r="3.15"/><circle cx="432.5" cy="272.4" r="3.15"/><circle cx="628.7" cy="288.4" r="3.15"/><circle cx="789.9" cy="278.9" r="3.15"/><circle cx="707.0" cy="288.2" r="3.15"/><circle cx="742.5" cy="292.7" r="3.15"/><circle cx="648.9" cy="304.4" r="3.15"/><circle cx="688.7" cy="255.3" r="3.15"/><circle cx="747.1" cy="230.5" r="3.15"/><circle cx="658.7" cy="286.9" r="3.15"/><circle cx="684.3" cy="267.7" r="3.15"/><circle cx="793.1" cy="303.1" r="3.15"/><circle cx="647.7" cy="293.7" r="3.15"/><circle cx="655.1" cy="299.7" r="3.15"/><circle cx="715.7" cy="222.5" r="3.15"/><circle cx="638.5" cy="221.2" r="3.15"/><circle cx="1032.3" cy="249.1" r="3.15"/><circle cx="748.1" cy="267.5" r="3.15"/><circle cx="680.7" cy="239.5" r="3.15"/><circle cx="760.4" cy="231.4" r="3.15"/><circle cx="692.5" cy="229.9" r="3.15"/><circle cx="877.1" cy="292.2" r="3.15"/><circle cx="928.7" cy="251.4" r="3.15"/><circle cx="690.6" cy="249.6" r="3.15"/><circle cx="661.7" cy="287.9" r="3.15"/><circle cx="674.5" cy="233.7" r="3.15"/><circle cx="675.0" cy="217.0" r="3.15"/><circle cx="656.9" cy="254.3" r="3.15"/><circle cx="841.2" cy="280.3" r="3.15"/><circle cx="721.3" cy="212.7" r="3.15"/><circle cx="689.2" cy="267.3" r="3.15"/><circle cx="667.9" cy="241.2" r="3.15"/><circle cx="546.2" cy="232.4" r="3.15"/><circle cx="656.9" cy="300.0" r="3.15"/><circle cx="648.9" cy="260.7" r="3.15"/><circle cx="622.0" cy="273.9" r="3.15"/><circle cx="623.5" cy="304.2" r="3.15"/><circle cx="1011.4" cy="248.5" r="3.15"/><circle cx="1060.4" cy="218.4" r="3.15"/><circle cx="639.2" cy="295.6" r="3.15"/><circle cx="918.9" cy="259.8" r="3.15"/><circle cx="647.7" cy="230.2" r="3.15"/><circle cx="902.0" cy="279.9" r="3.15"/><circle cx="649.6" cy="237.9" r="3.15"/><circle cx="834.9" cy="207.6" r="3.15"/><circle cx="694.4" cy="304.9" r="3.15"/><circle cx="782.8" cy="287.9" r="3.15"/><circle cx="629.4" cy="298.7" r="3.15"/><circle cx="699.5" cy="300.1" r="3.15"/><circle cx="631.6" cy="206.7" r="3.15"/><circle cx="973.0" cy="247.9" r="3.15"/><circle cx="940.9" cy="243.8" r="3.15"/><circle cx="663.4" cy="214.3" r="3.15"/><circle cx="730.4" cy="284.6" r="3.15"/><circle cx="686.3" cy="207.6" r="3.15"/><circle cx="708.3" cy="299.8" r="3.15"/><circle cx="1000.1" cy="224.5" r="3.15"/><circle cx="635.1" cy="280.3" r="3.15"/><circle cx="805.9" cy="269.9" r="3.15"/><circle cx="661.1" cy="255.5" r="3.15"/><circle cx="734.1" cy="207.8" r="3.15"/><circle cx="805.7" cy="304.7" r="3.15"/><circle cx="819.2" cy="262.6" r="3.15"/><circle cx="845.1" cy="258.1" r="3.15"/><circle cx="636.4" cy="232.1" r="3.15"/><circle cx="631.6" cy="263.2" r="3.15"/><circle cx="682.8" cy="301.4" r="3.15"/><circle cx="709.5" cy="229.5" r="3.15"/><circle cx="889.2" cy="255.1" r="3.15"/><circle cx="539.8" cy="299.5" r="3.15"/><circle cx="693.0" cy="276.6" r="3.15"/><circle cx="804.4" cy="262.9" r="3.15"/><circle cx="669.0" cy="207.7" r="3.15"/><circle cx="711.6" cy="246.4" r="3.15"/><circle cx="825.4" cy="261.4" r="3.15"/><circle cx="699.9" cy="215.2" r="3.15"/><circle cx="783.1" cy="242.3" r="3.15"/><circle cx="689.2" cy="284.0" r="3.15"/><circle cx="695.8" cy="240.9" r="3.15"/><circle cx="647.0" cy="207.5" r="3.15"/><circle cx="805.0" cy="289.0" r="3.15"/><circle cx="953.0" cy="234.3" r="3.15"/><circle cx="870.4" cy="225.6" r="3.15"/><circle cx="763.1" cy="290.8" r="3.15"/><circle cx="627.2" cy="295.0" r="3.15"/><circle cx="719.8" cy="255.5" r="3.15"/><circle cx="739.7" cy="297.4" r="3.15"/><circle cx="678.1" cy="257.9" r="3.15"/><circle cx="672.3" cy="240.2" r="3.15"/><circle cx="747.5" cy="284.5" r="3.15"/><circle cx="706.5" cy="281.6" r="3.15"/><circle cx="688.7" cy="219.9" r="3.15"/><circle cx="650.2" cy="216.6" r="3.15"/><circle cx="666.8" cy="303.7" r="3.15"/><circle cx="853.5" cy="233.1" r="3.15"/><circle cx="673.9" cy="288.2" r="3.15"/><circle cx="671.2" cy="232.2" r="3.15"/><circle cx="652.1" cy="242.7" r="3.15"/><circle cx="742.5" cy="276.2" r="3.15"/><circle cx="761.0" cy="248.0" r="3.15"/><circle cx="656.3" cy="290.5" r="3.15"/><circle cx="780.7" cy="210.6" r="3.15"/><circle cx="724.4" cy="289.5" r="3.15"/><circle cx="624.3" cy="221.2" r="3.15"/><circle cx="694.0" cy="222.7" r="3.15"/><circle cx="800.7" cy="300.0" r="3.15"/><circle cx="805.9" cy="302.4" r="3.15"/><circle cx="698.1" cy="277.2" r="3.15"/><circle cx="709.5" cy="234.3" r="3.15"/><circle cx="759.5" cy="261.8" r="3.15"/><circle cx="783.3" cy="242.2" r="3.15"/><circle cx="727.8" cy="287.0" r="3.15"/><circle cx="714.1" cy="286.2" r="3.15"/><circle cx="696.7" cy="256.7" r="3.15"/><circle cx="824.4" cy="281.6" r="3.15"/><circle cx="766.0" cy="238.5" r="3.15"/><circle cx="690.2" cy="284.1" r="3.15"/><circle cx="669.0" cy="276.4" r="3.15"/><circle cx="715.7" cy="287.8" r="3.15"/><circle cx="682.3" cy="227.8" r="3.15"/><circle cx="628.0" cy="233.2" r="3.15"/><circle cx="701.7" cy="208.9" r="3.15"/><circle cx="670.7" cy="213.6" r="3.15"/><circle cx="667.4" cy="284.3" r="3.15"/><circle cx="693.5" cy="226.7" r="3.15"/><circle cx="648.9" cy="255.8" r="3.15"/><circle cx="781.2" cy="294.8" r="3.15"/><circle cx="622.0" cy="255.0" r="3.15"/><circle cx="673.9" cy="215.0" r="3.15"/><circle cx="637.8" cy="231.7" r="3.15"/><circle cx="886.4" cy="262.8" r="3.15"/><circle cx="903.6" cy="227.5" r="3.15"/><circle cx="631.6" cy="225.5" r="3.15"/><circle cx="629.4" cy="235.0" r="3.15"/><circle cx="677.1" cy="292.6" r="3.15"/><circle cx="673.9" cy="271.3" r="3.15"/><circle cx="658.7" cy="270.6" r="3.15"/><circle cx="1010.7" cy="293.0" r="3.15"/><circle cx="735.5" cy="207.5" r="3.15"/><circle cx="714.1" cy="299.3" r="3.15"/><circle cx="681.7" cy="217.4" r="3.15"/><circle cx="772.0" cy="210.4" r="3.15"/><circle cx="725.9" cy="275.1" r="3.15"/><circle cx="639.8" cy="270.3" r="3.15"/><circle cx="643.8" cy="252.7" r="3.15"/><circle cx="768.3" cy="250.0" r="3.15"/><circle cx="819.0" cy="295.9" r="3.15"/><circle cx="738.3" cy="292.2" r="3.15"/><circle cx="760.1" cy="212.3" r="3.15"/><circle cx="1019.3" cy="206.6" r="3.15"/><circle cx="972.9" cy="234.6" r="3.15"/><circle cx="628.7" cy="250.2" r="3.15"/><circle cx="811.0" cy="251.4" r="3.15"/><circle cx="771.7" cy="209.9" r="3.15"/><circle cx="643.8" cy="249.0" r="3.15"/><circle cx="477.9" cy="235.4" r="3.15"/><circle cx="1016.0" cy="267.7" r="3.15"/><circle cx="672.8" cy="290.3" r="3.15"/><circle cx="824.8" cy="260.9" r="3.15"/><circle cx="656.3" cy="295.1" r="3.15"/><circle cx="681.7" cy="238.2" r="3.15"/><circle cx="630.1" cy="273.8" r="3.15"/><circle cx="749.4" cy="285.6" r="3.15"/><circle cx="651.4" cy="225.5" r="3.15"/><circle cx="804.8" cy="291.1" r="3.15"/><circle cx="625.0" cy="253.2" r="3.15"/><circle cx="643.8" cy="295.6" r="3.15"/><circle cx="715.7" cy="248.6" r="3.15"/><circle cx="711.2" cy="303.8" r="3.15"/><circle cx="862.6" cy="233.9" r="3.15"/><circle cx="719.4" cy="274.4" r="3.15"/><circle cx="703.5" cy="234.3" r="3.15"/><circle cx="688.2" cy="263.4" r="3.15"/><circle cx="632.3" cy="233.2" r="3.15"/><circle cx="679.2" cy="265.8" r="3.15"/><circle cx="647.0" cy="223.1" r="3.15"/><circle cx="754.2" cy="255.7" r="3.15"/><circle cx="687.2" cy="293.0" r="3.15"/><circle cx="662.2" cy="288.3" r="3.15"/><circle cx="644.5" cy="213.5" r="3.15"/><circle cx="708.7" cy="209.9" r="3.15"/><circle cx="990.9" cy="260.9" r="3.15"/><circle cx="805.5" cy="209.2" r="3.15"/><circle cx="793.6" cy="274.1" r="3.15"/><circle cx="729.0" cy="209.4" r="3.15"/><circle cx="718.2" cy="288.6" r="3.15"/><circle cx="635.7" cy="295.8" r="3.15"/><circle cx="467.8" cy="222.5" r="3.15"/><circle cx="710.0" cy="214.2" r="3.15"/><circle cx="725.2" cy="289.6" r="3.15"/><circle cx="641.2" cy="241.2" r="3.15"/><circle cx="697.2" cy="227.9" r="3.15"/><circle cx="763.7" cy="291.6" r="3.15"/><circle cx="668.5" cy="225.9" r="3.15"/><circle cx="712.5" cy="224.2" r="3.15"/><circle cx="873.0" cy="239.5" r="3.15"/><circle cx="483.7" cy="247.4" r="3.15"/><circle cx="730.1" cy="280.2" r="3.15"/><circle cx="713.3" cy="269.5" r="3.15"/><circle cx="769.2" cy="249.9" r="3.15"/><circle cx="819.6" cy="304.9" r="3.15"/><circle cx="733.4" cy="270.0" r="3.15"/><circle cx="677.6" cy="300.6" r="3.15"/><circle cx="634.4" cy="282.5" r="3.15"/><circle cx="742.8" cy="232.5" r="3.15"/><circle cx="759.2" cy="255.7" r="3.15"/><circle cx="628.7" cy="304.4" r="3.15"/><circle cx="662.8" cy="249.4" r="3.15"/><circle cx="785.9" cy="240.3" r="3.15"/><circle cx="753.9" cy="247.9" r="3.15"/><circle cx="711.2" cy="278.6" r="3.15"/><circle cx="728.2" cy="293.4" r="3.15"/><circle cx="447.6" cy="222.4" r="3.15"/><circle cx="929.8" cy="282.6" r="3.15"/><circle cx="630.1" cy="230.5" r="3.15"/><circle cx="653.9" cy="254.7" r="3.15"/><circle cx="675.5" cy="219.8" r="3.15"/><circle cx="704.8" cy="265.4" r="3.15"/><circle cx="506.4" cy="292.4" r="3.15"/><circle cx="631.6" cy="266.0" r="3.15"/><circle cx="523.3" cy="272.0" r="3.15"/><circle cx="753.0" cy="293.0" r="3.15"/><circle cx="663.4" cy="287.8" r="3.15"/><circle cx="624.3" cy="215.7" r="3.15"/><circle cx="734.8" cy="270.5" r="3.15"/><circle cx="720.1" cy="275.3" r="3.15"/><circle cx="939.7" cy="259.9" r="3.15"/><circle cx="679.7" cy="218.5" r="3.15"/><circle cx="673.4" cy="251.1" r="3.15"/><circle cx="531.8" cy="267.4" r="3.15"/><circle cx="816.9" cy="272.8" r="3.15"/><circle cx="494.6" cy="285.5" r="3.15"/><circle cx="717.4" cy="268.8" r="3.15"/><circle cx="715.7" cy="228.4" r="3.15"/><circle cx="647.7" cy="300.8" r="3.15"/><circle cx="642.5" cy="304.5" r="3.15"/><circle cx="700.8" cy="291.9" r="3.15"/><circle cx="629.4" cy="261.9" r="3.15"/><circle cx="936.8" cy="236.6" r="3.15"/><circle cx="646.4" cy="281.9" r="3.15"/><circle cx="735.1" cy="231.1" r="3.15"/><circle cx="461.4" cy="253.2" r="3.15"/><circle cx="630.8" cy="231.3" r="3.15"/><circle cx="649.6" cy="232.6" r="3.15"/><circle cx="646.4" cy="252.8" r="3.15"/><circle cx="728.2" cy="291.1" r="3.15"/><circle cx="705.2" cy="232.7" r="3.15"/><circle cx="679.2" cy="223.3" r="3.15"/><circle cx="912.7" cy="208.3" r="3.15"/><circle cx="704.4" cy="255.2" r="3.15"/><circle cx="655.7" cy="261.1" r="3.15"/><circle cx="623.5" cy="282.9" r="3.15"/><circle cx="959.1" cy="278.2" r="3.15"/><circle cx="665.7" cy="252.2" r="3.15"/><circle cx="760.1" cy="259.7" r="3.15"/><circle cx="800.7" cy="263.5" r="3.15"/><circle cx="644.5" cy="237.8" r="3.15"/><circle cx="648.3" cy="264.2" r="3.15"/><circle cx="655.1" cy="208.2" r="3.15"/><circle cx="671.2" cy="282.5" r="3.15"/><circle cx="691.1" cy="210.6" r="3.15"/><circle cx="626.5" cy="233.9" r="3.15"/><circle cx="693.5" cy="253.6" r="3.15"/><circle cx="638.5" cy="238.7" r="3.15"/><circle cx="685.8" cy="284.9" r="3.15"/><circle cx="640.5" cy="282.6" r="3.15"/><circle cx="704.8" cy="266.3" r="3.15"/><circle cx="703.1" cy="301.2" r="3.15"/><circle cx="665.7" cy="260.0" r="3.15"/><circle cx="795.5" cy="303.0" r="3.15"/><circle cx="801.2" cy="294.5" r="3.15"/><circle cx="828.5" cy="223.7" r="3.15"/><circle cx="731.2" cy="217.3" r="3.15"/><circle cx="1056.5" cy="281.9" r="3.15"/><circle cx="494.6" cy="228.5" r="3.15"/><circle cx="673.9" cy="210.0" r="3.15"/><circle cx="937.1" cy="214.5" r="3.15"/><circle cx="689.2" cy="218.7" r="3.15"/><circle cx="742.1" cy="254.2" r="3.15"/><circle cx="727.5" cy="246.8" r="3.15"/><circle cx="624.3" cy="277.9" r="3.15"/><circle cx="679.7" cy="222.3" r="3.15"/><circle cx="1071.1" cy="263.1" r="3.15"/><circle cx="743.1" cy="253.5" r="3.15"/><circle cx="539.8" cy="249.9" r="3.15"/><circle cx="658.7" cy="208.5" r="3.15"/><circle cx="678.1" cy="284.5" r="3.15"/><circle cx="452.3" cy="296.2" r="3.15"/><circle cx="748.1" cy="252.3" r="3.15"/><circle cx="689.2" cy="226.6" r="3.15"/><circle cx="729.0" cy="212.4" r="3.15"/><circle cx="702.2" cy="288.4" r="3.15"/><circle cx="931.8" cy="294.8" r="3.15"/><circle cx="935.9" cy="275.2" r="3.15"/><circle cx="714.1" cy="266.9" r="3.15"/><circle cx="677.1" cy="298.3" r="3.15"/><circle cx="699.5" cy="224.4" r="3.15"/><circle cx="739.7" cy="285.4" r="3.15"/><circle cx="764.0" cy="265.4" r="3.15"/><circle cx="664.5" cy="249.1" r="3.15"/><circle cx="679.7" cy="228.8" r="3.15"/><circle cx="1048.3" cy="216.6" r="3.15"/><circle cx="649.6" cy="293.5" r="3.15"/><circle cx="966.1" cy="296.7" r="3.15"/><circle cx="750.1" cy="259.9" r="3.15"/><circle cx="630.8" cy="242.1" r="3.15"/><circle cx="742.5" cy="246.2" r="3.15"/><circle cx="785.9" cy="249.5" r="3.15"/><circle cx="705.7" cy="297.0" r="3.15"/><circle cx="690.2" cy="269.4" r="3.15"/><circle cx="694.0" cy="266.9" r="3.15"/><circle cx="639.8" cy="296.1" r="3.15"/><circle cx="749.8" cy="290.1" r="3.15"/><circle cx="701.3" cy="285.2" r="3.15"/><circle cx="725.2" cy="216.0" r="3.15"/><circle cx="788.9" cy="213.3" r="3.15"/><circle cx="694.4" cy="278.7" r="3.15"/><circle cx="817.3" cy="222.8" r="3.15"/><circle cx="628.7" cy="298.1" r="3.15"/><circle cx="657.5" cy="242.3" r="3.15"/><circle cx="1083.0" cy="215.1" r="3.15"/><circle cx="698.6" cy="225.5" r="3.15"/><circle cx="677.6" cy="228.9" r="3.15"/><circle cx="666.8" cy="226.6" r="3.15"/><circle cx="713.7" cy="243.5" r="3.15"/><circle cx="678.7" cy="212.4" r="3.15"/><circle cx="886.0" cy="277.2" r="3.15"/><circle cx="822.0" cy="255.2" r="3.15"/><circle cx="960.3" cy="229.5" r="3.15"/><circle cx="678.1" cy="240.1" r="3.15"/><circle cx="735.9" cy="241.2" r="3.15"/><circle cx="724.0" cy="275.9" r="3.15"/><circle cx="709.5" cy="288.4" r="3.15"/><circle cx="724.4" cy="257.5" r="3.15"/><circle cx="708.3" cy="250.8" r="3.15"/><circle cx="692.5" cy="295.0" r="3.15"/><circle cx="747.1" cy="263.1" r="3.15"/><circle cx="623.5" cy="231.8" r="3.15"/><circle cx="788.9" cy="247.4" r="3.15"/><circle cx="669.0" cy="302.6" r="3.15"/><circle cx="663.4" cy="239.1" r="3.15"/><circle cx="461.4" cy="229.4" r="3.15"/><circle cx="645.7" cy="243.4" r="3.15"/><circle cx="651.4" cy="215.6" r="3.15"/><circle cx="650.2" cy="271.5" r="3.15"/><circle cx="628.7" cy="243.4" r="3.15"/><circle cx="694.9" cy="260.0" r="3.15"/><circle cx="691.1" cy="221.2" r="3.15"/><circle cx="820.6" cy="245.0" r="3.15"/><circle cx="916.8" cy="299.9" r="3.15"/><circle cx="702.2" cy="258.6" r="3.15"/><circle cx="734.8" cy="237.9" r="3.15"/><circle cx="773.7" cy="249.0" r="3.15"/><circle cx="945.5" cy="207.5" r="3.15"/><circle cx="675.0" cy="283.4" r="3.15"/><circle cx="784.9" cy="228.5" r="3.15"/><circle cx="789.4" cy="236.4" r="3.15"/><circle cx="645.1" cy="297.1" r="3.15"/><circle cx="718.6" cy="274.3" r="3.15"/><circle cx="622.0" cy="254.9" r="3.15"/><circle cx="779.7" cy="288.3" r="3.15"/><circle cx="731.2" cy="214.7" r="3.15"/><circle cx="630.1" cy="230.9" r="3.15"/><circle cx="669.0" cy="261.1" r="3.15"/><circle cx="780.4" cy="209.9" r="3.15"/><circle cx="674.5" cy="255.9" r="3.15"/><circle cx="733.7" cy="299.8" r="3.15"/><circle cx="812.1" cy="210.8" r="3.15"/><circle cx="722.5" cy="216.1" r="3.15"/><circle cx="653.3" cy="222.5" r="3.15"/><circle cx="666.2" cy="210.7" r="3.15"/><circle cx="637.8" cy="249.0" r="3.15"/><circle cx="635.7" cy="230.5" r="3.15"/><circle cx="648.3" cy="238.2" r="3.15"/><circle cx="700.8" cy="214.5" r="3.15"/><circle cx="864.5" cy="232.7" r="3.15"/><circle cx="661.7" cy="294.9" r="3.15"/><circle cx="753.6" cy="302.7" r="3.15"/><circle cx="777.2" cy="216.2" r="3.15"/><circle cx="835.1" cy="226.2" r="3.15"/><circle cx="708.3" cy="268.0" r="3.15"/><circle cx="766.6" cy="272.5" r="3.15"/><circle cx="627.2" cy="217.7" r="3.15"/><circle cx="667.9" cy="224.3" r="3.15"/><circle cx="730.1" cy="206.9" r="3.15"/><circle cx="772.0" cy="269.4" r="3.15"/><circle cx="770.6" cy="220.9" r="3.15"/><circle cx="1017.1" cy="298.9" r="3.15"/><circle cx="834.7" cy="262.7" r="3.15"/><circle cx="655.1" cy="291.7" r="3.15"/><circle cx="819.0" cy="280.7" r="3.15"/><circle cx="702.6" cy="254.5" r="3.15"/><circle cx="733.0" cy="229.0" r="3.15"/><circle cx="765.7" cy="215.9" r="3.15"/><circle cx="826.6" cy="267.5" r="3.15"/><circle cx="669.0" cy="222.4" r="3.15"/><circle cx="664.0" cy="255.4" r="3.15"/><circle cx="684.3" cy="272.2" r="3.15"/><circle cx="892.2" cy="285.4" r="3.15"/><circle cx="668.5" cy="233.4" r="3.15"/><circle cx="758.0" cy="214.1" r="3.15"/><circle cx="953.2" cy="260.4" r="3.15"/><circle cx="675.5" cy="288.9" r="3.15"/><circle cx="744.2" cy="209.8" r="3.15"/><circle cx="1051.5" cy="297.5" r="3.15"/><circle cx="653.9" cy="218.2" r="3.15"/><circle cx="719.4" cy="255.4" r="3.15"/><circle cx="757.3" cy="300.9" r="3.15"/><circle cx="717.8" cy="259.1" r="3.15"/><circle cx="677.6" cy="273.3" r="3.15"/><circle cx="850.3" cy="285.7" r="3.15"/><circle cx="714.9" cy="207.4" r="3.15"/><circle cx="956.3" cy="224.1" r="3.15"/><circle cx="634.4" cy="216.6" r="3.15"/><circle cx="649.6" cy="290.0" r="3.15"/><circle cx="629.4" cy="254.9" r="3.15"/><circle cx="678.7" cy="248.2" r="3.15"/><circle cx="764.0" cy="254.5" r="3.15"/><circle cx="677.6" cy="295.1" r="3.15"/><circle cx="518.9" cy="259.1" r="3.15"/><circle cx="761.0" cy="262.1" r="3.15"/><circle cx="689.2" cy="275.1" r="3.15"/><circle cx="877.4" cy="218.2" r="3.15"/><circle cx="667.4" cy="242.9" r="3.15"/><circle cx="652.1" cy="273.2" r="3.15"/><circle cx="741.8" cy="286.0" r="3.15"/><circle cx="705.2" cy="207.7" r="3.15"/><circle cx="669.0" cy="287.9" r="3.15"/><circle cx="694.0" cy="252.4" r="3.15"/><circle cx="686.3" cy="250.5" r="3.15"/><circle cx="742.8" cy="250.3" r="3.15"/><circle cx="688.2" cy="302.7" r="3.15"/><circle cx="751.7" cy="258.1" r="3.15"/><circle cx="473.9" cy="254.3" r="3.15"/><circle cx="650.8" cy="261.1" r="3.15"/><circle cx="659.3" cy="233.7" r="3.15"/><circle cx="625.8" cy="224.1" r="3.15"/><circle cx="755.5" cy="207.6" r="3.15"/><circle cx="777.5" cy="273.1" r="3.15"/><circle cx="641.2" cy="211.3" r="3.15"/><circle cx="793.8" cy="242.5" r="3.15"/><circle cx="634.4" cy="255.3" r="3.15"/><circle cx="687.7" cy="258.5" r="3.15"/><circle cx="715.3" cy="294.3" r="3.15"/><circle cx="1016.5" cy="292.8" r="3.15"/><circle cx="622.8" cy="300.0" r="3.15"/><circle cx="745.2" cy="275.7" r="3.15"/><circle cx="875.6" cy="264.3" r="3.15"/><circle cx="631.6" cy="230.2" r="3.15"/><circle cx="682.3" cy="254.5" r="3.15"/><circle cx="628.7" cy="301.4" r="3.15"/><circle cx="650.2" cy="284.2" r="3.15"/><circle cx="632.3" cy="291.7" r="3.15"/><circle cx="646.4" cy="212.1" r="3.15"/><circle cx="649.6" cy="234.4" r="3.15"/><circle cx="563.8" cy="248.7" r="3.15"/><circle cx="661.1" cy="294.0" r="3.15"/><circle cx="632.3" cy="220.0" r="3.15"/><circle cx="863.4" cy="243.0" r="3.15"/><circle cx="807.0" cy="222.2" r="3.15"/><circle cx="828.7" cy="300.5" r="3.15"/><circle cx="670.7" cy="285.9" r="3.15"/><circle cx="720.5" cy="264.4" r="3.15"/><circle cx="774.5" cy="260.0" r="3.15"/><circle cx="804.8" cy="270.8" r="3.15"/><circle cx="739.7" cy="280.8" r="3.15"/><circle cx="645.1" cy="230.9" r="3.15"/><circle cx="625.0" cy="220.9" r="3.15"/><circle cx="653.9" cy="261.9" r="3.15"/><circle cx="727.5" cy="224.0" r="3.15"/><circle cx="732.3" cy="304.9" r="3.15"/><circle cx="623.5" cy="266.6" r="3.15"/><circle cx="624.3" cy="298.0" r="3.15"/><circle cx="672.3" cy="235.4" r="3.15"/><circle cx="686.7" cy="304.7" r="3.15"/><circle cx="728.2" cy="269.3" r="3.15"/><circle cx="714.9" cy="257.3" r="3.15"/><circle cx="802.5" cy="283.1" r="3.15"/><circle cx="653.9" cy="210.8" r="3.15"/><circle cx="865.5" cy="265.1" r="3.15"/><circle cx="645.1" cy="299.7" r="3.15"/><circle cx="632.3" cy="210.9" r="3.15"/><circle cx="704.4" cy="281.2" r="3.15"/><circle cx="633.0" cy="268.8" r="3.15"/><circle cx="611.9" cy="232.1" r="3.15"/><circle cx="630.8" cy="277.2" r="3.15"/><circle cx="652.1" cy="291.6" r="3.15"/><circle cx="706.5" cy="218.3" r="3.15"/><circle cx="745.5" cy="254.1" r="3.15"/><circle cx="748.5" cy="285.8" r="3.15"/><circle cx="465.7" cy="237.9" r="3.15"/><circle cx="690.2" cy="276.5" r="3.15"/><circle cx="738.3" cy="295.1" r="3.15"/><circle cx="1010.7" cy="207.0" r="3.15"/><circle cx="832.1" cy="252.8" r="3.15"/><circle cx="780.4" cy="218.4" r="3.15"/><circle cx="686.7" cy="227.4" r="3.15"/><circle cx="810.8" cy="264.4" r="3.15"/><circle cx="672.3" cy="268.6" r="3.15"/><circle cx="795.1" cy="222.9" r="3.15"/><circle cx="625.8" cy="275.1" r="3.15"/><circle cx="649.6" cy="270.4" r="3.15"/><circle cx="699.9" cy="291.2" r="3.15"/><circle cx="1084.8" cy="234.6" r="3.15"/><circle cx="797.2" cy="280.8" r="3.15"/><circle cx="660.5" cy="282.5" r="3.15"/><circle cx="635.7" cy="280.5" r="3.15"/><circle cx="675.0" cy="253.4" r="3.15"/><circle cx="639.2" cy="215.9" r="3.15"/><circle cx="706.5" cy="284.2" r="3.15"/><circle cx="774.8" cy="223.8" r="3.15"/><circle cx="636.4" cy="232.7" r="3.15"/><circle cx="645.7" cy="214.9" r="3.15"/><circle cx="624.3" cy="276.5" r="3.15"/><circle cx="763.7" cy="297.6" r="3.15"/><circle cx="655.1" cy="242.7" r="3.15"/><circle cx="710.0" cy="303.1" r="3.15"/><circle cx="658.7" cy="246.8" r="3.15"/><circle cx="726.7" cy="253.4" r="3.15"/><circle cx="819.0" cy="279.9" r="3.15"/><circle cx="747.5" cy="282.6" r="3.15"/><circle cx="778.9" cy="272.9" r="3.15"/><circle cx="783.6" cy="286.8" r="3.15"/><circle cx="567.1" cy="292.9" r="3.15"/><circle cx="645.1" cy="281.8" r="3.15"/><circle cx="807.3" cy="220.4" r="3.15"/><circle cx="642.5" cy="213.3" r="3.15"/><circle cx="629.4" cy="269.3" r="3.15"/><circle cx="735.9" cy="225.5" r="3.15"/><circle cx="769.2" cy="235.0" r="3.15"/><circle cx="596.6" cy="235.1" r="3.15"/><circle cx="733.4" cy="246.4" r="3.15"/><circle cx="656.3" cy="259.3" r="3.15"/><circle cx="897.1" cy="222.0" r="3.15"/><circle cx="870.8" cy="262.4" r="3.15"/><circle cx="701.3" cy="275.9" r="3.15"/><circle cx="803.9" cy="275.9" r="3.15"/><circle cx="736.6" cy="214.6" r="3.15"/><circle cx="624.3" cy="224.5" r="3.15"/><circle cx="695.8" cy="278.1" r="3.15"/><circle cx="634.4" cy="233.3" r="3.15"/><circle cx="751.1" cy="298.1" r="3.15"/><circle cx="595.7" cy="286.0" r="3.15"/><circle cx="636.4" cy="245.9" r="3.15"/><circle cx="669.6" cy="210.2" r="3.15"/><circle cx="973.1" cy="224.7" r="3.15"/><circle cx="669.6" cy="270.9" r="3.15"/><circle cx="904.2" cy="216.6" r="3.15"/><circle cx="771.2" cy="267.7" r="3.15"/><circle cx="696.7" cy="295.5" r="3.15"/><circle cx="815.5" cy="240.7" r="3.15"/><circle cx="774.2" cy="273.3" r="3.15"/><circle cx="676.6" cy="228.4" r="3.15"/><circle cx="731.5" cy="281.1" r="3.15"/><circle cx="652.1" cy="220.4" r="3.15"/><circle cx="740.1" cy="257.8" r="3.15"/><circle cx="767.2" cy="297.7" r="3.15"/><circle cx="706.1" cy="245.1" r="3.15"/><circle cx="651.4" cy="225.2" r="3.15"/><circle cx="727.8" cy="239.2" r="3.15"/><circle cx="728.6" cy="264.5" r="3.15"/><circle cx="695.4" cy="291.2" r="3.15"/><circle cx="675.5" cy="263.6" r="3.15"/><circle cx="639.2" cy="231.9" r="3.15"/><circle cx="767.8" cy="215.2" r="3.15"/><circle cx="665.7" cy="240.4" r="3.15"/><circle cx="734.1" cy="280.8" r="3.15"/><circle cx="637.8" cy="280.5" r="3.15"/><circle cx="770.9" cy="238.4" r="3.15"/><circle cx="649.6" cy="213.7" r="3.15"/><circle cx="658.1" cy="217.5" r="3.15"/><circle cx="647.0" cy="244.7" r="3.15"/><circle cx="804.1" cy="209.6" r="3.15"/><circle cx="650.2" cy="261.4" r="3.15"/><circle cx="703.1" cy="297.4" r="3.15"/><circle cx="688.7" cy="234.8" r="3.15"/><circle cx="671.2" cy="276.6" r="3.15"/><circle cx="708.7" cy="248.0" r="3.15"/><circle cx="786.7" cy="211.4" r="3.15"/><circle cx="752.0" cy="274.2" r="3.15"/><circle cx="796.3" cy="254.3" r="3.15"/><circle cx="689.2" cy="257.2" r="3.15"/><circle cx="465.7" cy="253.3" r="3.15"/><circle cx="810.3" cy="206.9" r="3.15"/><circle cx="718.6" cy="217.0" r="3.15"/><circle cx="662.8" cy="281.2" r="3.15"/><circle cx="788.9" cy="212.9" r="3.15"/><circle cx="701.7" cy="302.4" r="3.15"/><circle cx="534.5" cy="303.0" r="3.15"/><circle cx="777.5" cy="217.8" r="3.15"/><circle cx="689.7" cy="292.3" r="3.15"/><circle cx="682.3" cy="302.6" r="3.15"/><circle cx="700.8" cy="227.9" r="3.15"/><circle cx="739.0" cy="242.4" r="3.15"/><circle cx="935.3" cy="261.6" r="3.15"/><circle cx="658.7" cy="243.4" r="3.15"/><circle cx="707.0" cy="247.1" r="3.15"/><circle cx="744.2" cy="268.0" r="3.15"/><circle cx="842.6" cy="258.8" r="3.15"/><circle cx="852.6" cy="220.8" r="3.15"/><circle cx="655.7" cy="300.8" r="3.15"/><circle cx="623.5" cy="296.1" r="3.15"/><circle cx="637.8" cy="209.4" r="3.15"/><circle cx="787.9" cy="233.8" r="3.15"/><circle cx="633.7" cy="290.4" r="3.15"/><circle cx="729.7" cy="226.2" r="3.15"/><circle cx="801.9" cy="257.9" r="3.15"/><circle cx="792.1" cy="268.7" r="3.15"/><circle cx="718.6" cy="233.9" r="3.15"/><circle cx="760.7" cy="223.0" r="3.15"/><circle cx="774.8" cy="226.1" r="3.15"/><circle cx="832.7" cy="236.8" r="3.15"/><circle cx="659.9" cy="297.4" r="3.15"/><circle cx="694.0" cy="218.6" r="3.15"/><circle cx="440.2" cy="272.5" r="3.15"/><circle cx="702.6" cy="212.1" r="3.15"/><circle cx="775.6" cy="217.5" r="3.15"/><circle cx="1007.0" cy="247.5" r="3.15"/><circle cx="637.1" cy="212.9" r="3.15"/><circle cx="775.6" cy="245.0" r="3.15"/><circle cx="684.8" cy="252.9" r="3.15"/><circle cx="698.6" cy="240.4" r="3.15"/><circle cx="804.1" cy="272.9" r="3.15"/><circle cx="917.5" cy="221.1" r="3.15"/><circle cx="632.3" cy="279.1" r="3.15"/><circle cx="688.2" cy="282.2" r="3.15"/><circle cx="695.4" cy="225.7" r="3.15"/><circle cx="794.6" cy="299.8" r="3.15"/><circle cx="716.6" cy="217.4" r="3.15"/><circle cx="724.0" cy="295.6" r="3.15"/><circle cx="649.6" cy="296.6" r="3.15"/><circle cx="686.3" cy="219.0" r="3.15"/><circle cx="727.5" cy="287.3" r="3.15"/><circle cx="1026.6" cy="247.6" r="3.15"/><circle cx="697.2" cy="293.8" r="3.15"/><circle cx="706.5" cy="271.8" r="3.15"/><circle cx="643.8" cy="295.6" r="3.15"/><circle cx="829.3" cy="212.8" r="3.15"/><circle cx="662.8" cy="291.4" r="3.15"/><circle cx="703.1" cy="233.4" r="3.15"/><circle cx="762.8" cy="279.3" r="3.15"/><circle cx="663.4" cy="259.8" r="3.15"/><circle cx="706.1" cy="292.7" r="3.15"/><circle cx="792.6" cy="301.7" r="3.15"/><circle cx="639.2" cy="285.0" r="3.15"/><circle cx="720.5" cy="293.8" r="3.15"/><circle cx="733.0" cy="228.4" r="3.15"/><circle cx="662.2" cy="206.5" r="3.15"/><circle cx="710.4" cy="276.9" r="3.15"/><circle cx="663.4" cy="301.2" r="3.15"/><circle cx="687.2" cy="261.8" r="3.15"/><circle cx="622.8" cy="244.7" r="3.15"/><circle cx="671.8" cy="225.7" r="3.15"/><circle cx="682.8" cy="261.2" r="3.15"/><circle cx="905.9" cy="230.6" r="3.15"/><circle cx="691.6" cy="263.4" r="3.15"/><circle cx="678.1" cy="270.9" r="3.15"/><circle cx="623.5" cy="219.7" r="3.15"/><circle cx="772.9" cy="267.2" r="3.15"/><circle cx="683.3" cy="259.6" r="3.15"/><circle cx="703.5" cy="290.4" r="3.15"/><circle cx="648.3" cy="238.7" r="3.15"/><circle cx="583.6" cy="302.3" r="3.15"/><circle cx="644.5" cy="224.7" r="3.15"/><circle cx="694.4" cy="244.0" r="3.15"/><circle cx="763.1" cy="258.5" r="3.15"/><circle cx="816.1" cy="303.3" r="3.15"/><circle cx="652.1" cy="217.9" r="3.15"/><circle cx="691.1" cy="284.9" r="3.15"/><circle cx="675.0" cy="302.9" r="3.15"/><circle cx="805.5" cy="290.1" r="3.15"/><circle cx="780.4" cy="247.3" r="3.15"/><circle cx="639.8" cy="241.5" r="3.15"/><circle cx="809.9" cy="285.5" r="3.15"/><circle cx="839.1" cy="235.2" r="3.15"/><circle cx="667.9" cy="232.2" r="3.15"/><circle cx="614.3" cy="221.4" r="3.15"/><circle cx="637.1" cy="279.9" r="3.15"/><circle cx="651.4" cy="293.1" r="3.15"/><circle cx="631.6" cy="284.2" r="3.15"/><circle cx="687.7" cy="220.5" r="3.15"/><circle cx="762.2" cy="211.6" r="3.15"/><circle cx="765.7" cy="291.4" r="3.15"/><circle cx="679.7" cy="294.7" r="3.15"/><circle cx="689.7" cy="239.0" r="3.15"/><circle cx="980.9" cy="287.2" r="3.15"/><circle cx="1042.7" cy="257.0" r="3.15"/><circle cx="662.8" cy="252.0" r="3.15"/><circle cx="661.7" cy="207.1" r="3.15"/><circle cx="761.3" cy="228.5" r="3.15"/><circle cx="512.8" cy="296.4" r="3.15"/><circle cx="680.2" cy="285.6" r="3.15"/><circle cx="659.3" cy="231.1" r="3.15"/><circle cx="630.1" cy="252.6" r="3.15"/><circle cx="669.6" cy="250.4" r="3.15"/><circle cx="636.4" cy="249.4" r="3.15"/><circle cx="740.8" cy="261.6" r="3.15"/><circle cx="752.7" cy="249.3" r="3.15"/><circle cx="659.9" cy="284.2" r="3.15"/><circle cx="712.9" cy="221.7" r="3.15"/><circle cx="671.2" cy="268.6" r="3.15"/><circle cx="687.7" cy="279.9" r="3.15"/><circle cx="837.8" cy="265.3" r="3.15"/><circle cx="1032.7" cy="284.8" r="3.15"/><circle cx="622.0" cy="225.2" r="3.15"/><circle cx="822.2" cy="265.2" r="3.15"/><circle cx="661.7" cy="229.6" r="3.15"/><circle cx="808.6" cy="225.0" r="3.15"/><circle cx="775.1" cy="263.0" r="3.15"/><circle cx="740.4" cy="238.0" r="3.15"/><circle cx="720.5" cy="240.9" r="3.15"/><circle cx="850.3" cy="235.0" r="3.15"/><circle cx="719.0" cy="264.6" r="3.15"/><circle cx="681.7" cy="266.4" r="3.15"/><circle cx="718.2" cy="271.8" r="3.15"/><circle cx="712.9" cy="244.5" r="3.15"/><circle cx="664.0" cy="243.9" r="3.15"/><circle cx="622.0" cy="304.0" r="3.15"/><circle cx="833.8" cy="246.0" r="3.15"/><circle cx="641.8" cy="230.5" r="3.15"/><circle cx="635.1" cy="224.5" r="3.15"/><circle cx="761.6" cy="264.5" r="3.15"/><circle cx="656.9" cy="287.8" r="3.15"/><circle cx="684.3" cy="214.8" r="3.15"/><circle cx="689.2" cy="279.3" r="3.15"/><circle cx="862.2" cy="244.9" r="3.15"/><circle cx="739.4" cy="263.7" r="3.15"/><circle cx="943.2" cy="246.2" r="3.15"/><circle cx="951.8" cy="213.1" r="3.15"/><circle cx="662.8" cy="299.0" r="3.15"/><circle cx="887.5" cy="300.3" r="3.15"/><circle cx="681.2" cy="216.5" r="3.15"/><circle cx="676.0" cy="296.0" r="3.15"/><circle cx="796.5" cy="248.6" r="3.15"/><circle cx="768.6" cy="281.0" r="3.15"/><circle cx="652.1" cy="303.2" r="3.15"/><circle cx="743.1" cy="230.3" r="3.15"/><circle cx="650.8" cy="287.4" r="3.15"/><circle cx="637.1" cy="264.0" r="3.15"/><circle cx="1017.5" cy="296.4" r="3.15"/><circle cx="665.1" cy="236.7" r="3.15"/><circle cx="664.5" cy="273.0" r="3.15"/><circle cx="716.2" cy="286.8" r="3.15"/><circle cx="637.8" cy="255.7" r="3.15"/><circle cx="686.3" cy="299.6" r="3.15"/><circle cx="696.7" cy="240.6" r="3.15"/><circle cx="717.4" cy="213.0" r="3.15"/><circle cx="699.5" cy="255.8" r="3.15"/><circle cx="699.0" cy="207.0" r="3.15"/><circle cx="630.1" cy="213.2" r="3.15"/><circle cx="665.7" cy="208.0" r="3.15"/><circle cx="660.5" cy="231.9" r="3.15"/><circle cx="643.8" cy="304.0" r="3.15"/><circle cx="770.6" cy="217.1" r="3.15"/><circle cx="712.9" cy="248.4" r="3.15"/><circle cx="749.1" cy="266.6" r="3.15"/><circle cx="773.7" cy="265.3" r="3.15"/><circle cx="683.3" cy="269.6" r="3.15"/><circle cx="663.4" cy="212.7" r="3.15"/><circle cx="736.6" cy="269.6" r="3.15"/><circle cx="775.6" cy="257.3" r="3.15"/><circle cx="628.7" cy="255.6" r="3.15"/><circle cx="737.3" cy="277.2" r="3.15"/><circle cx="642.5" cy="262.8" r="3.15"/><circle cx="625.8" cy="302.5" r="3.15"/><circle cx="805.5" cy="212.0" r="3.15"/><circle cx="653.3" cy="286.3" r="3.15"/><circle cx="669.6" cy="245.1" r="3.15"/><circle cx="616.7" cy="245.5" r="3.15"/><circle cx="719.4" cy="301.8" r="3.15"/><circle cx="604.4" cy="283.4" r="3.15"/><circle cx="631.6" cy="285.7" r="3.15"/><circle cx="671.2" cy="248.5" r="3.15"/><circle cx="678.7" cy="294.0" r="3.15"/><circle cx="734.4" cy="288.8" r="3.15"/><circle cx="637.8" cy="249.9" r="3.15"/><circle cx="669.0" cy="224.8" r="3.15"/><circle cx="625.0" cy="282.8" r="3.15"/><circle cx="689.2" cy="226.9" r="3.15"/><circle cx="811.2" cy="295.9" r="3.15"/><circle cx="732.6" cy="298.1" r="3.15"/><circle cx="702.2" cy="287.4" r="3.15"/><circle cx="629.4" cy="278.8" r="3.15"/><circle cx="700.8" cy="268.1" r="3.15"/><circle cx="758.9" cy="282.2" r="3.15"/><circle cx="744.5" cy="206.7" r="3.15"/><circle cx="803.9" cy="258.4" r="3.15"/><circle cx="756.4" cy="273.8" r="3.15"/><circle cx="687.2" cy="224.5" r="3.15"/><circle cx="935.1" cy="219.9" r="3.15"/><circle cx="704.8" cy="264.3" r="3.15"/><circle cx="684.8" cy="293.6" r="3.15"/><circle cx="860.6" cy="254.7" r="3.15"/><circle cx="706.5" cy="253.8" r="3.15"/><circle cx="749.8" cy="288.7" r="3.15"/><circle cx="688.2" cy="283.9" r="3.15"/><circle cx="904.2" cy="298.6" r="3.15"/><circle cx="731.5" cy="253.2" r="3.15"/><circle cx="708.3" cy="280.5" r="3.15"/><circle cx="726.7" cy="257.8" r="3.15"/><circle cx="745.5" cy="271.4" r="3.15"/><circle cx="707.0" cy="207.6" r="3.15"/><circle cx="1050.0" cy="266.2" r="3.15"/><circle cx="647.0" cy="234.3" r="3.15"/><circle cx="713.7" cy="249.9" r="3.15"/><circle cx="676.6" cy="276.8" r="3.15"/><circle cx="665.1" cy="253.3" r="3.15"/><circle cx="1029.1" cy="245.5" r="3.15"/><circle cx="955.9" cy="274.2" r="3.15"/><circle cx="654.5" cy="240.4" r="3.15"/><circle cx="775.3" cy="297.9" r="3.15"/><circle cx="633.0" cy="273.8" r="3.15"/><circle cx="625.8" cy="234.2" r="3.15"/><circle cx="887.5" cy="275.2" r="3.15"/><circle cx="645.7" cy="259.0" r="3.15"/><circle cx="705.7" cy="265.4" r="3.15"/><circle cx="768.1" cy="214.3" r="3.15"/><circle cx="641.2" cy="210.2" r="3.15"/><circle cx="685.3" cy="281.1" r="3.15"/><circle cx="683.8" cy="297.3" r="3.15"/><circle cx="634.4" cy="271.0" r="3.15"/><circle cx="786.9" cy="301.4" r="3.15"/><circle cx="626.5" cy="254.3" r="3.15"/><circle cx="624.3" cy="247.2" r="3.15"/><circle cx="838.6" cy="281.9" r="3.15"/><circle cx="683.3" cy="222.5" r="3.15"/><circle cx="694.0" cy="225.3" r="3.15"/><circle cx="645.7" cy="232.6" r="3.15"/><circle cx="673.9" cy="208.9" r="3.15"/><circle cx="771.2" cy="298.9" r="3.15"/><circle cx="721.7" cy="278.4" r="3.15"/><circle cx="656.9" cy="302.6" r="3.15"/><circle cx="765.4" cy="231.8" r="3.15"/><circle cx="628.7" cy="288.8" r="3.15"/><circle cx="806.4" cy="241.7" r="3.15"/><circle cx="700.4" cy="220.9" r="3.15"/><circle cx="629.4" cy="209.9" r="3.15"/><circle cx="711.6" cy="223.8" r="3.15"/><circle cx="775.3" cy="258.7" r="3.15"/><circle cx="671.2" cy="290.9" r="3.15"/><circle cx="645.7" cy="221.6" r="3.15"/><circle cx="648.3" cy="284.0" r="3.15"/><circle cx="745.8" cy="265.4" r="3.15"/><circle cx="871.0" cy="263.9" r="3.15"/><circle cx="665.1" cy="298.7" r="3.15"/><circle cx="1017.9" cy="247.3" r="3.15"/><circle cx="722.1" cy="303.5" r="3.15"/><circle cx="635.1" cy="301.0" r="3.15"/><circle cx="733.4" cy="283.2" r="3.15"/><circle cx="739.7" cy="272.9" r="3.15"/><circle cx="731.5" cy="212.8" r="3.15"/><circle cx="680.7" cy="290.1" r="3.15"/><circle cx="817.1" cy="295.6" r="3.15"/><circle cx="681.2" cy="286.1" r="3.15"/><circle cx="713.7" cy="206.7" r="3.15"/><circle cx="683.8" cy="275.8" r="3.15"/><circle cx="753.0" cy="253.3" r="3.15"/><circle cx="670.1" cy="284.1" r="3.15"/><circle cx="696.3" cy="220.2" r="3.15"/><circle cx="691.1" cy="253.4" r="3.15"/><circle cx="626.5" cy="260.6" r="3.15"/><circle cx="679.2" cy="282.7" r="3.15"/><circle cx="659.9" cy="251.4" r="3.15"/><circle cx="783.6" cy="220.2" r="3.15"/><circle cx="827.3" cy="292.7" r="3.15"/><circle cx="512.8" cy="297.0" r="3.15"/><circle cx="656.9" cy="264.6" r="3.15"/><circle cx="673.9" cy="209.6" r="3.15"/><circle cx="506.4" cy="256.5" r="3.15"/><circle cx="989.1" cy="240.5" r="3.15"/><circle cx="678.1" cy="292.8" r="3.15"/><circle cx="668.5" cy="298.2" r="3.15"/><circle cx="633.7" cy="287.5" r="3.15"/><circle cx="708.3" cy="301.2" r="3.15"/><circle cx="780.4" cy="259.0" r="3.15"/><circle cx="647.0" cy="296.5" r="3.15"/><circle cx="693.0" cy="247.6" r="3.15"/><circle cx="761.3" cy="213.8" r="3.15"/><circle cx="745.5" cy="249.8" r="3.15"/><circle cx="819.8" cy="284.9" r="3.15"/><circle cx="639.2" cy="208.8" r="3.15"/><circle cx="633.7" cy="213.0" r="3.15"/><circle cx="717.4" cy="234.0" r="3.15"/><circle cx="1086.4" cy="216.3" r="3.15"/><circle cx="679.2" cy="276.1" r="3.15"/><circle cx="993.6" cy="253.0" r="3.15"/><circle cx="740.1" cy="290.2" r="3.15"/><circle cx="637.8" cy="295.0" r="3.15"/><circle cx="694.0" cy="288.4" r="3.15"/><circle cx="653.3" cy="298.4" r="3.15"/><circle cx="637.8" cy="226.5" r="3.15"/><circle cx="722.9" cy="229.4" r="3.15"/><circle cx="813.3" cy="207.4" r="3.15"/><circle cx="638.5" cy="212.9" r="3.15"/><circle cx="736.9" cy="270.6" r="3.15"/><circle cx="704.4" cy="273.9" r="3.15"/><circle cx="641.8" cy="250.2" r="3.15"/><circle cx="465.7" cy="226.7" r="3.15"/><circle cx="814.6" cy="287.5" r="3.15"/><circle cx="628.0" cy="210.4" r="3.15"/><circle cx="668.5" cy="245.3" r="3.15"/><circle cx="803.2" cy="284.3" r="3.15"/><circle cx="750.4" cy="207.4" r="3.15"/><circle cx="867.8" cy="238.0" r="3.15"/><circle cx="635.1" cy="225.5" r="3.15"/><circle cx="674.5" cy="210.3" r="3.15"/><circle cx="728.2" cy="220.6" r="3.15"/><circle cx="658.7" cy="213.3" r="3.15"/><circle cx="660.5" cy="255.0" r="3.15"/><circle cx="701.7" cy="298.1" r="3.15"/><circle cx="1046.1" cy="223.3" r="3.15"/><circle cx="694.0" cy="233.5" r="3.15"/><circle cx="934.3" cy="283.2" r="3.15"/><circle cx="731.5" cy="253.6" r="3.15"/><circle cx="703.9" cy="252.0" r="3.15"/><circle cx="655.7" cy="225.1" r="3.15"/><circle cx="782.5" cy="219.2" r="3.15"/><circle cx="655.1" cy="231.4" r="3.15"/><circle cx="947.9" cy="288.8" r="3.15"/><circle cx="675.0" cy="292.1" r="3.15"/><circle cx="641.8" cy="229.4" r="3.15"/><circle cx="697.2" cy="291.3" r="3.15"/><circle cx="816.1" cy="256.6" r="3.15"/><circle cx="1015.0" cy="219.5" r="3.15"/><circle cx="681.2" cy="228.9" r="3.15"/><circle cx="699.5" cy="253.3" r="3.15"/><circle cx="771.2" cy="278.0" r="3.15"/><circle cx="671.8" cy="231.6" r="3.15"/><circle cx="635.7" cy="300.3" r="3.15"/><circle cx="712.5" cy="255.9" r="3.15"/><circle cx="748.5" cy="260.3" r="3.15"/><circle cx="953.7" cy="304.2" r="3.15"/><circle cx="778.9" cy="274.7" r="3.15"/><circle cx="645.1" cy="265.2" r="3.15"/><circle cx="645.1" cy="291.5" r="3.15"/><circle cx="803.9" cy="299.9" r="3.15"/><circle cx="716.2" cy="216.4" r="3.15"/><circle cx="723.7" cy="267.3" r="3.15"/><circle cx="748.1" cy="258.3" r="3.15"/><circle cx="697.2" cy="253.2" r="3.15"/><circle cx="568.2" cy="269.2" r="3.15"/><circle cx="679.2" cy="253.6" r="3.15"/><circle cx="709.5" cy="206.9" r="3.15"/><circle cx="756.1" cy="219.1" r="3.15"/><circle cx="625.8" cy="241.8" r="3.15"/><circle cx="707.0" cy="210.2" r="3.15"/><circle cx="676.6" cy="290.3" r="3.15"/><circle cx="445.2" cy="269.0" r="3.15"/><circle cx="975.0" cy="220.8" r="3.15"/><circle cx="806.4" cy="233.5" r="3.15"/><circle cx="638.5" cy="230.7" r="3.15"/><circle cx="626.5" cy="207.6" r="3.15"/><circle cx="668.5" cy="231.6" r="3.15"/><circle cx="647.0" cy="210.8" r="3.15"/><circle cx="710.8" cy="218.2" r="3.15"/><circle cx="707.8" cy="274.4" r="3.15"/><circle cx="728.2" cy="293.2" r="3.15"/><circle cx="763.4" cy="249.8" r="3.15"/><circle cx="726.7" cy="230.9" r="3.15"/><circle cx="645.7" cy="230.7" r="3.15"/><circle cx="731.9" cy="302.3" r="3.15"/><circle cx="758.9" cy="220.3" r="3.15"/><circle cx="801.9" cy="206.8" r="3.15"/><circle cx="876.3" cy="289.3" r="3.15"/><circle cx="634.4" cy="253.8" r="3.15"/><circle cx="920.2" cy="252.5" r="3.15"/><circle cx="740.1" cy="228.4" r="3.15"/><circle cx="935.9" cy="228.4" r="3.15"/><circle cx="695.4" cy="262.7" r="3.15"/><circle cx="648.3" cy="208.3" r="3.15"/><circle cx="626.5" cy="264.7" r="3.15"/><circle cx="622.0" cy="240.0" r="3.15"/><circle cx="715.3" cy="251.0" r="3.15"/><circle cx="751.1" cy="219.1" r="3.15"/><circle cx="752.3" cy="295.7" r="3.15"/><circle cx="695.8" cy="276.5" r="3.15"/><circle cx="788.2" cy="225.7" r="3.15"/><circle cx="506.4" cy="245.8" r="3.15"/><circle cx="972.0" cy="242.6" r="3.15"/><circle cx="670.1" cy="269.0" r="3.15"/><circle cx="624.3" cy="261.0" r="3.15"/><circle cx="687.2" cy="219.1" r="3.15"/><circle cx="622.8" cy="211.2" r="3.15"/><circle cx="794.1" cy="237.1" r="3.15"/><circle cx="627.2" cy="284.2" r="3.15"/><circle cx="907.1" cy="253.2" r="3.15"/><circle cx="911.7" cy="238.6" r="3.15"/><circle cx="748.5" cy="248.2" r="3.15"/><circle cx="789.7" cy="261.4" r="3.15"/><circle cx="543.6" cy="251.5" r="3.15"/><circle cx="717.4" cy="218.4" r="3.15"/><circle cx="777.2" cy="239.8" r="3.15"/><circle cx="687.7" cy="241.2" r="3.15"/><circle cx="627.2" cy="215.1" r="3.15"/><circle cx="691.6" cy="221.1" r="3.15"/><circle cx="643.1" cy="292.7" r="3.15"/><circle cx="731.9" cy="288.7" r="3.15"/><circle cx="641.8" cy="240.8" r="3.15"/><circle cx="623.5" cy="264.9" r="3.15"/><circle cx="709.5" cy="272.9" r="3.15"/><circle cx="712.9" cy="273.7" r="3.15"/><circle cx="727.1" cy="264.3" r="3.15"/><circle cx="742.1" cy="290.8" r="3.15"/><circle cx="791.9" cy="233.2" r="3.15"/><circle cx="879.3" cy="275.9" r="3.15"/><circle cx="778.0" cy="288.6" r="3.15"/><circle cx="652.7" cy="244.5" r="3.15"/><circle cx="687.7" cy="279.7" r="3.15"/><circle cx="829.3" cy="243.6" r="3.15"/><circle cx="764.0" cy="274.6" r="3.15"/><circle cx="759.8" cy="210.8" r="3.15"/><circle cx="831.4" cy="242.5" r="3.15"/><circle cx="628.0" cy="297.7" r="3.15"/><circle cx="786.9" cy="267.4" r="3.15"/><circle cx="690.2" cy="231.0" r="3.15"/><circle cx="629.4" cy="238.4" r="3.15"/><circle cx="770.6" cy="246.5" r="3.15"/><circle cx="747.1" cy="279.8" r="3.15"/><circle cx="732.6" cy="300.8" r="3.15"/><circle cx="686.3" cy="282.8" r="3.15"/><circle cx="729.3" cy="265.8" r="3.15"/><circle cx="727.5" cy="218.1" r="3.15"/><circle cx="683.3" cy="238.9" r="3.15"/><circle cx="938.6" cy="282.9" r="3.15"/><circle cx="626.5" cy="216.5" r="3.15"/><circle cx="669.6" cy="244.9" r="3.15"/><circle cx="512.8" cy="281.2" r="3.15"/><circle cx="664.5" cy="216.8" r="3.15"/><circle cx="829.8" cy="223.5" r="3.15"/><circle cx="646.4" cy="224.9" r="3.15"/><circle cx="720.5" cy="285.1" r="3.15"/><circle cx="625.0" cy="288.7" r="3.15"/><circle cx="672.3" cy="235.4" r="3.15"/><circle cx="635.7" cy="262.8" r="3.15"/><circle cx="685.3" cy="244.2" r="3.15"/><circle cx="656.9" cy="247.9" r="3.15"/><circle cx="676.0" cy="239.9" r="3.15"/><circle cx="719.0" cy="261.7" r="3.15"/><circle cx="701.3" cy="276.3" r="3.15"/><circle cx="748.5" cy="297.0" r="3.15"/><circle cx="664.0" cy="295.2" r="3.15"/><circle cx="820.0" cy="242.1" r="3.15"/><circle cx="705.7" cy="278.7" r="3.15"/><circle cx="796.7" cy="259.9" r="3.15"/><circle cx="670.1" cy="238.5" r="3.15"/><circle cx="633.0" cy="213.1" r="3.15"/><circle cx="635.7" cy="248.2" r="3.15"/><circle cx="749.1" cy="259.8" r="3.15"/><circle cx="734.4" cy="299.5" r="3.15"/><circle cx="702.6" cy="283.6" r="3.15"/><circle cx="726.3" cy="230.3" r="3.15"/><circle cx="668.5" cy="285.3" r="3.15"/><circle cx="646.4" cy="218.3" r="3.15"/><circle cx="643.1" cy="221.5" r="3.15"/><circle cx="622.8" cy="232.2" r="3.15"/><circle cx="706.5" cy="293.3" r="3.15"/><circle cx="653.9" cy="252.1" r="3.15"/><circle cx="694.9" cy="300.0" r="3.15"/><circle cx="701.7" cy="234.8" r="3.15"/><circle cx="650.2" cy="286.1" r="3.15"/><circle cx="680.7" cy="235.7" r="3.15"/><circle cx="704.8" cy="299.6" r="3.15"/><circle cx="632.3" cy="231.3" r="3.15"/><circle cx="710.4" cy="270.3" r="3.15"/><circle cx="981.3" cy="303.8" r="3.15"/><circle cx="900.2" cy="268.9" r="3.15"/><circle cx="742.1" cy="281.4" r="3.15"/><circle cx="767.2" cy="302.0" r="3.15"/><circle cx="674.5" cy="299.1" r="3.15"/><circle cx="1010.4" cy="215.3" r="3.15"/><circle cx="708.3" cy="290.3" r="3.15"/><circle cx="794.3" cy="239.6" r="3.15"/><circle cx="728.6" cy="303.8" r="3.15"/><circle cx="738.0" cy="302.9" r="3.15"/><circle cx="793.8" cy="290.1" r="3.15"/><circle cx="706.1" cy="266.1" r="3.15"/><circle cx="631.6" cy="288.5" r="3.15"/><circle cx="824.0" cy="299.0" r="3.15"/><circle cx="629.4" cy="213.5" r="3.15"/><circle cx="660.5" cy="276.7" r="3.15"/><circle cx="727.1" cy="297.3" r="3.15"/><circle cx="634.4" cy="288.5" r="3.15"/><circle cx="930.1" cy="230.6" r="3.15"/><circle cx="640.5" cy="224.0" r="3.15"/><circle cx="764.9" cy="284.0" r="3.15"/><circle cx="777.0" cy="232.5" r="3.15"/><circle cx="674.5" cy="233.5" r="3.15"/><circle cx="696.7" cy="265.0" r="3.15"/><circle cx="807.3" cy="211.7" r="3.15"/><circle cx="693.0" cy="237.9" r="3.15"/><circle cx="660.5" cy="272.6" r="3.15"/><circle cx="652.1" cy="276.2" r="3.15"/><circle cx="713.7" cy="216.4" r="3.15"/><circle cx="1087.8" cy="212.1" r="3.15"/><circle cx="749.4" cy="215.0" r="3.15"/><circle cx="700.4" cy="299.1" r="3.15"/><circle cx="746.8" cy="253.1" r="3.15"/><circle cx="783.8" cy="266.4" r="3.15"/><circle cx="722.1" cy="231.8" r="3.15"/><circle cx="845.6" cy="260.8" r="3.15"/><circle cx="716.2" cy="283.0" r="3.15"/><circle cx="741.1" cy="251.8" r="3.15"/><circle cx="667.9" cy="222.7" r="3.15"/><circle cx="763.1" cy="208.2" r="3.15"/><circle cx="682.8" cy="277.2" r="3.15"/><circle cx="766.9" cy="249.9" r="3.15"/><circle cx="745.5" cy="207.8" r="3.15"/><circle cx="740.8" cy="217.5" r="3.15"/><circle cx="728.2" cy="272.6" r="3.15"/><circle cx="691.1" cy="296.2" r="3.15"/><circle cx="633.0" cy="228.8" r="3.15"/><circle cx="947.0" cy="268.9" r="3.15"/><circle cx="664.0" cy="273.3" r="3.15"/><circle cx="471.9" cy="257.5" r="3.15"/><circle cx="644.5" cy="257.6" r="3.15"/><circle cx="790.2" cy="258.5" r="3.15"/><circle cx="699.0" cy="246.6" r="3.15"/><circle cx="633.7" cy="254.9" r="3.15"/><circle cx="744.2" cy="284.3" r="3.15"/><circle cx="712.0" cy="277.4" r="3.15"/><circle cx="702.6" cy="283.0" r="3.15"/><circle cx="769.8" cy="239.7" r="3.15"/><circle cx="807.0" cy="287.1" r="3.15"/><circle cx="762.2" cy="294.9" r="3.15"/><circle cx="653.3" cy="229.8" r="3.15"/><circle cx="625.8" cy="245.3" r="3.15"/><circle cx="783.1" cy="294.9" r="3.15"/><circle cx="687.2" cy="290.8" r="3.15"/><circle cx="684.3" cy="259.2" r="3.15"/><circle cx="767.8" cy="286.1" r="3.15"/><circle cx="761.9" cy="298.8" r="3.15"/><circle cx="729.0" cy="275.3" r="3.15"/><circle cx="703.1" cy="217.7" r="3.15"/><circle cx="551.1" cy="256.3" r="3.15"/><circle cx="623.5" cy="265.6" r="3.15"/><circle cx="693.0" cy="254.7" r="3.15"/><circle cx="782.8" cy="218.5" r="3.15"/><circle cx="896.4" cy="300.7" r="3.15"/><circle cx="1017.3" cy="235.8" r="3.15"/><circle cx="622.8" cy="300.3" r="3.15"/><circle cx="661.1" cy="270.6" r="3.15"/><circle cx="658.1" cy="234.9" r="3.15"/><circle cx="722.5" cy="274.5" r="3.15"/><circle cx="782.0" cy="213.4" r="3.15"/><circle cx="951.3" cy="275.3" r="3.15"/><circle cx="630.1" cy="277.0" r="3.15"/><circle cx="637.1" cy="272.7" r="3.15"/><circle cx="815.5" cy="299.3" r="3.15"/><circle cx="761.6" cy="223.2" r="3.15"/><circle cx="890.9" cy="284.0" r="3.15"/><circle cx="635.1" cy="274.8" r="3.15"/><circle cx="671.8" cy="207.6" r="3.15"/><circle cx="683.8" cy="253.4" r="3.15"/><circle cx="659.3" cy="304.9" r="3.15"/><circle cx="641.2" cy="215.4" r="3.15"/><circle cx="717.0" cy="225.6" r="3.15"/><circle cx="666.8" cy="260.6" r="3.15"/><circle cx="683.8" cy="278.6" r="3.15"/><circle cx="697.2" cy="236.1" r="3.15"/><circle cx="690.6" cy="278.4" r="3.15"/><circle cx="738.0" cy="224.3" r="3.15"/><circle cx="633.7" cy="232.8" r="3.15"/><circle cx="735.9" cy="222.7" r="3.15"/><circle cx="672.3" cy="210.8" r="3.15"/><circle cx="684.8" cy="295.1" r="3.15"/><circle cx="643.1" cy="295.1" r="3.15"/><circle cx="701.3" cy="259.3" r="3.15"/><circle cx="632.3" cy="229.0" r="3.15"/><circle cx="696.7" cy="285.5" r="3.15"/><circle cx="707.0" cy="263.6" r="3.15"/><circle cx="639.2" cy="242.6" r="3.15"/><circle cx="707.0" cy="289.3" r="3.15"/><circle cx="699.9" cy="269.9" r="3.15"/><circle cx="671.8" cy="209.5" r="3.15"/><circle cx="665.1" cy="227.8" r="3.15"/><circle cx="689.7" cy="226.9" r="3.15"/><circle cx="749.8" cy="290.1" r="3.15"/><circle cx="790.4" cy="302.0" r="3.15"/><circle cx="694.0" cy="248.6" r="3.15"/><circle cx="632.3" cy="293.7" r="3.15"/><circle cx="662.2" cy="242.6" r="3.15"/><circle cx="665.7" cy="269.1" r="3.15"/><circle cx="825.2" cy="304.9" r="3.15"/><circle cx="677.1" cy="251.8" r="3.15"/><circle cx="672.8" cy="242.0" r="3.15"/><circle cx="775.6" cy="221.2" r="3.15"/><circle cx="653.9" cy="220.7" r="3.15"/><circle cx="658.7" cy="280.9" r="3.15"/><circle cx="654.5" cy="271.1" r="3.15"/><circle cx="671.8" cy="293.2" r="3.15"/><circle cx="646.4" cy="276.0" r="3.15"/><circle cx="673.4" cy="300.0" r="3.15"/><circle cx="707.0" cy="274.6" r="3.15"/><circle cx="658.1" cy="206.5" r="3.15"/><circle cx="759.2" cy="235.5" r="3.15"/><circle cx="663.4" cy="301.9" r="3.15"/><circle cx="928.3" cy="301.8" r="3.15"/><circle cx="652.1" cy="302.1" r="3.15"/><circle cx="712.5" cy="220.6" r="3.15"/><circle cx="712.5" cy="218.2" r="3.15"/><circle cx="848.5" cy="290.9" r="3.15"/><circle cx="1024.4" cy="300.7" r="3.15"/><circle cx="643.1" cy="278.4" r="3.15"/><circle cx="670.1" cy="265.5" r="3.15"/><circle cx="685.3" cy="222.7" r="3.15"/><circle cx="477.9" cy="222.6" r="3.15"/><circle cx="634.4" cy="236.5" r="3.15"/><circle cx="703.1" cy="279.9" r="3.15"/><circle cx="661.1" cy="232.3" r="3.15"/><circle cx="774.0" cy="284.9" r="3.15"/><circle cx="656.3" cy="267.6" r="3.15"/><circle cx="667.9" cy="243.8" r="3.15"/><circle cx="629.4" cy="297.7" r="3.15"/><circle cx="743.5" cy="213.9" r="3.15"/><circle cx="806.4" cy="206.8" r="3.15"/><circle cx="636.4" cy="274.0" r="3.15"/><circle cx="847.8" cy="303.9" r="3.15"/><circle cx="689.2" cy="258.9" r="3.15"/><circle cx="647.0" cy="302.8" r="3.15"/><circle cx="643.1" cy="274.6" r="3.15"/><circle cx="792.1" cy="259.7" r="3.15"/><circle cx="680.7" cy="258.3" r="3.15"/><circle cx="684.3" cy="209.0" r="3.15"/><circle cx="733.0" cy="273.8" r="3.15"/><circle cx="646.4" cy="299.2" r="3.15"/><circle cx="625.0" cy="218.6" r="3.15"/><circle cx="450.0" cy="250.1" r="3.15"/><circle cx="685.3" cy="280.0" r="3.15"/><circle cx="743.8" cy="215.5" r="3.15"/><circle cx="639.8" cy="226.4" r="3.15"/><circle cx="648.3" cy="248.0" r="3.15"/><circle cx="675.5" cy="229.5" r="3.15"/><circle cx="725.2" cy="217.6" r="3.15"/><circle cx="670.1" cy="291.1" r="3.15"/><circle cx="625.8" cy="234.9" r="3.15"/><circle cx="738.7" cy="258.1" r="3.15"/><circle cx="741.8" cy="232.2" r="3.15"/><circle cx="651.4" cy="294.1" r="3.15"/><circle cx="745.2" cy="231.8" r="3.15"/><circle cx="625.8" cy="214.8" r="3.15"/><circle cx="720.5" cy="279.5" r="3.15"/><circle cx="938.5" cy="273.2" r="3.15"/><circle cx="653.9" cy="262.0" r="3.15"/><circle cx="786.4" cy="243.3" r="3.15"/><circle cx="628.0" cy="286.0" r="3.15"/><circle cx="920.9" cy="293.0" r="3.15"/><circle cx="819.4" cy="227.5" r="3.15"/><circle cx="835.5" cy="241.8" r="3.15"/><circle cx="637.1" cy="257.0" r="3.15"/><circle cx="635.7" cy="276.5" r="3.15"/><circle cx="697.2" cy="293.8" r="3.15"/><circle cx="735.1" cy="241.4" r="3.15"/><circle cx="656.3" cy="217.6" r="3.15"/><circle cx="719.0" cy="224.8" r="3.15"/><circle cx="739.0" cy="248.0" r="3.15"/><circle cx="685.8" cy="248.9" r="3.15"/><circle cx="888.1" cy="266.6" r="3.15"/><circle cx="791.7" cy="228.3" r="3.15"/><circle cx="693.0" cy="238.9" r="3.15"/><circle cx="710.4" cy="288.5" r="3.15"/><circle cx="655.1" cy="232.0" r="3.15"/><circle cx="694.0" cy="275.1" r="3.15"/><circle cx="764.6" cy="258.7" r="3.15"/><circle cx="665.7" cy="287.9" r="3.15"/><circle cx="657.5" cy="244.3" r="3.15"/><circle cx="641.8" cy="251.8" r="3.15"/><circle cx="772.3" cy="264.1" r="3.15"/><circle cx="992.8" cy="261.5" r="3.15"/><circle cx="713.7" cy="228.0" r="3.15"/><circle cx="701.7" cy="261.5" r="3.15"/><circle cx="666.8" cy="246.5" r="3.15"/><circle cx="737.6" cy="238.8" r="3.15"/><circle cx="618.2" cy="271.3" r="3.15"/><circle cx="653.3" cy="269.3" r="3.15"/><circle cx="706.1" cy="295.5" r="3.15"/><circle cx="739.4" cy="289.5" r="3.15"/><circle cx="630.1" cy="243.3" r="3.15"/><circle cx="675.5" cy="249.6" r="3.15"/><circle cx="745.5" cy="219.7" r="3.15"/><circle cx="754.2" cy="244.5" r="3.15"/><circle cx="805.5" cy="303.4" r="3.15"/><circle cx="678.7" cy="223.7" r="3.15"/><circle cx="709.1" cy="298.3" r="3.15"/><circle cx="871.4" cy="301.7" r="3.15"/><circle cx="736.6" cy="249.1" r="3.15"/><circle cx="622.0" cy="268.5" r="3.15"/><circle cx="643.8" cy="233.7" r="3.15"/><circle cx="647.7" cy="272.1" r="3.15"/><circle cx="685.8" cy="260.9" r="3.15"/><circle cx="690.2" cy="260.4" r="3.15"/><circle cx="639.8" cy="276.6" r="3.15"/><circle cx="424.3" cy="221.4" r="3.15"/><circle cx="639.8" cy="229.8" r="3.15"/><circle cx="674.5" cy="226.7" r="3.15"/><circle cx="656.9" cy="226.7" r="3.15"/><circle cx="809.0" cy="242.1" r="3.15"/><circle cx="704.4" cy="240.3" r="3.15"/><circle cx="674.5" cy="270.0" r="3.15"/><circle cx="650.8" cy="212.7" r="3.15"/><circle cx="665.7" cy="232.1" r="3.15"/><circle cx="639.2" cy="210.8" r="3.15"/><circle cx="699.0" cy="277.5" r="3.15"/><circle cx="766.0" cy="272.9" r="3.15"/><circle cx="915.1" cy="280.6" r="3.15"/><circle cx="702.6" cy="230.1" r="3.15"/><circle cx="802.3" cy="286.6" r="3.15"/><circle cx="696.3" cy="289.7" r="3.15"/><circle cx="663.4" cy="216.3" r="3.15"/><circle cx="699.0" cy="231.2" r="3.15"/><circle cx="729.3" cy="241.3" r="3.15"/><circle cx="671.8" cy="304.1" r="3.15"/><circle cx="650.2" cy="258.2" r="3.15"/><circle cx="658.1" cy="263.8" r="3.15"/><circle cx="763.7" cy="301.5" r="3.15"/><circle cx="622.8" cy="260.9" r="3.15"/><circle cx="634.4" cy="287.2" r="3.15"/><circle cx="1001.1" cy="288.2" r="3.15"/><circle cx="783.6" cy="282.2" r="3.15"/><circle cx="682.3" cy="227.4" r="3.15"/><circle cx="747.8" cy="254.5" r="3.15"/><circle cx="777.2" cy="289.7" r="3.15"/><circle cx="671.2" cy="298.2" r="3.15"/><circle cx="710.8" cy="226.0" r="3.15"/><circle cx="734.8" cy="226.5" r="3.15"/><circle cx="908.1" cy="208.2" r="3.15"/><circle cx="564.9" cy="248.4" r="3.15"/><circle cx="754.5" cy="255.4" r="3.15"/><circle cx="785.1" cy="236.1" r="3.15"/><circle cx="770.9" cy="257.8" r="3.15"/><circle cx="764.0" cy="231.3" r="3.15"/><circle cx="979.4" cy="220.4" r="3.15"/><circle cx="794.8" cy="272.8" r="3.15"/><circle cx="655.7" cy="255.9" r="3.15"/><circle cx="707.0" cy="272.7" r="3.15"/><circle cx="724.4" cy="236.7" r="3.15"/><circle cx="687.7" cy="260.7" r="3.15"/><circle cx="765.4" cy="267.0" r="3.15"/><circle cx="733.7" cy="272.8" r="3.15"/><circle cx="905.5" cy="261.2" r="3.15"/><circle cx="861.9" cy="300.1" r="3.15"/><circle cx="850.5" cy="242.5" r="3.15"/><circle cx="749.8" cy="272.4" r="3.15"/><circle cx="675.5" cy="215.4" r="3.15"/><circle cx="667.9" cy="289.0" r="3.15"/><circle cx="659.9" cy="246.5" r="3.15"/><circle cx="665.7" cy="224.4" r="3.15"/><circle cx="630.8" cy="263.5" r="3.15"/><circle cx="723.7" cy="259.3" r="3.15"/><circle cx="631.6" cy="216.1" r="3.15"/><circle cx="930.2" cy="253.8" r="3.15"/><circle cx="801.4" cy="231.3" r="3.15"/><circle cx="705.2" cy="217.2" r="3.15"/><circle cx="760.4" cy="216.8" r="3.15"/><circle cx="702.2" cy="266.7" r="3.15"/><circle cx="709.5" cy="281.7" r="3.15"/><circle cx="667.4" cy="236.2" r="3.15"/><circle cx="669.6" cy="274.6" r="3.15"/><circle cx="734.1" cy="218.2" r="3.15"/><circle cx="667.4" cy="242.2" r="3.15"/><circle cx="626.5" cy="207.7" r="3.15"/><circle cx="662.2" cy="251.1" r="3.15"/><circle cx="1023.0" cy="268.3" r="3.15"/><circle cx="776.4" cy="218.4" r="3.15"/><circle cx="491.1" cy="264.2" r="3.15"/><circle cx="690.2" cy="296.1" r="3.15"/><circle cx="658.1" cy="282.5" r="3.15"/><circle cx="721.3" cy="249.2" r="3.15"/><circle cx="693.5" cy="275.6" r="3.15"/><circle cx="697.7" cy="257.0" r="3.15"/><circle cx="986.0" cy="227.4" r="3.15"/><circle cx="802.8" cy="266.3" r="3.15"/><circle cx="819.2" cy="219.7" r="3.15"/><circle cx="652.1" cy="213.2" r="3.15"/><circle cx="477.9" cy="240.8" r="3.15"/><circle cx="626.5" cy="280.5" r="3.15"/><circle cx="794.8" cy="289.8" r="3.15"/><circle cx="864.5" cy="259.1" r="3.15"/><circle cx="834.9" cy="292.4" r="3.15"/><circle cx="735.1" cy="229.5" r="3.15"/><circle cx="836.9" cy="269.6" r="3.15"/><circle cx="712.5" cy="234.9" r="3.15"/><circle cx="625.8" cy="239.7" r="3.15"/><circle cx="667.9" cy="282.1" r="3.15"/><circle cx="765.7" cy="248.2" r="3.15"/><circle cx="756.7" cy="238.8" r="3.15"/><circle cx="664.5" cy="252.7" r="3.15"/><circle cx="686.7" cy="261.8" r="3.15"/><circle cx="625.8" cy="220.8" r="3.15"/><circle cx="772.9" cy="263.2" r="3.15"/><circle cx="657.5" cy="249.3" r="3.15"/><circle cx="639.8" cy="262.6" r="3.15"/><circle cx="701.3" cy="244.1" r="3.15"/><circle cx="738.7" cy="282.7" r="3.15"/><circle cx="766.9" cy="301.0" r="3.15"/><circle cx="625.0" cy="256.7" r="3.15"/><circle cx="690.6" cy="287.9" r="3.15"/><circle cx="783.3" cy="255.1" r="3.15"/><circle cx="624.3" cy="288.1" r="3.15"/><circle cx="667.4" cy="264.3" r="3.15"/><circle cx="639.8" cy="233.7" r="3.15"/><circle cx="777.2" cy="238.1" r="3.15"/><circle cx="749.8" cy="241.4" r="3.15"/><circle cx="638.5" cy="223.6" r="3.15"/><circle cx="896.1" cy="252.4" r="3.15"/><circle cx="643.8" cy="253.5" r="3.15"/><circle cx="824.0" cy="250.5" r="3.15"/><circle cx="645.7" cy="220.3" r="3.15"/><circle cx="689.7" cy="269.9" r="3.15"/><circle cx="651.4" cy="245.0" r="3.15"/><circle cx="796.7" cy="253.6" r="3.15"/><circle cx="686.7" cy="244.7" r="3.15"/><circle cx="648.3" cy="244.5" r="3.15"/><circle cx="770.3" cy="217.5" r="3.15"/><circle cx="678.7" cy="236.4" r="3.15"/><circle cx="452.3" cy="207.9" r="3.15"/><circle cx="661.7" cy="233.5" r="3.15"/><circle cx="670.1" cy="265.3" r="3.15"/><circle cx="732.6" cy="242.9" r="3.15"/><circle cx="697.2" cy="227.6" r="3.15"/><circle cx="669.0" cy="233.5" r="3.15"/><circle cx="641.2" cy="244.0" r="3.15"/><circle cx="976.3" cy="247.0" r="3.15"/><circle cx="836.2" cy="208.4" r="3.15"/><circle cx="578.6" cy="235.1" r="3.15"/><circle cx="667.4" cy="262.7" r="3.15"/><circle cx="745.5" cy="214.3" r="3.15"/><circle cx="714.9" cy="219.2" r="3.15"/><circle cx="654.5" cy="222.1" r="3.15"/><circle cx="688.2" cy="279.5" r="3.15"/><circle cx="681.2" cy="292.8" r="3.15"/><circle cx="582.6" cy="294.9" r="3.15"/><circle cx="655.7" cy="255.8" r="3.15"/><circle cx="682.3" cy="304.8" r="3.15"/><circle cx="762.8" cy="302.2" r="3.15"/><circle cx="669.0" cy="239.8" r="3.15"/><circle cx="735.5" cy="268.1" r="3.15"/><circle cx="515.9" cy="292.5" r="3.15"/><circle cx="779.1" cy="231.0" r="3.15"/><circle cx="629.4" cy="287.9" r="3.15"/><circle cx="687.7" cy="242.5" r="3.15"/><circle cx="435.1" cy="256.5" r="3.15"/><circle cx="647.0" cy="253.3" r="3.15"/><circle cx="862.0" cy="231.8" r="3.15"/><circle cx="661.1" cy="220.1" r="3.15"/><circle cx="642.5" cy="270.3" r="3.15"/><circle cx="724.8" cy="231.2" r="3.15"/><circle cx="636.4" cy="289.3" r="3.15"/><circle cx="802.3" cy="304.6" r="3.15"/><circle cx="669.0" cy="217.8" r="3.15"/><circle cx="792.6" cy="261.2" r="3.15"/><circle cx="717.8" cy="262.0" r="3.15"/><circle cx="812.1" cy="277.3" r="3.15"/><circle cx="758.3" cy="220.4" r="3.15"/><circle cx="717.8" cy="243.6" r="3.15"/><circle cx="628.7" cy="270.3" r="3.15"/><circle cx="732.3" cy="232.5" r="3.15"/><circle cx="699.0" cy="301.7" r="3.15"/><circle cx="1060.3" cy="249.3" r="3.15"/><circle cx="677.6" cy="280.3" r="3.15"/><circle cx="644.5" cy="286.9" r="3.15"/><circle cx="723.7" cy="246.3" r="3.15"/><circle cx="730.4" cy="289.1" r="3.15"/><circle cx="1006.0" cy="228.8" r="3.15"/><circle cx="933.9" cy="278.2" r="3.15"/><circle cx="944.6" cy="217.3" r="3.15"/><circle cx="747.5" cy="297.4" r="3.15"/><circle cx="694.0" cy="254.5" r="3.15"/><circle cx="733.7" cy="282.5" r="3.15"/><circle cx="696.7" cy="221.2" r="3.15"/><circle cx="676.0" cy="296.6" r="3.15"/><circle cx="1044.3" cy="241.2" r="3.15"/><circle cx="639.8" cy="249.3" r="3.15"/><circle cx="758.6" cy="296.2" r="3.15"/><circle cx="692.1" cy="240.3" r="3.15"/><circle cx="820.6" cy="269.4" r="3.15"/><circle cx="711.6" cy="229.1" r="3.15"/><circle cx="820.4" cy="267.9" r="3.15"/><circle cx="670.7" cy="266.9" r="3.15"/><circle cx="744.2" cy="240.0" r="3.15"/><circle cx="695.8" cy="256.0" r="3.15"/><circle cx="792.6" cy="209.1" r="3.15"/><circle cx="794.8" cy="223.7" r="3.15"/><circle cx="762.2" cy="233.6" r="3.15"/><circle cx="721.7" cy="227.6" r="3.15"/><circle cx="685.3" cy="214.6" r="3.15"/><circle cx="743.5" cy="304.1" r="3.15"/><circle cx="656.9" cy="298.5" r="3.15"/><circle cx="672.8" cy="304.9" r="3.15"/><circle cx="803.7" cy="240.2" r="3.15"/><circle cx="844.9" cy="274.5" r="3.15"/><circle cx="636.4" cy="301.9" r="3.15"/><circle cx="713.3" cy="301.2" r="3.15"/><circle cx="648.3" cy="280.6" r="3.15"/><circle cx="672.3" cy="233.4" r="3.15"/><circle cx="778.6" cy="239.5" r="3.15"/><circle cx="777.2" cy="304.5" r="3.15"/><circle cx="716.6" cy="256.8" r="3.15"/><circle cx="751.1" cy="287.5" r="3.15"/><circle cx="651.4" cy="255.2" r="3.15"/><circle cx="677.6" cy="285.6" r="3.15"/><circle cx="700.4" cy="206.7" r="3.15"/><circle cx="640.5" cy="289.8" r="3.15"/><circle cx="622.8" cy="296.4" r="3.15"/><circle cx="761.0" cy="209.5" r="3.15"/><circle cx="634.4" cy="216.4" r="3.15"/><circle cx="664.5" cy="276.3" r="3.15"/><circle cx="698.1" cy="221.2" r="3.15"/><circle cx="629.4" cy="254.7" r="3.15"/><circle cx="682.8" cy="208.7" r="3.15"/><circle cx="706.5" cy="291.4" r="3.15"/><circle cx="810.6" cy="244.7" r="3.15"/><circle cx="628.7" cy="261.0" r="3.15"/><circle cx="976.1" cy="239.3" r="3.15"/><circle cx="729.7" cy="246.7" r="3.15"/><circle cx="697.2" cy="244.5" r="3.15"/><circle cx="638.5" cy="278.8" r="3.15"/><circle cx="816.9" cy="293.8" r="3.15"/><circle cx="932.7" cy="242.9" r="3.15"/><circle cx="672.8" cy="283.2" r="3.15"/><circle cx="629.4" cy="226.8" r="3.15"/><circle cx="705.2" cy="216.6" r="3.15"/><circle cx="638.5" cy="301.7" r="3.15"/><circle cx="738.7" cy="253.0" r="3.15"/><circle cx="437.7" cy="213.1" r="3.15"/><circle cx="635.7" cy="219.0" r="3.15"/><circle cx="647.0" cy="297.0" r="3.15"/><circle cx="814.8" cy="302.8" r="3.15"/><circle cx="666.2" cy="303.5" r="3.15"/><circle cx="771.2" cy="223.6" r="3.15"/><circle cx="676.6" cy="300.3" r="3.15"/><circle cx="597.5" cy="275.1" r="3.15"/><circle cx="630.1" cy="228.3" r="3.15"/><circle cx="684.8" cy="278.8" r="3.15"/><circle cx="677.1" cy="237.0" r="3.15"/><circle cx="714.1" cy="226.8" r="3.15"/><circle cx="777.2" cy="211.5" r="3.15"/><circle cx="625.8" cy="232.5" r="3.15"/><circle cx="707.8" cy="300.9" r="3.15"/><circle cx="665.1" cy="220.6" r="3.15"/><circle cx="637.1" cy="285.5" r="3.15"/><circle cx="687.2" cy="269.5" r="3.15"/><circle cx="709.5" cy="245.7" r="3.15"/><circle cx="629.4" cy="208.6" r="3.15"/><circle cx="677.6" cy="228.1" r="3.15"/><circle cx="652.1" cy="277.9" r="3.15"/><circle cx="641.2" cy="218.5" r="3.15"/><circle cx="657.5" cy="258.8" r="3.15"/><circle cx="832.3" cy="245.0" r="3.15"/><circle cx="676.6" cy="221.9" r="3.15"/><circle cx="820.4" cy="287.0" r="3.15"/><circle cx="1008.6" cy="231.0" r="3.15"/><circle cx="665.7" cy="274.7" r="3.15"/><circle cx="593.0" cy="299.6" r="3.15"/><circle cx="701.7" cy="286.9" r="3.15"/><circle cx="747.1" cy="244.2" r="3.15"/><circle cx="749.8" cy="218.7" r="3.15"/><circle cx="667.9" cy="286.1" r="3.15"/><circle cx="714.9" cy="228.4" r="3.15"/><circle cx="666.8" cy="224.3" r="3.15"/><circle cx="695.8" cy="212.8" r="3.15"/><circle cx="819.0" cy="238.2" r="3.15"/><circle cx="774.5" cy="222.4" r="3.15"/><circle cx="653.3" cy="264.2" r="3.15"/><circle cx="644.5" cy="303.3" r="3.15"/><circle cx="664.5" cy="235.3" r="3.15"/><circle cx="658.1" cy="299.3" r="3.15"/><circle cx="682.8" cy="218.6" r="3.15"/><circle cx="647.0" cy="262.2" r="3.15"/><circle cx="716.2" cy="236.1" r="3.15"/><circle cx="635.7" cy="208.8" r="3.15"/><circle cx="918.3" cy="249.6" r="3.15"/><circle cx="440.2" cy="299.0" r="3.15"/><circle cx="633.0" cy="288.1" r="3.15"/><circle cx="682.3" cy="304.6" r="3.15"/><circle cx="695.8" cy="297.7" r="3.15"/><circle cx="849.5" cy="209.5" r="3.15"/><circle cx="868.2" cy="272.6" r="3.15"/><circle cx="803.7" cy="254.8" r="3.15"/><circle cx="743.5" cy="224.6" r="3.15"/><circle cx="708.7" cy="289.0" r="3.15"/><circle cx="649.6" cy="210.5" r="3.15"/><circle cx="682.8" cy="262.0" r="3.15"/><circle cx="631.6" cy="234.4" r="3.15"/><circle cx="738.0" cy="280.0" r="3.15"/><circle cx="649.6" cy="213.0" r="3.15"/><circle cx="686.3" cy="238.4" r="3.15"/><circle cx="670.1" cy="289.8" r="3.15"/><circle cx="825.2" cy="229.2" r="3.15"/><circle cx="498.1" cy="260.6" r="3.15"/><circle cx="783.6" cy="250.3" r="3.15"/><circle cx="726.3" cy="264.3" r="3.15"/><circle cx="691.6" cy="225.2" r="3.15"/><circle cx="656.3" cy="288.8" r="3.15"/><circle cx="803.2" cy="206.5" r="3.15"/><circle cx="712.5" cy="237.5" r="3.15"/><circle cx="1015.9" cy="294.2" r="3.15"/><circle cx="683.8" cy="303.9" r="3.15"/><circle cx="679.2" cy="302.0" r="3.15"/><circle cx="633.0" cy="291.4" r="3.15"/><circle cx="780.7" cy="224.9" r="3.15"/><circle cx="831.4" cy="281.0" r="3.15"/><circle cx="864.5" cy="231.8" r="3.15"/><circle cx="704.4" cy="274.0" r="3.15"/><circle cx="725.2" cy="215.2" r="3.15"/><circle cx="673.4" cy="302.7" r="3.15"/><circle cx="980.5" cy="230.4" r="3.15"/><circle cx="816.7" cy="221.3" r="3.15"/><circle cx="939.6" cy="248.5" r="3.15"/><circle cx="641.2" cy="298.7" r="3.15"/><circle cx="762.5" cy="301.2" r="3.15"/><circle cx="667.9" cy="227.0" r="3.15"/><circle cx="715.7" cy="277.8" r="3.15"/><circle cx="648.9" cy="297.9" r="3.15"/><circle cx="992.4" cy="252.8" r="3.15"/><circle cx="963.0" cy="294.6" r="3.15"/><circle cx="811.2" cy="267.2" r="3.15"/><circle cx="815.7" cy="273.3" r="3.15"/><circle cx="653.3" cy="215.2" r="3.15"/><circle cx="1010.8" cy="267.3" r="3.15"/><circle cx="904.2" cy="216.9" r="3.15"/><circle cx="794.8" cy="266.7" r="3.15"/><circle cx="701.3" cy="236.6" r="3.15"/><circle cx="738.0" cy="247.6" r="3.15"/><circle cx="627.2" cy="239.0" r="3.15"/><circle cx="721.7" cy="233.9" r="3.15"/><circle cx="653.9" cy="246.1" r="3.15"/><circle cx="672.8" cy="213.8" r="3.15"/><circle cx="648.3" cy="241.4" r="3.15"/><circle cx="639.8" cy="248.3" r="3.15"/><circle cx="664.5" cy="286.0" r="3.15"/><circle cx="659.3" cy="264.5" r="3.15"/><circle cx="648.3" cy="231.3" r="3.15"/><circle cx="684.8" cy="300.7" r="3.15"/><circle cx="647.0" cy="236.3" r="3.15"/><circle cx="809.2" cy="278.5" r="3.15"/><circle cx="714.5" cy="242.2" r="3.15"/><circle cx="627.2" cy="296.3" r="3.15"/><circle cx="671.2" cy="245.3" r="3.15"/><circle cx="791.7" cy="272.4" r="3.15"/><circle cx="459.1" cy="218.0" r="3.15"/><circle cx="631.6" cy="258.1" r="3.15"/><circle cx="640.5" cy="294.6" r="3.15"/><circle cx="724.4" cy="250.0" r="3.15"/><circle cx="766.6" cy="267.7" r="3.15"/><circle cx="919.7" cy="297.9" r="3.15"/><circle cx="630.8" cy="249.0" r="3.15"/><circle cx="921.9" cy="226.7" r="3.15"/><circle cx="1098.2" cy="218.2" r="3.15"/><circle cx="660.5" cy="268.4" r="3.15"/><circle cx="720.9" cy="257.4" r="3.15"/><circle cx="800.0" cy="211.2" r="3.15"/><circle cx="825.6" cy="246.0" r="3.15"/><circle cx="660.5" cy="241.0" r="3.15"/><circle cx="750.1" cy="253.4" r="3.15"/><circle cx="672.3" cy="211.8" r="3.15"/><circle cx="633.7" cy="279.9" r="3.15"/><circle cx="641.2" cy="303.9" r="3.15"/><circle cx="842.8" cy="244.1" r="3.15"/><circle cx="724.4" cy="235.3" r="3.15"/><circle cx="666.2" cy="211.3" r="3.15"/><circle cx="711.6" cy="281.1" r="3.15"/><circle cx="748.1" cy="300.5" r="3.15"/><circle cx="659.3" cy="260.6" r="3.15"/><circle cx="664.0" cy="303.0" r="3.15"/><circle cx="666.2" cy="214.6" r="3.15"/><circle cx="853.9" cy="260.2" r="3.15"/><circle cx="731.5" cy="262.4" r="3.15"/><circle cx="689.2" cy="276.0" r="3.15"/><circle cx="695.4" cy="285.5" r="3.15"/><circle cx="670.1" cy="231.7" r="3.15"/><circle cx="712.5" cy="235.0" r="3.15"/><circle cx="742.1" cy="278.0" r="3.15"/><circle cx="807.0" cy="269.6" r="3.15"/><circle cx="652.7" cy="249.7" r="3.15"/><circle cx="634.4" cy="275.6" r="3.15"/><circle cx="696.7" cy="303.8" r="3.15"/><circle cx="1051.5" cy="302.3" r="3.15"/><circle cx="706.5" cy="297.2" r="3.15"/><circle cx="672.8" cy="276.8" r="3.15"/><circle cx="714.9" cy="286.9" r="3.15"/><circle cx="801.2" cy="238.9" r="3.15"/><circle cx="676.0" cy="294.2" r="3.15"/><circle cx="722.1" cy="229.0" r="3.15"/><circle cx="770.3" cy="256.8" r="3.15"/><circle cx="717.4" cy="291.4" r="3.15"/><circle cx="797.4" cy="220.4" r="3.15"/><circle cx="631.6" cy="251.9" r="3.15"/><circle cx="681.7" cy="261.3" r="3.15"/><circle cx="752.3" cy="238.5" r="3.15"/><circle cx="1096.7" cy="286.8" r="3.15"/><circle cx="630.8" cy="248.7" r="3.15"/><circle cx="454.6" cy="288.0" r="3.15"/><circle cx="764.6" cy="255.0" r="3.15"/><circle cx="633.7" cy="283.9" r="3.15"/><circle cx="760.7" cy="270.7" r="3.15"/><circle cx="806.8" cy="234.5" r="3.15"/><circle cx="442.7" cy="271.6" r="3.15"/><circle cx="705.7" cy="302.7" r="3.15"/><circle cx="802.8" cy="249.2" r="3.15"/><circle cx="676.0" cy="245.4" r="3.15"/><circle cx="656.3" cy="268.6" r="3.15"/><circle cx="750.1" cy="279.7" r="3.15"/><circle cx="734.1" cy="228.3" r="3.15"/><circle cx="655.7" cy="208.0" r="3.15"/><circle cx="708.3" cy="261.5" r="3.15"/><circle cx="573.5" cy="260.8" r="3.15"/><circle cx="704.8" cy="298.5" r="3.15"/><circle cx="684.8" cy="264.4" r="3.15"/><circle cx="758.0" cy="274.1" r="3.15"/><circle cx="712.5" cy="280.0" r="3.15"/><circle cx="692.1" cy="287.0" r="3.15"/><circle cx="722.5" cy="277.0" r="3.15"/><circle cx="729.7" cy="252.7" r="3.15"/><circle cx="678.7" cy="290.1" r="3.15"/><circle cx="687.7" cy="261.2" r="3.15"/><circle cx="735.1" cy="219.6" r="3.15"/><circle cx="735.9" cy="289.1" r="3.15"/><circle cx="674.5" cy="269.2" r="3.15"/><circle cx="638.5" cy="279.7" r="3.15"/><circle cx="643.1" cy="268.4" r="3.15"/><circle cx="669.0" cy="258.3" r="3.15"/><circle cx="665.1" cy="275.2" r="3.15"/><circle cx="720.5" cy="272.9" r="3.15"/><circle cx="671.2" cy="299.7" r="3.15"/><circle cx="1088.2" cy="287.3" r="3.15"/><circle cx="688.2" cy="287.9" r="3.15"/><circle cx="629.4" cy="213.4" r="3.15"/><circle cx="722.1" cy="263.5" r="3.15"/><circle cx="659.9" cy="232.6" r="3.15"/><circle cx="496.4" cy="288.6" r="3.15"/><circle cx="658.1" cy="273.8" r="3.15"/><circle cx="638.5" cy="220.6" r="3.15"/><circle cx="639.2" cy="232.7" r="3.15"/><circle cx="710.0" cy="256.1" r="3.15"/><circle cx="850.5" cy="284.2" r="3.15"/><circle cx="661.1" cy="207.7" r="3.15"/><circle cx="871.9" cy="217.0" r="3.15"/><circle cx="1010.7" cy="289.2" r="3.15"/><circle cx="652.1" cy="279.0" r="3.15"/><circle cx="704.8" cy="212.3" r="3.15"/><circle cx="681.2" cy="287.2" r="3.15"/><circle cx="990.4" cy="244.7" r="3.15"/><circle cx="771.2" cy="286.4" r="3.15"/><circle cx="814.6" cy="296.6" r="3.15"/><circle cx="652.7" cy="240.0" r="3.15"/><circle cx="746.5" cy="262.1" r="3.15"/><circle cx="432.5" cy="249.3" r="3.15"/><circle cx="686.7" cy="262.1" r="3.15"/><circle cx="693.5" cy="228.2" r="3.15"/><circle cx="747.5" cy="266.4" r="3.15"/><circle cx="690.2" cy="221.2" r="3.15"/><circle cx="660.5" cy="221.7" r="3.15"/><circle cx="641.2" cy="246.3" r="3.15"/><circle cx="887.6" cy="247.1" r="3.15"/><circle cx="671.2" cy="261.1" r="3.15"/><circle cx="845.1" cy="208.6" r="3.15"/><circle cx="849.5" cy="294.0" r="3.15"/><circle cx="731.5" cy="239.8" r="3.15"/><circle cx="819.8" cy="279.0" r="3.15"/><circle cx="643.1" cy="268.8" r="3.15"/><circle cx="748.1" cy="241.2" r="3.15"/><circle cx="650.8" cy="263.9" r="3.15"/><circle cx="633.0" cy="275.1" r="3.15"/><circle cx="655.7" cy="255.6" r="3.15"/><circle cx="717.0" cy="235.5" r="3.15"/><circle cx="771.2" cy="278.1" r="3.15"/><circle cx="748.1" cy="288.4" r="3.15"/><circle cx="680.7" cy="283.8" r="3.15"/><circle cx="706.1" cy="280.9" r="3.15"/><circle cx="768.6" cy="240.1" r="3.15"/><circle cx="661.1" cy="237.1" r="3.15"/><circle cx="838.4" cy="263.7" r="3.15"/><circle cx="685.3" cy="255.9" r="3.15"/><circle cx="693.0" cy="250.0" r="3.15"/><circle cx="663.4" cy="240.5" r="3.15"/><circle cx="709.5" cy="288.4" r="3.15"/><circle cx="667.4" cy="208.7" r="3.15"/><circle cx="924.0" cy="225.0" r="3.15"/><circle cx="749.4" cy="216.9" r="3.15"/><circle cx="1010.5" cy="245.1" r="3.15"/><circle cx="1078.7" cy="237.0" r="3.15"/><circle cx="670.1" cy="245.3" r="3.15"/><circle cx="628.7" cy="215.2" r="3.15"/><circle cx="678.1" cy="296.5" r="3.15"/><circle cx="644.5" cy="209.1" r="3.15"/><circle cx="725.9" cy="261.5" r="3.15"/><circle cx="663.4" cy="251.2" r="3.15"/><circle cx="714.1" cy="278.2" r="3.15"/><circle cx="787.2" cy="300.7" r="3.15"/><circle cx="702.6" cy="293.3" r="3.15"/><circle cx="537.2" cy="209.2" r="3.15"/><circle cx="683.8" cy="291.4" r="3.15"/><circle cx="655.7" cy="302.6" r="3.15"/><circle cx="665.7" cy="231.2" r="3.15"/><circle cx="774.0" cy="207.2" r="3.15"/><circle cx="813.8" cy="291.4" r="3.15"/><circle cx="707.0" cy="247.4" r="3.15"/><circle cx="702.2" cy="216.7" r="3.15"/><circle cx="777.0" cy="274.2" r="3.15"/><circle cx="566.0" cy="265.1" r="3.15"/><circle cx="659.3" cy="277.2" r="3.15"/><circle cx="673.4" cy="223.3" r="3.15"/><circle cx="746.2" cy="253.3" r="3.15"/><circle cx="696.3" cy="253.4" r="3.15"/><circle cx="730.4" cy="292.3" r="3.15"/><circle cx="652.7" cy="222.2" r="3.15"/><circle cx="734.4" cy="273.4" r="3.15"/><circle cx="782.3" cy="236.5" r="3.15"/><circle cx="785.1" cy="281.7" r="3.15"/><circle cx="694.0" cy="250.8" r="3.15"/><circle cx="642.5" cy="236.9" r="3.15"/><circle cx="740.1" cy="273.2" r="3.15"/><circle cx="670.7" cy="288.1" r="3.15"/><circle cx="750.4" cy="279.5" r="3.15"/><circle cx="653.3" cy="233.9" r="3.15"/><circle cx="760.4" cy="259.7" r="3.15"/><circle cx="776.7" cy="224.7" r="3.15"/><circle cx="647.7" cy="301.5" r="3.15"/><circle cx="704.8" cy="289.8" r="3.15"/><circle cx="687.7" cy="278.8" r="3.15"/><circle cx="737.6" cy="298.7" r="3.15"/><circle cx="650.8" cy="287.5" r="3.15"/><circle cx="787.4" cy="214.6" r="3.15"/><circle cx="625.8" cy="247.3" r="3.15"/><circle cx="816.5" cy="215.8" r="3.15"/><circle cx="635.1" cy="275.7" r="3.15"/><circle cx="714.9" cy="270.4" r="3.15"/><circle cx="450.0" cy="228.5" r="3.15"/><circle cx="685.3" cy="224.4" r="3.15"/><circle cx="717.0" cy="224.9" r="3.15"/><circle cx="635.1" cy="250.6" r="3.15"/><circle cx="784.6" cy="297.0" r="3.15"/><circle cx="672.3" cy="215.9" r="3.15"/><circle cx="424.3" cy="285.3" r="3.15"/><circle cx="690.2" cy="235.2" r="3.15"/><circle cx="674.5" cy="252.9" r="3.15"/><circle cx="713.7" cy="265.4" r="3.15"/><circle cx="912.3" cy="232.7" r="3.15"/><circle cx="1071.3" cy="297.0" r="3.15"/><circle cx="735.5" cy="252.3" r="3.15"/><circle cx="698.1" cy="288.5" r="3.15"/><circle cx="636.4" cy="232.4" r="3.15"/><circle cx="517.4" cy="224.6" r="3.15"/><circle cx="753.9" cy="284.9" r="3.15"/><circle cx="629.4" cy="284.1" r="3.15"/><circle cx="810.1" cy="228.9" r="3.15"/><circle cx="734.1" cy="238.8" r="3.15"/><circle cx="643.8" cy="246.6" r="3.15"/><circle cx="789.7" cy="265.6" r="3.15"/><circle cx="779.1" cy="295.4" r="3.15"/><circle cx="731.5" cy="286.4" r="3.15"/><circle cx="648.9" cy="299.3" r="3.15"/><circle cx="770.9" cy="265.3" r="3.15"/><circle cx="1045.6" cy="246.0" r="3.15"/><circle cx="656.3" cy="261.1" r="3.15"/><circle cx="775.6" cy="270.4" r="3.15"/><circle cx="702.6" cy="242.8" r="3.15"/><circle cx="735.9" cy="230.0" r="3.15"/><circle cx="743.5" cy="298.6" r="3.15"/><circle cx="792.1" cy="304.0" r="3.15"/><circle cx="804.1" cy="258.6" r="3.15"/><circle cx="766.0" cy="276.7" r="3.15"/><circle cx="685.8" cy="299.9" r="3.15"/><circle cx="664.0" cy="297.8" r="3.15"/><circle cx="847.1" cy="246.5" r="3.15"/><circle cx="775.9" cy="273.6" r="3.15"/><circle cx="632.3" cy="235.1" r="3.15"/><circle cx="684.3" cy="295.7" r="3.15"/><circle cx="658.1" cy="222.4" r="3.15"/><circle cx="643.8" cy="248.3" r="3.15"/><circle cx="697.2" cy="236.4" r="3.15"/><circle cx="710.4" cy="261.0" r="3.15"/><circle cx="611.1" cy="303.9" r="3.15"/><circle cx="681.7" cy="256.8" r="3.15"/><circle cx="744.5" cy="229.3" r="3.15"/><circle cx="662.2" cy="301.1" r="3.15"/><circle cx="669.0" cy="221.4" r="3.15"/><circle cx="635.1" cy="234.5" r="3.15"/><circle cx="689.2" cy="270.1" r="3.15"/><circle cx="679.7" cy="298.9" r="3.15"/><circle cx="551.1" cy="221.1" r="3.15"/><circle cx="952.4" cy="261.6" r="3.15"/><circle cx="781.5" cy="299.6" r="3.15"/><circle cx="670.7" cy="223.8" r="3.15"/><circle cx="627.2" cy="232.7" r="3.15"/><circle cx="664.5" cy="268.3" r="3.15"/><circle cx="626.5" cy="238.4" r="3.15"/><circle cx="759.8" cy="280.8" r="3.15"/><circle cx="748.1" cy="223.6" r="3.15"/><circle cx="667.9" cy="291.3" r="3.15"/><circle cx="682.3" cy="257.2" r="3.15"/><circle cx="726.7" cy="216.1" r="3.15"/><circle cx="722.5" cy="227.6" r="3.15"/><circle cx="691.6" cy="229.0" r="3.15"/><circle cx="868.5" cy="227.9" r="3.15"/><circle cx="658.1" cy="273.2" r="3.15"/><circle cx="628.0" cy="227.4" r="3.15"/><circle cx="1087.5" cy="233.6" r="3.15"/><circle cx="685.8" cy="282.9" r="3.15"/><circle cx="676.6" cy="287.7" r="3.15"/><circle cx="706.5" cy="240.3" r="3.15"/><circle cx="622.8" cy="291.6" r="3.15"/><circle cx="668.5" cy="233.9" r="3.15"/><circle cx="690.2" cy="274.3" r="3.15"/><circle cx="766.3" cy="259.9" r="3.15"/><circle cx="680.7" cy="289.1" r="3.15"/><circle cx="623.5" cy="225.5" r="3.15"/><circle cx="714.1" cy="281.6" r="3.15"/><circle cx="699.0" cy="263.4" r="3.15"/><circle cx="686.3" cy="292.4" r="3.15"/><circle cx="643.1" cy="220.0" r="3.15"/><circle cx="435.1" cy="219.3" r="3.15"/><circle cx="695.4" cy="251.1" r="3.15"/><circle cx="656.9" cy="260.0" r="3.15"/><circle cx="637.1" cy="301.5" r="3.15"/><circle cx="665.7" cy="234.8" r="3.15"/><circle cx="721.7" cy="217.7" r="3.15"/><circle cx="636.4" cy="210.0" r="3.15"/><circle cx="624.3" cy="283.2" r="3.15"/><circle cx="629.4" cy="228.6" r="3.15"/><circle cx="788.9" cy="259.7" r="3.15"/><circle cx="675.0" cy="288.5" r="3.15"/><circle cx="654.5" cy="287.3" r="3.15"/><circle cx="729.0" cy="222.5" r="3.15"/><circle cx="709.1" cy="229.9" r="3.15"/><circle cx="800.2" cy="254.4" r="3.15"/><circle cx="656.3" cy="292.6" r="3.15"/><circle cx="625.8" cy="266.6" r="3.15"/><circle cx="655.1" cy="269.6" r="3.15"/><circle cx="886.4" cy="270.6" r="3.15"/><circle cx="815.7" cy="288.4" r="3.15"/><circle cx="702.2" cy="264.3" r="3.15"/><circle cx="643.8" cy="249.7" r="3.15"/><circle cx="683.8" cy="258.0" r="3.15"/><circle cx="722.1" cy="215.3" r="3.15"/><circle cx="629.4" cy="258.8" r="3.15"/><circle cx="771.2" cy="207.2" r="3.15"/><circle cx="654.5" cy="300.8" r="3.15"/><circle cx="814.8" cy="269.9" r="3.15"/><circle cx="643.1" cy="230.4" r="3.15"/><circle cx="669.0" cy="245.2" r="3.15"/><circle cx="733.4" cy="238.2" r="3.15"/><circle cx="667.9" cy="262.2" r="3.15"/><circle cx="666.8" cy="227.4" r="3.15"/><circle cx="799.5" cy="231.2" r="3.15"/><circle cx="622.0" cy="232.4" r="3.15"/><circle cx="648.9" cy="227.4" r="3.15"/><circle cx="666.2" cy="296.2" r="3.15"/><circle cx="637.8" cy="297.2" r="3.15"/><circle cx="769.8" cy="221.7" r="3.15"/><circle cx="630.8" cy="207.8" r="3.15"/><circle cx="734.1" cy="231.7" r="3.15"/><circle cx="625.8" cy="256.0" r="3.15"/><circle cx="652.7" cy="251.6" r="3.15"/><circle cx="706.5" cy="276.7" r="3.15"/><circle cx="789.4" cy="267.3" r="3.15"/><circle cx="667.4" cy="231.2" r="3.15"/><circle cx="1060.3" cy="234.7" r="3.15"/><circle cx="718.6" cy="215.9" r="3.15"/><circle cx="787.2" cy="241.8" r="3.15"/><circle cx="712.5" cy="221.2" r="3.15"/><circle cx="687.7" cy="247.1" r="3.15"/><circle cx="690.6" cy="232.2" r="3.15"/><circle cx="677.1" cy="260.5" r="3.15"/><circle cx="704.4" cy="218.7" r="3.15"/><circle cx="666.2" cy="251.3" r="3.15"/><circle cx="686.3" cy="232.4" r="3.15"/><circle cx="630.8" cy="283.1" r="3.15"/><circle cx="865.8" cy="275.1" r="3.15"/><circle cx="590.2" cy="234.6" r="3.15"/><circle cx="774.5" cy="227.8" r="3.15"/><circle cx="639.2" cy="236.1" r="3.15"/><circle cx="722.1" cy="260.9" r="3.15"/><circle cx="779.9" cy="303.6" r="3.15"/><circle cx="632.3" cy="221.9" r="3.15"/><circle cx="639.8" cy="284.6" r="3.15"/><circle cx="786.4" cy="245.5" r="3.15"/><circle cx="641.8" cy="282.6" r="3.15"/><circle cx="711.6" cy="242.9" r="3.15"/><circle cx="731.9" cy="234.4" r="3.15"/><circle cx="787.9" cy="280.2" r="3.15"/><circle cx="622.0" cy="295.4" r="3.15"/><circle cx="728.2" cy="297.3" r="3.15"/><circle cx="747.8" cy="224.7" r="3.15"/><circle cx="649.6" cy="241.4" r="3.15"/><circle cx="760.1" cy="274.4" r="3.15"/><circle cx="712.9" cy="220.0" r="3.15"/><circle cx="789.9" cy="245.1" r="3.15"/><circle cx="806.2" cy="250.1" r="3.15"/><circle cx="772.0" cy="259.5" r="3.15"/><circle cx="665.1" cy="231.2" r="3.15"/><circle cx="816.1" cy="208.8" r="3.15"/><circle cx="630.1" cy="219.5" r="3.15"/><circle cx="646.4" cy="295.1" r="3.15"/><circle cx="691.6" cy="208.4" r="3.15"/><circle cx="452.3" cy="230.9" r="3.15"/><circle cx="744.2" cy="291.3" r="3.15"/><circle cx="787.9" cy="222.2" r="3.15"/><circle cx="671.8" cy="233.6" r="3.15"/><circle cx="684.8" cy="229.4" r="3.15"/><circle cx="821.4" cy="244.1" r="3.15"/><circle cx="714.1" cy="244.8" r="3.15"/><circle cx="682.8" cy="236.0" r="3.15"/><circle cx="535.8" cy="242.6" r="3.15"/><circle cx="669.0" cy="236.0" r="3.15"/><circle cx="704.8" cy="236.6" r="3.15"/><circle cx="803.7" cy="279.2" r="3.15"/><circle cx="644.5" cy="302.7" r="3.15"/><circle cx="714.1" cy="219.7" r="3.15"/><circle cx="699.0" cy="222.1" r="3.15"/><circle cx="736.2" cy="289.2" r="3.15"/><circle cx="688.2" cy="250.1" r="3.15"/><circle cx="647.0" cy="294.8" r="3.15"/><circle cx="630.8" cy="252.4" r="3.15"/><circle cx="820.6" cy="256.4" r="3.15"/><circle cx="799.3" cy="209.6" r="3.15"/><circle cx="628.0" cy="213.4" r="3.15"/><circle cx="630.8" cy="252.1" r="3.15"/><circle cx="662.8" cy="271.2" r="3.15"/><circle cx="637.1" cy="279.6" r="3.15"/><circle cx="672.8" cy="301.5" r="3.15"/><circle cx="650.2" cy="234.4" r="3.15"/><circle cx="663.4" cy="295.6" r="3.15"/><circle cx="678.7" cy="230.0" r="3.15"/><circle cx="766.9" cy="217.6" r="3.15"/><circle cx="669.0" cy="226.0" r="3.15"/><circle cx="648.3" cy="271.3" r="3.15"/><circle cx="720.5" cy="246.3" r="3.15"/><circle cx="720.1" cy="290.2" r="3.15"/><circle cx="662.2" cy="271.9" r="3.15"/><circle cx="672.8" cy="286.6" r="3.15"/><circle cx="740.4" cy="230.5" r="3.15"/><circle cx="695.8" cy="296.6" r="3.15"/><circle cx="714.1" cy="281.0" r="3.15"/><circle cx="741.1" cy="208.3" r="3.15"/><circle cx="787.7" cy="249.8" r="3.15"/><circle cx="648.3" cy="215.7" r="3.15"/><circle cx="659.9" cy="271.8" r="3.15"/><circle cx="667.9" cy="240.2" r="3.15"/><circle cx="647.7" cy="217.4" r="3.15"/><circle cx="628.7" cy="264.8" r="3.15"/><circle cx="703.9" cy="302.1" r="3.15"/><circle cx="559.3" cy="220.6" r="3.15"/><circle cx="708.7" cy="297.3" r="3.15"/><circle cx="787.9" cy="231.5" r="3.15"/><circle cx="829.7" cy="217.1" r="3.15"/><circle cx="663.4" cy="275.0" r="3.15"/><circle cx="637.8" cy="247.6" r="3.15"/><circle cx="632.3" cy="272.7" r="3.15"/><circle cx="774.2" cy="253.1" r="3.15"/><circle cx="764.0" cy="303.8" r="3.15"/><circle cx="636.4" cy="267.9" r="3.15"/><circle cx="763.7" cy="269.4" r="3.15"/><circle cx="760.1" cy="232.1" r="3.15"/><circle cx="653.3" cy="260.5" r="3.15"/><circle cx="642.5" cy="253.8" r="3.15"/><circle cx="633.7" cy="272.2" r="3.15"/><circle cx="518.9" cy="236.1" r="3.15"/><circle cx="872.3" cy="206.7" r="3.15"/><circle cx="722.1" cy="228.9" r="3.15"/><circle cx="701.7" cy="214.8" r="3.15"/><circle cx="693.0" cy="221.4" r="3.15"/><circle cx="652.1" cy="223.9" r="3.15"/><circle cx="656.9" cy="210.5" r="3.15"/><circle cx="812.9" cy="251.8" r="3.15"/><circle cx="645.7" cy="206.6" r="3.15"/><circle cx="731.2" cy="269.6" r="3.15"/><circle cx="424.3" cy="247.8" r="3.15"/><circle cx="657.5" cy="252.3" r="3.15"/><circle cx="652.1" cy="225.3" r="3.15"/><circle cx="706.1" cy="239.6" r="3.15"/><circle cx="753.0" cy="213.3" r="3.15"/><circle cx="869.1" cy="242.6" r="3.15"/><circle cx="650.2" cy="258.8" r="3.15"/><circle cx="633.7" cy="206.8" r="3.15"/><circle cx="817.5" cy="222.3" r="3.15"/><circle cx="732.3" cy="268.9" r="3.15"/><circle cx="634.4" cy="221.5" r="3.15"/><circle cx="733.0" cy="297.5" r="3.15"/><circle cx="665.7" cy="291.2" r="3.15"/><circle cx="680.2" cy="223.2" r="3.15"/><circle cx="703.9" cy="264.3" r="3.15"/><circle cx="705.2" cy="222.7" r="3.15"/><circle cx="700.8" cy="276.0" r="3.15"/><circle cx="665.7" cy="277.9" r="3.15"/><circle cx="701.7" cy="221.8" r="3.15"/><circle cx="753.6" cy="223.1" r="3.15"/><circle cx="918.4" cy="288.7" r="3.15"/><circle cx="633.7" cy="294.4" r="3.15"/><circle cx="710.8" cy="206.6" r="3.15"/><circle cx="639.2" cy="248.1" r="3.15"/><circle cx="902.9" cy="288.3" r="3.15"/><circle cx="625.8" cy="250.4" r="3.15"/><circle cx="759.2" cy="285.0" r="3.15"/><circle cx="649.6" cy="215.1" r="3.15"/><circle cx="774.2" cy="293.1" r="3.15"/><circle cx="717.8" cy="259.0" r="3.15"/><circle cx="628.0" cy="292.2" r="3.15"/><circle cx="622.0" cy="277.7" r="3.15"/><circle cx="782.3" cy="274.4" r="3.15"/><circle cx="622.8" cy="238.8" r="3.15"/><circle cx="707.0" cy="233.0" r="3.15"/><circle cx="707.4" cy="285.7" r="3.15"/><circle cx="649.6" cy="291.7" r="3.15"/><circle cx="827.3" cy="262.9" r="3.15"/><circle cx="637.1" cy="210.3" r="3.15"/><circle cx="984.7" cy="303.9" r="3.15"/><circle cx="715.7" cy="263.2" r="3.15"/><circle cx="655.1" cy="223.1" r="3.15"/><circle cx="1015.2" cy="294.9" r="3.15"/><circle cx="649.6" cy="248.0" r="3.15"/><circle cx="728.6" cy="247.3" r="3.15"/><circle cx="701.7" cy="297.8" r="3.15"/><circle cx="635.7" cy="236.3" r="3.15"/><circle cx="745.5" cy="227.9" r="3.15"/><circle cx="779.4" cy="272.5" r="3.15"/><circle cx="926.1" cy="220.7" r="3.15"/><circle cx="501.5" cy="218.6" r="3.15"/><circle cx="788.2" cy="232.3" r="3.15"/><circle cx="747.5" cy="297.3" r="3.15"/><circle cx="829.7" cy="277.5" r="3.15"/><circle cx="709.1" cy="261.8" r="3.15"/><circle cx="673.4" cy="226.1" r="3.15"/><circle cx="666.8" cy="281.9" r="3.15"/><circle cx="707.4" cy="221.2" r="3.15"/><circle cx="630.8" cy="228.9" r="3.15"/><circle cx="689.7" cy="222.4" r="3.15"/><circle cx="642.5" cy="212.8" r="3.15"/><circle cx="696.3" cy="289.2" r="3.15"/><circle cx="739.0" cy="209.5" r="3.15"/><circle cx="718.6" cy="283.4" r="3.15"/><circle cx="731.2" cy="286.6" r="3.15"/><circle cx="721.3" cy="240.8" r="3.15"/><circle cx="821.8" cy="293.7" r="3.15"/><circle cx="827.3" cy="221.0" r="3.15"/><circle cx="429.8" cy="292.7" r="3.15"/><circle cx="644.5" cy="262.5" r="3.15"/><circle cx="639.2" cy="241.2" r="3.15"/><circle cx="700.8" cy="208.8" r="3.15"/><circle cx="789.7" cy="212.3" r="3.15"/><circle cx="774.0" cy="208.1" r="3.15"/><circle cx="756.1" cy="258.4" r="3.15"/><circle cx="755.2" cy="241.0" r="3.15"/><circle cx="749.1" cy="258.4" r="3.15"/><circle cx="966.7" cy="299.3" r="3.15"/><circle cx="661.1" cy="236.3" r="3.15"/><circle cx="791.9" cy="239.4" r="3.15"/><circle cx="639.2" cy="229.4" r="3.15"/><circle cx="727.5" cy="278.6" r="3.15"/><circle cx="749.8" cy="290.5" r="3.15"/><circle cx="576.6" cy="253.6" r="3.15"/><circle cx="647.0" cy="222.6" r="3.15"/><circle cx="736.2" cy="215.8" r="3.15"/><circle cx="798.1" cy="229.2" r="3.15"/><circle cx="956.2" cy="260.4" r="3.15"/><circle cx="760.4" cy="229.6" r="3.15"/><circle cx="762.5" cy="238.6" r="3.15"/><circle cx="767.2" cy="224.4" r="3.15"/><circle cx="701.7" cy="263.4" r="3.15"/><circle cx="712.5" cy="255.2" r="3.15"/><circle cx="800.0" cy="234.7" r="3.15"/><circle cx="800.9" cy="276.6" r="3.15"/><circle cx="715.7" cy="287.9" r="3.15"/><circle cx="696.7" cy="265.6" r="3.15"/><circle cx="744.5" cy="277.7" r="3.15"/><circle cx="714.1" cy="238.7" r="3.15"/><circle cx="842.5" cy="241.5" r="3.15"/><circle cx="628.0" cy="233.1" r="3.15"/><circle cx="694.9" cy="269.9" r="3.15"/><circle cx="645.1" cy="227.6" r="3.15"/><circle cx="758.9" cy="248.6" r="3.15"/><circle cx="1046.2" cy="236.5" r="3.15"/><circle cx="725.6" cy="265.2" r="3.15"/><circle cx="709.5" cy="304.4" r="3.15"/><circle cx="693.5" cy="218.7" r="3.15"/><circle cx="659.9" cy="218.8" r="3.15"/><circle cx="637.8" cy="242.6" r="3.15"/><circle cx="707.4" cy="237.3" r="3.15"/><circle cx="736.6" cy="285.3" r="3.15"/><circle cx="893.8" cy="277.9" r="3.15"/><circle cx="829.5" cy="208.1" r="3.15"/><circle cx="630.8" cy="207.4" r="3.15"/><circle cx="682.8" cy="294.1" r="3.15"/><circle cx="778.6" cy="286.0" r="3.15"/><circle cx="624.3" cy="304.2" r="3.15"/><circle cx="1091.2" cy="302.3" r="3.15"/><circle cx="652.7" cy="289.0" r="3.15"/><circle cx="752.3" cy="214.1" r="3.15"/><circle cx="749.8" cy="265.6" r="3.15"/><circle cx="944.8" cy="229.8" r="3.15"/><circle cx="680.7" cy="238.6" r="3.15"/><circle cx="658.7" cy="257.9" r="3.15"/><circle cx="722.1" cy="281.3" r="3.15"/><circle cx="740.8" cy="284.6" r="3.15"/><circle cx="700.4" cy="249.6" r="3.15"/><circle cx="766.9" cy="237.3" r="3.15"/><circle cx="722.1" cy="218.5" r="3.15"/><circle cx="916.1" cy="212.9" r="3.15"/><circle cx="724.0" cy="228.0" r="3.15"/><circle cx="726.3" cy="285.8" r="3.15"/><circle cx="691.1" cy="254.0" r="3.15"/><circle cx="775.9" cy="276.8" r="3.15"/><circle cx="709.5" cy="278.7" r="3.15"/><circle cx="904.3" cy="250.7" r="3.15"/><circle cx="654.5" cy="264.6" r="3.15"/><circle cx="660.5" cy="256.6" r="3.15"/><circle cx="731.2" cy="266.1" r="3.15"/><circle cx="628.7" cy="223.1" r="3.15"/><circle cx="633.0" cy="246.9" r="3.15"/><circle cx="677.1" cy="273.8" r="3.15"/><circle cx="762.5" cy="297.1" r="3.15"/><circle cx="622.0" cy="254.7" r="3.15"/><circle cx="856.7" cy="245.5" r="3.15"/><circle cx="734.4" cy="207.5" r="3.15"/><circle cx="710.8" cy="286.6" r="3.15"/><circle cx="883.6" cy="206.6" r="3.15"/><circle cx="713.3" cy="282.5" r="3.15"/><circle cx="684.3" cy="296.9" r="3.15"/><circle cx="763.4" cy="256.9" r="3.15"/><circle cx="652.7" cy="300.9" r="3.15"/><circle cx="736.2" cy="290.9" r="3.15"/><circle cx="643.8" cy="230.3" r="3.15"/><circle cx="678.1" cy="234.4" r="3.15"/><circle cx="685.3" cy="299.7" r="3.15"/><circle cx="705.2" cy="238.2" r="3.15"/><circle cx="623.5" cy="220.2" r="3.15"/><circle cx="712.0" cy="289.0" r="3.15"/><circle cx="942.1" cy="293.8" r="3.15"/><circle cx="628.7" cy="235.0" r="3.15"/><circle cx="655.1" cy="255.5" r="3.15"/><circle cx="695.4" cy="291.6" r="3.15"/><circle cx="759.2" cy="214.5" r="3.15"/><circle cx="770.0" cy="238.8" r="3.15"/><circle cx="790.9" cy="230.8" r="3.15"/><circle cx="866.1" cy="216.3" r="3.15"/><circle cx="633.7" cy="237.9" r="3.15"/><circle cx="666.2" cy="253.0" r="3.15"/><circle cx="629.4" cy="285.4" r="3.15"/><circle cx="834.5" cy="294.2" r="3.15"/><circle cx="731.2" cy="299.1" r="3.15"/><circle cx="703.9" cy="238.5" r="3.15"/><circle cx="686.7" cy="266.5" r="3.15"/><circle cx="659.3" cy="239.7" r="3.15"/><circle cx="601.0" cy="301.9" r="3.15"/><circle cx="781.5" cy="261.7" r="3.15"/><circle cx="740.8" cy="213.9" r="3.15"/><circle cx="682.3" cy="250.8" r="3.15"/><circle cx="645.1" cy="249.8" r="3.15"/><circle cx="716.6" cy="208.1" r="3.15"/><circle cx="589.3" cy="249.1" r="3.15"/><circle cx="715.3" cy="220.9" r="3.15"/><circle cx="1041.0" cy="297.7" r="3.15"/><circle cx="634.4" cy="298.8" r="3.15"/><circle cx="636.4" cy="240.1" r="3.15"/><circle cx="721.7" cy="236.2" r="3.15"/><circle cx="646.4" cy="242.3" r="3.15"/><circle cx="555.8" cy="243.2" r="3.15"/><circle cx="691.6" cy="236.6" r="3.15"/><circle cx="694.0" cy="220.0" r="3.15"/><circle cx="721.7" cy="280.0" r="3.15"/><circle cx="779.1" cy="284.1" r="3.15"/><circle cx="761.9" cy="303.4" r="3.15"/><circle cx="633.0" cy="228.0" r="3.15"/><circle cx="647.7" cy="231.5" r="3.15"/><circle cx="776.4" cy="234.7" r="3.15"/><circle cx="706.1" cy="300.1" r="3.15"/><circle cx="643.1" cy="292.8" r="3.15"/><circle cx="671.8" cy="280.4" r="3.15"/><circle cx="795.8" cy="269.2" r="3.15"/><circle cx="847.8" cy="259.1" r="3.15"/><circle cx="788.7" cy="284.6" r="3.15"/><circle cx="764.3" cy="216.7" r="3.15"/><circle cx="740.8" cy="257.4" r="3.15"/><circle cx="786.9" cy="265.1" r="3.15"/><circle cx="683.8" cy="304.4" r="3.15"/><circle cx="882.7" cy="232.4" r="3.15"/><circle cx="728.6" cy="250.1" r="3.15"/><circle cx="682.8" cy="232.8" r="3.15"/><circle cx="923.7" cy="230.8" r="3.15"/><circle cx="751.1" cy="289.9" r="3.15"/><circle cx="654.5" cy="277.6" r="3.15"/><circle cx="701.7" cy="209.0" r="3.15"/><circle cx="697.7" cy="281.5" r="3.15"/><circle cx="714.9" cy="227.4" r="3.15"/><circle cx="633.7" cy="281.9" r="3.15"/><circle cx="773.7" cy="268.7" r="3.15"/><circle cx="696.7" cy="269.3" r="3.15"/><circle cx="645.7" cy="238.5" r="3.15"/><circle cx="706.1" cy="286.6" r="3.15"/><circle cx="717.0" cy="262.0" r="3.15"/><circle cx="637.8" cy="283.0" r="3.15"/><circle cx="846.1" cy="256.2" r="3.15"/><circle cx="672.8" cy="225.0" r="3.15"/><circle cx="819.6" cy="248.7" r="3.15"/><circle cx="782.8" cy="228.5" r="3.15"/><circle cx="660.5" cy="215.9" r="3.15"/><circle cx="629.4" cy="221.7" r="3.15"/><circle cx="645.1" cy="225.2" r="3.15"/><circle cx="1015.4" cy="225.4" r="3.15"/><circle cx="752.3" cy="253.1" r="3.15"/><circle cx="629.4" cy="228.7" r="3.15"/><circle cx="738.7" cy="225.1" r="3.15"/><circle cx="756.4" cy="304.2" r="3.15"/><circle cx="722.5" cy="219.4" r="3.15"/><circle cx="705.2" cy="276.9" r="3.15"/><circle cx="673.9" cy="247.2" r="3.15"/><circle cx="1063.5" cy="250.4" r="3.15"/><circle cx="674.5" cy="273.4" r="3.15"/><circle cx="728.2" cy="214.4" r="3.15"/><circle cx="785.9" cy="250.7" r="3.15"/><circle cx="669.0" cy="238.3" r="3.15"/><circle cx="817.7" cy="278.3" r="3.15"/><circle cx="650.2" cy="269.2" r="3.15"/><circle cx="761.3" cy="240.0" r="3.15"/><circle cx="803.9" cy="229.2" r="3.15"/><circle cx="732.6" cy="238.8" r="3.15"/><circle cx="669.6" cy="301.9" r="3.15"/><circle cx="781.0" cy="303.0" r="3.15"/><circle cx="429.8" cy="234.1" r="3.15"/><circle cx="843.9" cy="224.9" r="3.15"/><circle cx="753.0" cy="243.2" r="3.15"/><circle cx="671.2" cy="251.3" r="3.15"/><circle cx="656.9" cy="238.0" r="3.15"/><circle cx="637.1" cy="212.1" r="3.15"/><circle cx="745.2" cy="246.5" r="3.15"/><circle cx="671.2" cy="274.6" r="3.15"/><circle cx="625.8" cy="237.5" r="3.15"/><circle cx="767.5" cy="275.0" r="3.15"/><circle cx="630.1" cy="254.6" r="3.15"/><circle cx="638.5" cy="296.0" r="3.15"/><circle cx="864.0" cy="260.3" r="3.15"/><circle cx="712.9" cy="303.3" r="3.15"/><circle cx="627.2" cy="211.8" r="3.15"/><circle cx="662.8" cy="210.8" r="3.15"/><circle cx="687.2" cy="281.7" r="3.15"/><circle cx="698.1" cy="256.1" r="3.15"/><circle cx="724.8" cy="253.4" r="3.15"/><circle cx="645.7" cy="304.5" r="3.15"/><circle cx="700.8" cy="207.3" r="3.15"/><circle cx="639.2" cy="247.2" r="3.15"/><circle cx="724.4" cy="264.3" r="3.15"/><circle cx="676.6" cy="292.6" r="3.15"/><circle cx="760.1" cy="264.0" r="3.15"/><circle cx="757.3" cy="289.9" r="3.15"/><circle cx="773.7" cy="267.2" r="3.15"/><circle cx="752.7" cy="206.6" r="3.15"/><circle cx="691.6" cy="212.0" r="3.15"/><circle cx="769.8" cy="217.4" r="3.15"/><circle cx="711.2" cy="239.8" r="3.15"/><circle cx="740.4" cy="232.0" r="3.15"/><circle cx="629.4" cy="222.5" r="3.15"/><circle cx="635.7" cy="224.3" r="3.15"/><circle cx="637.1" cy="216.9" r="3.15"/><circle cx="643.1" cy="231.6" r="3.15"/><circle cx="623.5" cy="243.4" r="3.15"/><circle cx="631.6" cy="264.4" r="3.15"/><circle cx="622.0" cy="263.6" r="3.15"/><circle cx="734.4" cy="293.9" r="3.15"/><circle cx="1072.6" cy="302.6" r="3.15"/><circle cx="665.7" cy="285.7" r="3.15"/><circle cx="679.2" cy="240.5" r="3.15"/><circle cx="680.7" cy="266.6" r="3.15"/><circle cx="740.8" cy="266.8" r="3.15"/><circle cx="738.3" cy="287.2" r="3.15"/><circle cx="747.1" cy="300.7" r="3.15"/><circle cx="777.0" cy="251.3" r="3.15"/><circle cx="814.6" cy="247.1" r="3.15"/><circle cx="745.2" cy="296.7" r="3.15"/><circle cx="775.1" cy="285.5" r="3.15"/><circle cx="695.8" cy="225.7" r="3.15"/><circle cx="709.1" cy="295.1" r="3.15"/><circle cx="722.1" cy="226.9" r="3.15"/><circle cx="628.0" cy="252.3" r="3.15"/><circle cx="738.0" cy="253.7" r="3.15"/><circle cx="714.5" cy="225.3" r="3.15"/><circle cx="695.4" cy="239.2" r="3.15"/><circle cx="692.1" cy="297.7" r="3.15"/><circle cx="665.1" cy="293.8" r="3.15"/><circle cx="678.1" cy="293.7" r="3.15"/><circle cx="1059.9" cy="244.4" r="3.15"/><circle cx="589.3" cy="279.5" r="3.15"/><circle cx="651.4" cy="274.0" r="3.15"/><circle cx="775.6" cy="211.2" r="3.15"/><circle cx="681.7" cy="242.8" r="3.15"/><circle cx="731.5" cy="215.1" r="3.15"/><circle cx="693.0" cy="294.3" r="3.15"/><circle cx="622.8" cy="265.1" r="3.15"/><circle cx="649.6" cy="229.9" r="3.15"/><circle cx="702.2" cy="286.8" r="3.15"/><circle cx="690.6" cy="270.5" r="3.15"/><circle cx="940.1" cy="282.6" r="3.15"/><circle cx="725.2" cy="236.6" r="3.15"/><circle cx="868.6" cy="237.4" r="3.15"/><circle cx="638.5" cy="270.5" r="3.15"/><circle cx="693.0" cy="212.2" r="3.15"/><circle cx="690.6" cy="209.7" r="3.15"/><circle cx="635.1" cy="219.0" r="3.15"/><circle cx="739.4" cy="270.2" r="3.15"/><circle cx="764.9" cy="257.6" r="3.15"/><circle cx="817.5" cy="281.6" r="3.15"/><circle cx="668.5" cy="263.5" r="3.15"/><circle cx="690.6" cy="298.8" r="3.15"/><circle cx="622.0" cy="280.1" r="3.15"/><circle cx="626.5" cy="207.0" r="3.15"/><circle cx="728.2" cy="269.5" r="3.15"/><circle cx="770.6" cy="260.6" r="3.15"/><circle cx="658.1" cy="300.9" r="3.15"/><circle cx="645.1" cy="248.0" r="3.15"/><circle cx="639.8" cy="301.3" r="3.15"/><circle cx="711.6" cy="231.2" r="3.15"/><circle cx="746.5" cy="224.5" r="3.15"/><circle cx="702.6" cy="209.4" r="3.15"/><circle cx="666.2" cy="304.9" r="3.15"/><circle cx="729.7" cy="298.5" r="3.15"/><circle cx="645.7" cy="269.5" r="3.15"/><circle cx="635.1" cy="232.7" r="3.15"/><circle cx="741.1" cy="249.4" r="3.15"/><circle cx="703.9" cy="258.4" r="3.15"/><circle cx="655.7" cy="284.5" r="3.15"/><circle cx="633.7" cy="249.8" r="3.15"/><circle cx="527.6" cy="288.8" r="3.15"/><circle cx="638.5" cy="229.7" r="3.15"/><circle cx="716.6" cy="216.2" r="3.15"/><circle cx="647.0" cy="301.4" r="3.15"/><circle cx="675.0" cy="221.1" r="3.15"/><circle cx="733.7" cy="215.4" r="3.15"/><circle cx="435.1" cy="282.2" r="3.15"/><circle cx="713.3" cy="236.1" r="3.15"/><circle cx="666.8" cy="293.1" r="3.15"/><circle cx="667.4" cy="244.0" r="3.15"/><circle cx="720.5" cy="232.0" r="3.15"/><circle cx="622.8" cy="247.8" r="3.15"/><circle cx="728.2" cy="226.5" r="3.15"/><circle cx="724.4" cy="277.8" r="3.15"/><circle cx="1100.3" cy="211.3" r="3.15"/><circle cx="1101.0" cy="250.0" r="3.15"/>
</g>
<g fill="#4e79a7" fill-opacity="0.45" stroke="#4e79a7" stroke-opacity="0.45" stroke-width="0.5">
<circle cx="805.5" cy="408.3" r="3.15"/><circle cx="782.5" cy="434.5" r="3.15"/><circle cx="1027.5" cy="441.3" r="3.15"/><circle cx="896.3" cy="467.3" r="3.15"/><circle cx="859.5" cy="477.3" r="3.15"/><circle cx="844.3" cy="494.5" r="3.15"/><circle cx="1032.3" cy="488.3" r="3.15"/><circle cx="1153.3" cy="407.3" r="3.15"/><circle cx="1120.3" cy="418.5" r="3.15"/><circle cx="1084.5" cy="422.5" r="3.15"/><circle cx="1120.3" cy="426.5" r="3.15"/><circle cx="1144.3" cy="425.3" r="3.15"/><circle cx="1176.3" cy="427.5" r="3.15"/><circle cx="1188.3" cy="426.5" r="3.15"/><circle cx="1116.3" cy="431.3" r="3.15"/><circle cx="1123.3" cy="434.3" r="3.15"/><circle cx="1184.3" cy="433.5" r="3.15"/><circle cx="1115.3" cy="437.7" r="3.15"/><circle cx="1129.3" cy="437.5" r="3.15"/><circle cx="1142.3" cy="437.5" r="3.15"/><circle cx="1214.3" cy="437.5" r="3.15"/><circle cx="1161.3" cy="440.3" r="3.15"/><circle cx="1119.3" cy="448.3" r="3.15"/><circle cx="1145.3" cy="448.3" r="3.15"/><circle cx="1169.3" cy="448.3" r="3.15"/><circle cx="1199.3" cy="447.5" r="3.15"/><circle cx="1131.7" cy="453.3" r="3.15"/><circle cx="1144.3" cy="456.3" r="3.15"/><circle cx="1145.3" cy="457.3" r="3.15"/><circle cx="1195.3" cy="457.3" r="3.15"/><circle cx="1202.3" cy="460.5" r="3.15"/><circle cx="1224.3" cy="462.3" r="3.15"/><circle cx="1083.3" cy="459.5" r="3.15"/><circle cx="1113.3" cy="463.3" r="3.15"/><circle cx="1136.3" cy="465.5" r="3.15"/><circle cx="1116.3" cy="474.0" r="3.15"/><circle cx="1117.0" cy="474.7" r="3.15"/><circle cx="1163.3" cy="473.3" r="3.15"/><circle cx="1146.3" cy="480.5" r="3.15"/><circle cx="1183.3" cy="482.3" r="3.15"/><circle cx="1093.3" cy="486.3" r="3.15"/><circle cx="1122.3" cy="487.3" r="3.15"/><circle cx="1113.3" cy="491.3" r="3.15"/><circle cx="1141.3" cy="492.5" r="3.15"/><circle cx="1150.3" cy="494.3" r="3.15"/><circle cx="1127.3" cy="497.3" r="3.15"/><circle cx="1131.3" cy="500.3" r="3.15"/><circle cx="1138.3" cy="501.3" r="3.15"/><circle cx="1066.3" cy="502.5" r="3.15"/><circle cx="1249.2" cy="489.5" r="3.15"/><circle cx="1307.3" cy="413.3" r="3.15"/><circle cx="1257.3" cy="425.5" r="3.15"/><circle cx="1273.3" cy="447.5" r="3.15"/>
</g>
<g fill="#e15759" fill-opacity="0.45" stroke="#e15759" stroke-opacity="0.45" stroke-width="0.5">
<circle cx="1245.3" cy="604.5" r="3.15"/><circle cx="1229.3" cy="618.5" r="3.15"/><circle cx="1232.3" cy="633.5" r="3.15"/><circle cx="1240.3" cy="634.5" r="3.15"/><circle cx="1230.3" cy="670.5" r="3.15"/><circle cx="1259.3" cy="666.3" r="3.15"/><circle cx="1249.3" cy="678.3" r="3.15"/><circle cx="1243.3" cy="688.5" r="3.15"/><circle cx="1238.3" cy="691.3" r="3.15"/><circle cx="1290.3" cy="605.5" r="3.15"/><circle cx="1304.3" cy="605.5" r="3.15"/><circle cx="1297.3" cy="626.3" r="3.15"/><circle cx="1287.3" cy="655.3" r="3.15"/><circle cx="1313.3" cy="658.3" r="3.15"/><circle cx="1293.3" cy="696.3" r="3.15"/><circle cx="1320.3" cy="682.3" r="3.15"/><circle cx="1339.3" cy="621.3" r="3.15"/><circle cx="1351.3" cy="631.3" r="3.15"/><circle cx="1357.3" cy="638.5" r="3.15"/><circle cx="1360.3" cy="654.3" r="3.15"/><circle cx="1353.3" cy="664.3" r="3.15"/><circle cx="1341.3" cy="681.3" r="3.15"/><circle cx="1371.3" cy="688.5" r="3.15"/><circle cx="1393.3" cy="624.3" r="3.15"/><circle cx="1405.3" cy="619.5" r="3.15"/><circle cx="1413.3" cy="618.5" r="3.15"/><circle cx="1491.3" cy="609.5" r="3.15"/><circle cx="1499.3" cy="627.5" r="3.15"/><circle cx="1508.3" cy="633.5" r="3.15"/><circle cx="1524.3" cy="637.5" r="3.15"/><circle cx="1563.3" cy="646.5" r="3.15"/><circle cx="1428.3" cy="657.3" r="3.15"/><circle cx="1448.3" cy="669.5" r="3.15"/><circle cx="1479.3" cy="672.3" r="3.15"/><circle cx="1511.3" cy="681.3" r="3.15"/><circle cx="1437.3" cy="694.3" r="3.15"/><circle cx="1594.3" cy="612.3" r="3.15"/><circle cx="1606.3" cy="654.3" r="3.15"/><circle cx="1630.3" cy="656.3" r="3.15"/><circle cx="1595.3" cy="678.3" r="3.15"/><circle cx="1659.3" cy="619.5" r="3.15"/><circle cx="1664.3" cy="616.3" r="3.15"/><circle cx="1692.3" cy="632.3" r="3.15"/><circle cx="1708.3" cy="664.3" r="3.15"/><circle cx="1676.3" cy="687.3" r="3.15"/><circle cx="1847.3" cy="625.3" r="3.15"/><circle cx="1866.3" cy="662.3" r="3.15"/><circle cx="1883.3" cy="685.3" r="3.15"/><circle cx="1979.3" cy="657.3" r="3.15"/>
</g>
<line x1="692.5" x2="692.5" y1="196.6" y2="315.0" stroke="#59a14f" stroke-width="5.2" stroke-linecap="round"/>
<line x1="1134.5" x2="1134.5" y1="394.4" y2="513.2" stroke="#4e79a7" stroke-width="5.2" stroke-linecap="round"/>
<line x1="1394.5" x2="1394.5" y1="592.8" y2="710.8" stroke="#e15759" stroke-width="5.2" stroke-linecap="round"/>
<line x1="209.2" x2="209.2" y1="258.8" y2="336.8" stroke="#59a14f" stroke-width="1.7"/>
<line x1="1101.1" x2="1101.1" y1="174.3" y2="251.7" stroke="#59a14f" stroke-width="1.7"/>
<line x1="782.0" x2="782.0" y1="457.0" y2="534.8" stroke="#4e79a7" stroke-width="1.7"/>
<line x1="1307.3" x2="1307.3" y1="372.0" y2="449.7" stroke="#4e79a7" stroke-width="1.7"/>
<line x1="1229.0" x2="1229.0" y1="655.0" y2="732.3" stroke="#e15759" stroke-width="1.7"/>
<line x1="1979.0" x2="1979.0" y1="569.6" y2="648.0" stroke="#e15759" stroke-width="1.7"/>
<text x="181.98" y="352.7" font-size="16.2" fill="#59a14f" textLength="54.10" lengthAdjust="spacingAndGlyphs">Vilaque</text>
<text x="194.62" y="370.9" font-size="16.2" fill="#59a14f" textLength="29.52" lengthAdjust="spacingAndGlyphs">(13)</text>
<text x="1074.42" y="149.9" font-size="16.2" fill="#59a14f" textLength="52.69" lengthAdjust="spacingAndGlyphs">Illataco</text>
<text x="1075.13" y="167.8" font-size="16.2" fill="#59a14f" textLength="51.94" lengthAdjust="spacingAndGlyphs">(4,778)</text>
<text x="717.81" y="550.7" font-size="16.2" fill="#4e79a7" textLength="53.56" lengthAdjust="spacingAndGlyphs">Colonia</text>
<text x="776.82" y="550.7" font-size="16.2" fill="#4e79a7" textLength="67.74" lengthAdjust="spacingAndGlyphs">Manitoba</text>
<text x="762.89" y="567.8" font-size="16.2" fill="#4e79a7" textLength="38.76" lengthAdjust="spacingAndGlyphs">(577)</text>
<text x="1271.79" y="348.0" font-size="16.2" fill="#4e79a7" textLength="69.12" lengthAdjust="spacingAndGlyphs">Achocalla</text>
<text x="1275.30" y="365.8" font-size="16.2" fill="#4e79a7" textLength="62.77" lengthAdjust="spacingAndGlyphs">(18,722)</text>
<text x="1211.56" y="748.3" font-size="16.2" fill="#e15759" textLength="34.46" lengthAdjust="spacingAndGlyphs">Cliza</text>
<text x="1197.34" y="766.0" font-size="16.2" fill="#e15759" textLength="62.70" lengthAdjust="spacingAndGlyphs">(11,136)</text>
<text x="1893.58" y="545.8" font-size="16.2" fill="#e15759" textLength="41.78" lengthAdjust="spacingAndGlyphs">Santa</text>
<text x="1940.73" y="545.8" font-size="16.2" fill="#e15759" textLength="33.80" lengthAdjust="spacingAndGlyphs">Cruz</text>
<text x="1978.71" y="545.8" font-size="16.2" fill="#e15759" textLength="18.86" lengthAdjust="spacingAndGlyphs">de</text>
<text x="2001.99" y="545.8" font-size="16.2" fill="#e15759" textLength="11.93" lengthAdjust="spacingAndGlyphs">la</text>
<text x="2019.56" y="545.8" font-size="16.2" fill="#e15759" textLength="42.86" lengthAdjust="spacingAndGlyphs">Sierra</text>
<text x="1935.88" y="564.0" font-size="16.2" fill="#e15759" textLength="85.12" lengthAdjust="spacingAndGlyphs">(1,595,927)</text>
<text x="659.44" y="161.9" font-size="16.0" fill="#59a14f" textLength="65.23" lengthAdjust="spacingAndGlyphs" font-weight="bold">median</text>
<text x="675.85" y="179.0" font-size="16.0" fill="#59a14f" textLength="33.28" lengthAdjust="spacingAndGlyphs" font-weight="bold">318</text>
<text x="1100.57" y="359.9" font-size="16.0" fill="#4e79a7" textLength="64.99" lengthAdjust="spacingAndGlyphs" font-weight="bold">median</text>
<text x="1109.35" y="376.7" font-size="16.0" fill="#4e79a7" textLength="47.50" lengthAdjust="spacingAndGlyphs" font-weight="bold">5,923</text>
<text x="1361.44" y="558.0" font-size="16.0" fill="#e15759" textLength="65.01" lengthAdjust="spacingAndGlyphs" font-weight="bold">median</text>
<text x="1363.94" y="574.9" font-size="16.0" fill="#e15759" textLength="60.74" lengthAdjust="spacingAndGlyphs" font-weight="bold">33,228</text>
<rect x="121.0" y="107.0" width="1946.0" height="693.0" fill="none" stroke="#2a2d3a" stroke-width="2"/>
<path d="M170.0 801.0v6.3M517.0 801.0v6.3M865.0 801.0v6.3M1213.0 801.0v6.3M1560.0 801.0v6.3M1908.0 801.0v6.3" stroke="#7a7f8c" stroke-width="1.67" fill="none"/>
<path d="M136.5 801.0v3.8M154.5 801.0v3.8M274.5 801.0v3.8M336.5 801.0v3.8M379.5 801.0v3.8M413.5 801.0v3.8M440.5 801.0v3.8M464.5 801.0v3.8M484.5 801.0v3.8M501.5 801.0v3.8M622.5 801.0v3.8M683.5 801.0v3.8M727.5 801.0v3.8M760.5 801.0v3.8M788.5 801.0v3.8M811.5 801.0v3.8M831.5 801.0v3.8M849.5 801.0v3.8M970.5 801.0v3.8M1031.5 801.0v3.8M1074.5 801.0v3.8M1108.5 801.0v3.8M1136.5 801.0v3.8M1159.5 801.0v3.8M1179.5 801.0v3.8M1197.5 801.0v3.8M1317.5 801.0v3.8M1379.5 801.0v3.8M1422.5 801.0v3.8M1456.5 801.0v3.8M1483.5 801.0v3.8M1507.5 801.0v3.8M1527.5 801.0v3.8M1545.5 801.0v3.8M1665.5 801.0v3.8M1726.5 801.0v3.8M1770.5 801.0v3.8M1803.5 801.0v3.8M1831.5 801.0v3.8M1854.5 801.0v3.8M1874.5 801.0v3.8M1892.5 801.0v3.8M2013.5 801.0v3.8" stroke="#7a7f8c" stroke-width="1.25" fill="none"/>
<path d="M120.0 256h-6.2M120.0 453h-6.2M120.0 651h-6.2" stroke="#e6e6ec" stroke-width="1.67" fill="none"/>
<text x="152.39" y="834.0" font-size="23.2" fill="#7a7f8c" textLength="25.55" lengthAdjust="spacingAndGlyphs">10</text>
<text x="178.54" y="826.0" font-size="17.6" fill="#7a7f8c" textLength="7.98" lengthAdjust="spacingAndGlyphs">1</text>
<text x="500.26" y="834.0" font-size="23.2" fill="#7a7f8c" textLength="25.73" lengthAdjust="spacingAndGlyphs">10</text>
<text x="525.15" y="826.0" font-size="17.6" fill="#7a7f8c" textLength="10.01" lengthAdjust="spacingAndGlyphs">2</text>
<text x="848.26" y="834.0" font-size="23.2" fill="#7a7f8c" textLength="25.73" lengthAdjust="spacingAndGlyphs">10</text>
<text x="873.21" y="826.0" font-size="17.6" fill="#7a7f8c" textLength="9.94" lengthAdjust="spacingAndGlyphs">3</text>
<text x="1195.39" y="834.0" font-size="23.2" fill="#7a7f8c" textLength="25.55" lengthAdjust="spacingAndGlyphs">10</text>
<text x="1220.37" y="826.0" font-size="17.6" fill="#7a7f8c" textLength="9.49" lengthAdjust="spacingAndGlyphs">4</text>
<text x="1543.39" y="834.0" font-size="23.2" fill="#7a7f8c" textLength="25.55" lengthAdjust="spacingAndGlyphs">10</text>
<text x="1568.14" y="826.0" font-size="17.6" fill="#7a7f8c" textLength="9.93" lengthAdjust="spacingAndGlyphs">5</text>
<text x="1891.77" y="834.0" font-size="23.2" fill="#7a7f8c" textLength="25.70" lengthAdjust="spacingAndGlyphs">10</text>
<text x="1916.46" y="826.0" font-size="17.6" fill="#7a7f8c" textLength="10.24" lengthAdjust="spacingAndGlyphs">6</text>
<text x="21.62" y="265.0" font-size="25.6" fill="#f0f0f2" textLength="83.65" lengthAdjust="spacingAndGlyphs">Village</text>
<text x="42.29" y="463.0" font-size="25.6" fill="#f0f0f2" textLength="63.67" lengthAdjust="spacingAndGlyphs">Town</text>
<text x="57.84" y="660.8" font-size="25.6" fill="#f0f0f2" textLength="47.01" lengthAdjust="spacingAndGlyphs">City</text>
<text x="957.81" y="866.9" font-size="25.6" fill="#7a7f8c" textLength="133.25" lengthAdjust="spacingAndGlyphs">Population</text>
<text x="1098.22" y="866.9" font-size="25.6" fill="#7a7f8c" textLength="48.01" lengthAdjust="spacingAndGlyphs">(log</text>
<text x="1153.71" y="866.9" font-size="25.6" fill="#7a7f8c" textLength="75.12" lengthAdjust="spacingAndGlyphs">scale)</text>
<text x="716.27" y="45.8" font-size="29.8" fill="#e8e8ec" textLength="68.17" lengthAdjust="spacingAndGlyphs">OSM</text>
<text x="792.51" y="45.8" font-size="29.8" fill="#e8e8ec" textLength="102.37" lengthAdjust="spacingAndGlyphs">place=</text>
<text x="904.48" y="45.8" font-size="29.8" fill="#e8e8ec" textLength="156.70" lengthAdjust="spacingAndGlyphs">population</text>
<text x="1069.06" y="45.8" font-size="29.8" fill="#e8e8ec" textLength="181.55" lengthAdjust="spacingAndGlyphs">distributions</text>
<text x="1262.03" y="45.8" font-size="29.8" fill="#e8e8ec" textLength="26.23" lengthAdjust="spacingAndGlyphs">—</text>
<text x="1298.32" y="45.8" font-size="29.8" fill="#e8e8ec" textLength="95.50" lengthAdjust="spacingAndGlyphs">Bolivia</text>
<text x="1405.73" y="45.8" font-size="29.8" fill="#e8e8ec" textLength="64.69" lengthAdjust="spacingAndGlyphs">(BO)</text>
<text x="944.65" y="78.2" font-size="29.8" fill="#e8e8ec" textLength="62.19" lengthAdjust="spacingAndGlyphs">(city</text>
<text x="1016.94" y="78.2" font-size="29.8" fill="#e8e8ec" textLength="10.80" lengthAdjust="spacingAndGlyphs">/</text>
<text x="1036.69" y="78.2" font-size="29.8" fill="#e8e8ec" textLength="72.24" lengthAdjust="spacingAndGlyphs">town</text>
<text x="1116.94" y="78.2" font-size="29.8" fill="#e8e8ec" textLength="10.80" lengthAdjust="spacingAndGlyphs">/</text>
<text x="1137.88" y="78.2" font-size="29.8" fill="#e8e8ec" textLength="106.22" lengthAdjust="spacingAndGlyphs">village)</text>
<text x="1815.34" y="887.6" font-size="16.0" fill="#6b6f7c" textLength="37.45" lengthAdjust="spacingAndGlyphs" font-style="italic">Data</text>
<text x="1858.63" y="887.6" font-size="16.0" fill="#6b6f7c" textLength="16.98" lengthAdjust="spacingAndGlyphs" font-style="italic">as</text>
<text x="1880.92" y="887.6" font-size="16.0" fill="#6b6f7c" textLength="14.73" lengthAdjust="spacingAndGlyphs" font-style="italic">of</text>
<text x="1900.67" y="887.6" font-size="16.0" fill="#6b6f7c" textLength="91.63" lengthAdjust="spacingAndGlyphs" font-style="italic">2026-04-04</text>
<text x="1997.19" y="887.6" font-size="16.0" fill="#6b6f7c" textLength="44.37" lengthAdjust="spacingAndGlyphs" font-style="italic">06:40</text>
<text x="2047.35" y="887.6" font-size="16.0" fill="#6b6f7c" textLength="31.44" lengthAdjust="spacingAndGlyphs" font-style="italic">UTC</text>
<rect x="1820.2" y="700.1" width="237.7" height="89.4" rx="3.2" fill="#1c1f28" fill-opacity="0.9" stroke="#2a2d3a" stroke-width="2"/>
<rect x="1826.4" y="708.4" width="39.3" height="14.4" fill="#e15759" stroke="#e15759" stroke-width="1"/>
<text x="1879.58" y="722.0" font-size="19.9" fill="#e6e6ea" textLength="36.51" lengthAdjust="spacingAndGlyphs">City</text>
<text x="1928.13" y="722.0" font-size="19.9" fill="#e6e6ea" textLength="67.17" lengthAdjust="spacingAndGlyphs">(n=51)</text>
<rect x="1826.4" y="736.6" width="39.3" height="14.4" fill="#4e79a7" stroke="#4e79a7" stroke-width="1"/>
<text x="1880.17" y="750.7" font-size="19.9" fill="#e6e6ea" textLength="47.56" lengthAdjust="spacingAndGlyphs">Town</text>
<text x="1938.69" y="750.7" font-size="19.9" fill="#e6e6ea" textLength="67.11" lengthAdjust="spacingAndGlyphs">(n=54)</text>
<rect x="1826.4" y="765.4" width="39.3" height="14.4" fill="#59a14f" stroke="#59a14f" stroke-width="1"/>
<text x="1880.30" y="778.9" font-size="19.9" fill="#e6e6ea" textLength="62.59" lengthAdjust="spacingAndGlyphs">Village</text>
<text x="1954.87" y="778.9" font-size="19.9" fill="#e6e6ea" textLength="96.34" lengthAdjust="spacingAndGlyphs">(n=4,941)</text>
</svg></body></html>
